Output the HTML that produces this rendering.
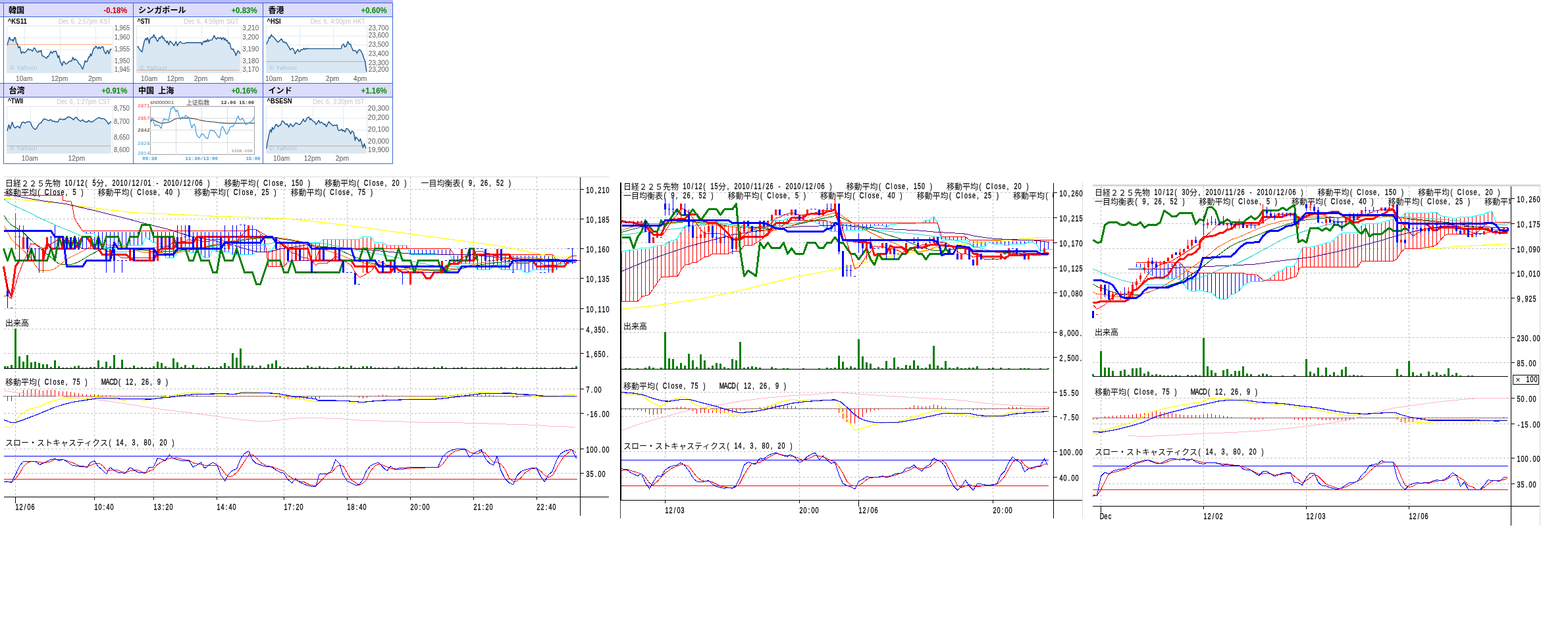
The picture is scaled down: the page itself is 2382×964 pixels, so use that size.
<!DOCTYPE html>
<html><head><meta charset="utf-8"><title>charts</title>
<style>
html,body{margin:0;padding:0;background:#fff;}
body{width:2382px;height:964px;overflow:hidden;font-family:"Liberation Sans",sans-serif;}
svg{display:block;font-family:"Liberation Sans",sans-serif;}
svg{will-change:transform;}
.cj{font-family:"Liberation Sans","Noto Sans CJK JP",sans-serif;}
.cs{font-family:"Liberation Sans","Noto Sans CJK SC",sans-serif;}
</style></head><body>
<svg width="2382" height="964" viewBox="0 0 2382 964" shape-rendering="crispEdges">
<rect x="0" y="0" width="597" height="4" fill="#babafa" />
<rect x="0" y="4" width="597" height="1" fill="#3869d0" />
<rect x="0" y="5" width="596" height="20" fill="#dcdcfc" />
<rect x="0" y="127" width="596" height="20" fill="#dcdcfc" />
<rect x="0" y="25" width="597" height="1" fill="#3869d0" />
<rect x="0" y="126" width="597" height="1" fill="#3869d0" />
<rect x="0" y="147" width="597" height="1" fill="#3869d0" />
<rect x="5" y="248" width="592" height="1" fill="#3869d0" />
<rect x="5" y="4" width="1" height="245" fill="#3869d0" />
<rect x="202" y="4" width="1" height="245" fill="#3869d0" />
<rect x="399" y="4" width="1" height="245" fill="#3869d0" />
<rect x="596" y="4" width="1" height="245" fill="#3869d0" />
<text class="cj" x="13" y="19.8" font-size="12.1" font-weight="bold" fill="#000">韓国</text>
<text x="193.3" y="20.1" font-size="12" fill="#cc0000" text-anchor="end" font-weight="bold" textLength="35.7" lengthAdjust="spacingAndGlyphs" >-0.18%</text>
<text class="cj" x="210" y="19.8" font-size="12.1" font-weight="bold" fill="#000">シンガポール</text>
<text x="390.6" y="20.1" font-size="12" fill="#0a8a0a" text-anchor="end" font-weight="bold" textLength="39.2" lengthAdjust="spacingAndGlyphs" >+0.83%</text>
<text class="cj" x="407.5" y="19.8" font-size="12.1" font-weight="bold" fill="#000">香港</text>
<text x="587.8" y="20.1" font-size="12" fill="#0a8a0a" text-anchor="end" font-weight="bold" textLength="39.3" lengthAdjust="spacingAndGlyphs" >+0.60%</text>
<text class="cj" x="13.5" y="141.8" font-size="12.1" font-weight="bold" fill="#000">台湾</text>
<text x="193.4" y="142.1" font-size="12" fill="#0a8a0a" text-anchor="end" font-weight="bold" textLength="39.1" lengthAdjust="spacingAndGlyphs" >+0.91%</text>
<text class="cj" x="210" y="141.8" font-size="12.1" font-weight="bold" fill="#000">中国</text>
<text class="cj" x="240.2" y="141.8" font-size="12.1" font-weight="bold" fill="#000">上海</text>
<text x="390.6" y="142.1" font-size="12" fill="#0a8a0a" text-anchor="end" font-weight="bold" textLength="39.2" lengthAdjust="spacingAndGlyphs" >+0.16%</text>
<text class="cj" x="407.5" y="141.8" font-size="12.1" font-weight="bold" fill="#000">インド</text>
<text x="587.8" y="142.1" font-size="12" fill="#0a8a0a" text-anchor="end" font-weight="bold" textLength="39.3" lengthAdjust="spacingAndGlyphs" >+1.16%</text>
<text x="11.7" y="35.5" font-size="10.4" fill="#000" font-weight="bold" textLength="29.2" lengthAdjust="spacingAndGlyphs" >^KS11</text>
<text x="88.8" y="35.8" font-size="10.4" fill="#c4c4c4" textLength="79.7" lengthAdjust="spacingAndGlyphs" word-spacing="1">Dec 6, 2:57pm KST</text>
<rect x="10.4" y="39.3" width="161.4" height="71.3" fill="#fff" stroke="#e2e6ea" stroke-width="1"/>
<line x1="37.6" y1="39.3" x2="37.6" y2="112.6" stroke="#e3ebf3" stroke-width="1" />
<line x1="91.4" y1="39.3" x2="91.4" y2="112.6" stroke="#e3ebf3" stroke-width="1" />
<line x1="145.2" y1="39.3" x2="145.2" y2="112.6" stroke="#e3ebf3" stroke-width="1" />
<line x1="10.4" y1="57" x2="173.8" y2="57" stroke="#e3ebf3" stroke-width="1" />
<line x1="10.4" y1="75.2" x2="173.8" y2="75.2" stroke="#e3ebf3" stroke-width="1" />
<line x1="10.4" y1="93.3" x2="173.8" y2="93.3" stroke="#e3ebf3" stroke-width="1" />
<polygon points="11,110.6 11,68.7 14.3,56.4 16.2,60.9 19.4,60.3 19.7,62.9 22.7,56.4 24,59.6 24.6,64.8 26.6,66.8 27.9,72.6 30.1,70.7 32.4,81 34.4,78.4 36.9,80.4 40.2,77.8 42.8,73.9 44.7,75.8 46.7,75.2 49.3,77.8 51.9,72.6 53.8,74.5 55.1,77.8 57.7,79.7 59,77.1 60.9,78.4 62.6,76.5 63.9,84.3 67.4,86.2 70.7,88.8 72,85.6 73.2,86.2 75.8,81 77.4,77.8 79.1,81 81.7,77.8 83,78.4 84.9,77.4 86.2,81 88.2,87.5 89.5,84.3 91.4,93.3 93.3,96.6 94.4,99.8 95.9,94 97.2,93.3 99.8,97.2 101.8,96.6 105.7,92.7 108.9,92.7 110.6,86.9 112.8,91.4 114.1,89.5 117.3,92 119.9,96.6 122.5,99.2 125.5,105 127.7,98.5 129.3,92 130.9,94 132.5,93.3 134.8,86.2 136.1,86.9 137.4,81.7 138.7,84.9 142.4,73.2 143.9,73.2 145.5,70 147.1,72 149.1,73.9 150.4,71 152.3,73.9 154.3,71.3 156.6,71 158.2,77.8 160.8,81.7 162.1,77.8 163.7,76.5 165.3,81.7 167.5,75.2 169.6,74.5 169.6,110.6" fill="#d7e7f2" stroke="none" stroke-width="0" fill-opacity="0.95" shape-rendering="geometricPrecision"/>
<text x="15" y="106" font-size="9.5" fill="#a9c1d5" letter-spacing="0.4">© Yahoo!</text>
<polyline points="11,68.7 14.3,56.4 16.2,60.9 19.4,60.3 19.7,62.9 22.7,56.4 24,59.6 24.6,64.8 26.6,66.8 27.9,72.6 30.1,70.7 32.4,81 34.4,78.4 36.9,80.4 40.2,77.8 42.8,73.9 44.7,75.8 46.7,75.2 49.3,77.8 51.9,72.6 53.8,74.5 55.1,77.8 57.7,79.7 59,77.1 60.9,78.4 62.6,76.5 63.9,84.3 67.4,86.2 70.7,88.8 72,85.6 73.2,86.2 75.8,81 77.4,77.8 79.1,81 81.7,77.8 83,78.4 84.9,77.4 86.2,81 88.2,87.5 89.5,84.3 91.4,93.3 93.3,96.6 94.4,99.8 95.9,94 97.2,93.3 99.8,97.2 101.8,96.6 105.7,92.7 108.9,92.7 110.6,86.9 112.8,91.4 114.1,89.5 117.3,92 119.9,96.6 122.5,99.2 125.5,105 127.7,98.5 129.3,92 130.9,94 132.5,93.3 134.8,86.2 136.1,86.9 137.4,81.7 138.7,84.9 142.4,73.2 143.9,73.2 145.5,70 147.1,72 149.1,73.9 150.4,71 152.3,73.9 154.3,71.3 156.6,71 158.2,77.8 160.8,81.7 162.1,77.8 163.7,76.5 165.3,81.7 167.5,75.2 169.6,74.5" fill="none" stroke="#1b568f" stroke-width="1.4" stroke-linejoin="round" shape-rendering="geometricPrecision"/>
<line x1="11" y1="67.5" x2="170" y2="67.5" stroke="#ff5a00" stroke-width="1" stroke-dasharray="1 1" shape-rendering="crispEdges"/>
<text x="173.7" y="45.7" font-size="10" fill="#585858" textLength="23.6" lengthAdjust="spacingAndGlyphs" >1,965</text>
<text x="173.7" y="60" font-size="10" fill="#585858" textLength="23.6" lengthAdjust="spacingAndGlyphs" >1,960</text>
<text x="173.7" y="78.1" font-size="10" fill="#585858" textLength="23.6" lengthAdjust="spacingAndGlyphs" >1,955</text>
<text x="173.7" y="95.9" font-size="10" fill="#585858" textLength="23.6" lengthAdjust="spacingAndGlyphs" >1,950</text>
<text x="173.7" y="108.6" font-size="10" fill="#585858" textLength="23.6" lengthAdjust="spacingAndGlyphs" >1,945</text>
<text x="36.7" y="122.6" font-size="10" fill="#585858" text-anchor="middle" textLength="25.3" lengthAdjust="spacingAndGlyphs" >10am</text>
<text x="90.5" y="122.6" font-size="10" fill="#585858" text-anchor="middle" textLength="25.7" lengthAdjust="spacingAndGlyphs" >12pm</text>
<text x="144.2" y="122.6" font-size="10" fill="#585858" text-anchor="middle" textLength="20.5" lengthAdjust="spacingAndGlyphs" >2pm</text>
<text x="208.4" y="35.5" font-size="10.4" fill="#000" font-weight="bold" textLength="19.1" lengthAdjust="spacingAndGlyphs" >^STI</text>
<text x="279.3" y="35.8" font-size="10.4" fill="#c4c4c4" textLength="83.4" lengthAdjust="spacingAndGlyphs" word-spacing="1">Dec 6, 4:59pm SGT</text>
<rect x="207.4" y="39.3" width="158.6" height="71.3" fill="#fff" stroke="#e2e6ea" stroke-width="1"/>
<line x1="227.5" y1="39.3" x2="227.5" y2="112.6" stroke="#e3ebf3" stroke-width="1" />
<line x1="267.4" y1="39.3" x2="267.4" y2="112.6" stroke="#e3ebf3" stroke-width="1" />
<line x1="306.6" y1="39.3" x2="306.6" y2="112.6" stroke="#e3ebf3" stroke-width="1" />
<line x1="346.5" y1="39.3" x2="346.5" y2="112.6" stroke="#e3ebf3" stroke-width="1" />
<line x1="207.4" y1="57" x2="367.9" y2="57" stroke="#e3ebf3" stroke-width="1" />
<line x1="207.4" y1="75.2" x2="367.9" y2="75.2" stroke="#e3ebf3" stroke-width="1" />
<line x1="207.4" y1="93.3" x2="367.9" y2="93.3" stroke="#e3ebf3" stroke-width="1" />
<polygon points="208.4,110.6 208.4,71.3 209.7,70.7 211.7,74.5 215.8,79.1 217.5,70.7 219.4,62.2 221.4,58.3 222.7,60.9 224,57 225.3,59.6 226.6,66.1 227.9,59 230.5,56.4 231.8,57 233.7,52.5 235,57 236.3,56.4 237.6,60.3 239.5,62.9 242.1,57 243.4,58.3 244.7,55.7 246.4,54.5 247.3,58.3 248.6,57 249.9,60.9 251.9,62.2 253.2,64.8 254.5,62.2 256.4,68.1 258.3,62.2 260.3,64.2 262.2,66.1 264.4,69.4 267.4,62.9 269.4,69.4 271.3,66.1 273.9,62.9 276.5,65.9 281,65.9 282.3,64.8 305.7,64.8 306.6,68.1 308.3,64.2 310.2,62.2 311.2,64.2 312.8,61.6 314.1,63.5 315.6,59.6 316.7,62.9 318.6,60.9 321.9,60.7 323.8,57.7 325.4,53.8 327.1,57.7 329,59.6 330.9,57 333.5,58.3 335.5,57 336.8,60.3 338.1,57.7 339.4,57 340.7,60.9 342,58.3 343.9,62.2 345.2,60.9 347.1,66.1 348.4,64.8 349.7,67.4 351,73.9 353,75.2 354.3,73.9 355.6,78.4 356.9,79.1 358.4,84.3 361.4,77.1 363.4,79.1 364.9,81.7 364.9,110.6" fill="#d7e7f2" stroke="none" stroke-width="0" fill-opacity="0.95" shape-rendering="geometricPrecision"/>
<text x="212" y="106" font-size="9.5" fill="#a9c1d5" letter-spacing="0.4">© Yahoo!</text>
<polyline points="208.4,71.3 209.7,70.7 211.7,74.5 215.8,79.1 217.5,70.7 219.4,62.2 221.4,58.3 222.7,60.9 224,57 225.3,59.6 226.6,66.1 227.9,59 230.5,56.4 231.8,57 233.7,52.5 235,57 236.3,56.4 237.6,60.3 239.5,62.9 242.1,57 243.4,58.3 244.7,55.7 246.4,54.5 247.3,58.3 248.6,57 249.9,60.9 251.9,62.2 253.2,64.8 254.5,62.2 256.4,68.1 258.3,62.2 260.3,64.2 262.2,66.1 264.4,69.4 267.4,62.9 269.4,69.4 271.3,66.1 273.9,62.9 276.5,65.9 281,65.9 282.3,64.8 305.7,64.8 306.6,68.1 308.3,64.2 310.2,62.2 311.2,64.2 312.8,61.6 314.1,63.5 315.6,59.6 316.7,62.9 318.6,60.9 321.9,60.7 323.8,57.7 325.4,53.8 327.1,57.7 329,59.6 330.9,57 333.5,58.3 335.5,57 336.8,60.3 338.1,57.7 339.4,57 340.7,60.9 342,58.3 343.9,62.2 345.2,60.9 347.1,66.1 348.4,64.8 349.7,67.4 351,73.9 353,75.2 354.3,73.9 355.6,78.4 356.9,79.1 358.4,84.3 361.4,77.1 363.4,79.1 364.9,81.7" fill="none" stroke="#1b568f" stroke-width="1.4" stroke-linejoin="round" shape-rendering="geometricPrecision"/>
<line x1="208" y1="106.5" x2="364" y2="106.5" stroke="#ff5a00" stroke-width="1" stroke-dasharray="1 1" shape-rendering="crispEdges"/>
<text x="368.2" y="45.7" font-size="10" fill="#585858" textLength="25" lengthAdjust="spacingAndGlyphs" >3,210</text>
<text x="368.2" y="60" font-size="10" fill="#585858" textLength="25" lengthAdjust="spacingAndGlyphs" >3,200</text>
<text x="368.2" y="78.1" font-size="10" fill="#585858" textLength="25" lengthAdjust="spacingAndGlyphs" >3,190</text>
<text x="368.2" y="95.9" font-size="10" fill="#585858" textLength="25" lengthAdjust="spacingAndGlyphs" >3,180</text>
<text x="368.2" y="108.6" font-size="10" fill="#585858" textLength="25" lengthAdjust="spacingAndGlyphs" >3,170</text>
<text x="226.6" y="122.6" font-size="10" fill="#585858" text-anchor="middle" textLength="25.3" lengthAdjust="spacingAndGlyphs" >10am</text>
<text x="266.4" y="122.6" font-size="10" fill="#585858" text-anchor="middle" textLength="25.7" lengthAdjust="spacingAndGlyphs" >12pm</text>
<text x="305" y="122.6" font-size="10" fill="#585858" text-anchor="middle" textLength="20.5" lengthAdjust="spacingAndGlyphs" >2pm</text>
<text x="344.9" y="122.6" font-size="10" fill="#585858" text-anchor="middle" textLength="20.5" lengthAdjust="spacingAndGlyphs" >4pm</text>
<text x="405.6" y="35.5" font-size="10.4" fill="#000" font-weight="bold" textLength="21" lengthAdjust="spacingAndGlyphs" >^HSI</text>
<text x="471.7" y="35.8" font-size="10.4" fill="#c4c4c4" textLength="83.2" lengthAdjust="spacingAndGlyphs" word-spacing="1">Dec 6, 4:00pm HKT</text>
<rect x="404.5" y="39.3" width="153" height="71.3" fill="#fff" stroke="#e2e6ea" stroke-width="1"/>
<line x1="455.5" y1="39.3" x2="455.5" y2="112.6" stroke="#e3ebf3" stroke-width="1" />
<line x1="506.4" y1="39.3" x2="506.4" y2="112.6" stroke="#e3ebf3" stroke-width="1" />
<line x1="404.5" y1="54.5" x2="559.5" y2="54.5" stroke="#e3ebf3" stroke-width="1" />
<line x1="404.5" y1="68.3" x2="559.5" y2="68.3" stroke="#e3ebf3" stroke-width="1" />
<line x1="404.5" y1="82.3" x2="559.5" y2="82.3" stroke="#e3ebf3" stroke-width="1" />
<line x1="404.5" y1="96.3" x2="559.5" y2="96.3" stroke="#e3ebf3" stroke-width="1" />
<polygon points="404.9,110.6 404.9,67.4 406.2,63.5 407.5,61.6 408.8,56.4 410.1,57.7 412.3,52.5 413.3,55.1 414.6,55.1 417.9,59 420.5,62.2 422,64.2 425,61.6 427.6,59 430.4,64.2 432.1,63.5 434.1,65.5 435,64.8 437.3,69.4 439.3,72 440.8,75.8 442.5,73.9 444.5,73.2 447,77.1 448.3,81.7 450.3,77.8 452.5,74.8 453.5,77.8 455.5,78.4 457.4,75.2 459.4,75.8 461.3,73.2 462.6,75.2 464.5,73.2 465.8,74.5 467.5,73.2 468.4,73.9 518.3,73.9 519.6,68.7 522.2,66.8 523.5,71.3 526.1,70 528.5,62.9 530.7,67.4 532.4,66.8 533.9,71.3 536.5,77.1 539.1,76.5 541,77.8 542.3,81 544.3,76.5 546.2,75.2 548.2,77.1 550.8,82.3 552.7,88.2 554.6,92.7 555.9,102.4 556.9,108.9 556.9,110.6" fill="#d7e7f2" stroke="none" stroke-width="0" fill-opacity="0.95" shape-rendering="geometricPrecision"/>
<text x="409.1" y="106" font-size="9.5" fill="#a9c1d5" letter-spacing="0.4">© Yahoo!</text>
<polyline points="404.9,67.4 406.2,63.5 407.5,61.6 408.8,56.4 410.1,57.7 412.3,52.5 413.3,55.1 414.6,55.1 417.9,59 420.5,62.2 422,64.2 425,61.6 427.6,59 430.4,64.2 432.1,63.5 434.1,65.5 435,64.8 437.3,69.4 439.3,72 440.8,75.8 442.5,73.9 444.5,73.2 447,77.1 448.3,81.7 450.3,77.8 452.5,74.8 453.5,77.8 455.5,78.4 457.4,75.2 459.4,75.8 461.3,73.2 462.6,75.2 464.5,73.2 465.8,74.5 467.5,73.2 468.4,73.9 518.3,73.9 519.6,68.7 522.2,66.8 523.5,71.3 526.1,70 528.5,62.9 530.7,67.4 532.4,66.8 533.9,71.3 536.5,77.1 539.1,76.5 541,77.8 542.3,81 544.3,76.5 546.2,75.2 548.2,77.1 550.8,82.3 552.7,88.2 554.6,92.7 555.9,102.4 556.9,108.9" fill="none" stroke="#1b568f" stroke-width="1.4" stroke-linejoin="round" shape-rendering="geometricPrecision"/>
<line x1="405" y1="93.5" x2="556" y2="93.5" stroke="#ff5a00" stroke-width="1" stroke-dasharray="1 1" shape-rendering="crispEdges"/>
<text x="559.8" y="45.7" font-size="10" fill="#585858" textLength="30.7" lengthAdjust="spacingAndGlyphs" >23,700</text>
<text x="559.8" y="56.8" font-size="10" fill="#585858" textLength="30.7" lengthAdjust="spacingAndGlyphs" >23,600</text>
<text x="559.8" y="70.8" font-size="10" fill="#585858" textLength="30.7" lengthAdjust="spacingAndGlyphs" >23,500</text>
<text x="559.8" y="84.6" font-size="10" fill="#585858" textLength="30.7" lengthAdjust="spacingAndGlyphs" >23,400</text>
<text x="559.8" y="98.6" font-size="10" fill="#585858" textLength="30.7" lengthAdjust="spacingAndGlyphs" >23,300</text>
<text x="559.8" y="108.6" font-size="10" fill="#585858" textLength="30.7" lengthAdjust="spacingAndGlyphs" >23,200</text>
<text x="415.7" y="122.6" font-size="10" fill="#585858" text-anchor="middle" textLength="25.3" lengthAdjust="spacingAndGlyphs" >10am</text>
<text x="454.6" y="122.6" font-size="10" fill="#585858" text-anchor="middle" textLength="25.7" lengthAdjust="spacingAndGlyphs" >12pm</text>
<text x="505.1" y="122.6" font-size="10" fill="#585858" text-anchor="middle" textLength="20.5" lengthAdjust="spacingAndGlyphs" >2pm</text>
<text x="547.1" y="122.6" font-size="10" fill="#585858" text-anchor="middle" textLength="20.5" lengthAdjust="spacingAndGlyphs" >4pm</text>
<text x="11.7" y="157.4" font-size="10.4" fill="#000" font-weight="bold" textLength="23.6" lengthAdjust="spacingAndGlyphs" >^TWII</text>
<text x="86.6" y="157.7" font-size="10.4" fill="#c4c4c4" textLength="80.9" lengthAdjust="spacingAndGlyphs" word-spacing="1">Dec 6, 1:27pm CST</text>
<rect x="10.4" y="161.6" width="161.4" height="70.8" fill="#fff" stroke="#e2e6ea" stroke-width="1"/>
<line x1="46.4" y1="161.6" x2="46.4" y2="234.3" stroke="#e3ebf3" stroke-width="1" />
<line x1="117.3" y1="161.6" x2="117.3" y2="234.3" stroke="#e3ebf3" stroke-width="1" />
<line x1="10.4" y1="185.3" x2="173.8" y2="185.3" stroke="#e3ebf3" stroke-width="1" />
<line x1="10.4" y1="209.3" x2="173.8" y2="209.3" stroke="#e3ebf3" stroke-width="1" />
<polygon points="11,232.3 11,198.9 13.4,189.2 15.3,195.7 18.5,185.5 20.7,191.8 23.1,194.4 25.9,191.8 27.5,191.8 30.1,194.4 33.4,185.9 35.7,185.3 38.2,186.8 40.2,185.5 44.7,184.4 46.7,186.6 48.6,191.8 50.8,194.4 52.9,196.3 54.5,196 56.4,193.1 59,188.5 60.9,187.2 62.9,186.2 64.8,182.7 66.8,180.5 69.4,181 72.6,182.7 74.5,183.1 77.1,181.4 79.7,184 82.3,184 84.3,185 88.2,185 90.1,181 92.7,180.5 95.3,182 97.2,180.7 99.2,181 101.8,178.2 103.7,177.5 107,178.2 109.6,180.1 111.5,182 114.7,178.2 116.7,178.5 118.6,181.4 121.9,183.7 123.2,184 125.5,181.7 127.7,184 130.3,185.3 132.5,185.3 134.6,182.7 137.2,185 140,185 142.6,183.3 146.5,180.5 150.4,178.4 153.6,180.1 155.6,179.8 158.8,180.7 162.1,184 164.6,188.5 166.6,186.6 168.9,184.4 168.9,232.3" fill="#d7e7f2" stroke="none" stroke-width="0" fill-opacity="0.95" shape-rendering="geometricPrecision"/>
<text x="15" y="227.7" font-size="9.5" fill="#a9c1d5" letter-spacing="0.4">© Yahoo!</text>
<polyline points="11,198.9 13.4,189.2 15.3,195.7 18.5,185.5 20.7,191.8 23.1,194.4 25.9,191.8 27.5,191.8 30.1,194.4 33.4,185.9 35.7,185.3 38.2,186.8 40.2,185.5 44.7,184.4 46.7,186.6 48.6,191.8 50.8,194.4 52.9,196.3 54.5,196 56.4,193.1 59,188.5 60.9,187.2 62.9,186.2 64.8,182.7 66.8,180.5 69.4,181 72.6,182.7 74.5,183.1 77.1,181.4 79.7,184 82.3,184 84.3,185 88.2,185 90.1,181 92.7,180.5 95.3,182 97.2,180.7 99.2,181 101.8,178.2 103.7,177.5 107,178.2 109.6,180.1 111.5,182 114.7,178.2 116.7,178.5 118.6,181.4 121.9,183.7 123.2,184 125.5,181.7 127.7,184 130.3,185.3 132.5,185.3 134.6,182.7 137.2,185 140,185 142.6,183.3 146.5,180.5 150.4,178.4 153.6,180.1 155.6,179.8 158.8,180.7 162.1,184 164.6,188.5 166.6,186.6 168.9,184.4" fill="none" stroke="#1b568f" stroke-width="1.4" stroke-linejoin="round" shape-rendering="geometricPrecision"/>
<line x1="11" y1="221.5" x2="169" y2="221.5" stroke="#ff5a00" stroke-width="1" stroke-dasharray="1 1" shape-rendering="crispEdges"/>
<text x="173.1" y="168.1" font-size="10" fill="#585858" textLength="23.7" lengthAdjust="spacingAndGlyphs" >8,750</text>
<text x="173.1" y="188.2" font-size="10" fill="#585858" textLength="23.7" lengthAdjust="spacingAndGlyphs" >8,700</text>
<text x="173.1" y="211.6" font-size="10" fill="#585858" textLength="23.7" lengthAdjust="spacingAndGlyphs" >8,650</text>
<text x="173.1" y="231" font-size="10" fill="#585858" textLength="23.7" lengthAdjust="spacingAndGlyphs" >8,600</text>
<text x="45.4" y="244.3" font-size="10" fill="#585858" text-anchor="middle" textLength="25.3" lengthAdjust="spacingAndGlyphs" >10am</text>
<text x="116.4" y="244.3" font-size="10" fill="#585858" text-anchor="middle" textLength="25.7" lengthAdjust="spacingAndGlyphs" >12pm</text>
<text x="405.6" y="157.4" font-size="10.4" fill="#000" font-weight="bold" textLength="37.9" lengthAdjust="spacingAndGlyphs" >^BSESN</text>
<text x="475.6" y="157.7" font-size="10.4" fill="#c4c4c4" textLength="78" lengthAdjust="spacingAndGlyphs" word-spacing="1">Dec 6, 3:30pm IST</text>
<rect x="404.5" y="161.6" width="153" height="70.8" fill="#fff" stroke="#e2e6ea" stroke-width="1"/>
<line x1="428.5" y1="161.6" x2="428.5" y2="234.3" stroke="#e3ebf3" stroke-width="1" />
<line x1="475.3" y1="161.6" x2="475.3" y2="234.3" stroke="#e3ebf3" stroke-width="1" />
<line x1="521.6" y1="161.6" x2="521.6" y2="234.3" stroke="#e3ebf3" stroke-width="1" />
<line x1="404.5" y1="179.5" x2="559.5" y2="179.5" stroke="#e3ebf3" stroke-width="1" />
<line x1="404.5" y1="197.2" x2="559.5" y2="197.2" stroke="#e3ebf3" stroke-width="1" />
<line x1="404.5" y1="215.1" x2="559.5" y2="215.1" stroke="#e3ebf3" stroke-width="1" />
<polygon points="404.9,232.3 404.9,225.5 406.2,215.8 408.2,206.7 410.1,198.2 411.4,197 412.3,200.8 413.6,193.1 414.9,196.3 415.9,195.7 417.9,191.1 419.6,188.5 421.1,190.5 422.4,192.4 424.4,190.5 426.3,189.8 428.6,183.6 430.2,184 432.8,187.2 434.7,189.2 436.4,187.9 438.6,193.1 441.2,187.9 443.2,189.8 444.7,192.2 447,189.8 449.6,186.3 452.2,187.9 454.8,189.2 456.8,187.9 459.4,183.3 461,180.7 462.6,184.6 464.2,184 466.5,178.8 467.8,178.4 469.3,177.5 471,182 472.3,180.1 474.3,182.7 476.2,184.6 478.2,184.9 480.1,189.2 482,186.6 484.3,182.7 486.2,187 488.3,185.3 490.5,187.2 492.4,189.2 493.7,188.1 495.7,192.4 497.6,188.5 499.6,184.6 501.5,187 504.1,189.2 506,191.1 508,189.8 509.9,190.5 511.9,189.4 513.2,195.7 514.5,198.2 517.1,197.6 519,196 520.3,198.9 521.6,197.6 524.2,200.2 526.1,195 528.1,195.7 530.7,198.9 532.6,203.2 534.6,198.9 537.1,200.5 538.4,206.7 539.4,213.2 540.6,208 541.9,209 543.6,211.2 545.6,214.7 547.5,210.6 549.5,217.3 551.4,224.2 553.4,218 554.6,222 555.9,225.5 555.9,232.3" fill="#d7e7f2" stroke="none" stroke-width="0" fill-opacity="0.95" shape-rendering="geometricPrecision"/>
<text x="409.1" y="227.7" font-size="9.5" fill="#a9c1d5" letter-spacing="0.4">© Yahoo!</text>
<polyline points="404.9,225.5 406.2,215.8 408.2,206.7 410.1,198.2 411.4,197 412.3,200.8 413.6,193.1 414.9,196.3 415.9,195.7 417.9,191.1 419.6,188.5 421.1,190.5 422.4,192.4 424.4,190.5 426.3,189.8 428.6,183.6 430.2,184 432.8,187.2 434.7,189.2 436.4,187.9 438.6,193.1 441.2,187.9 443.2,189.8 444.7,192.2 447,189.8 449.6,186.3 452.2,187.9 454.8,189.2 456.8,187.9 459.4,183.3 461,180.7 462.6,184.6 464.2,184 466.5,178.8 467.8,178.4 469.3,177.5 471,182 472.3,180.1 474.3,182.7 476.2,184.6 478.2,184.9 480.1,189.2 482,186.6 484.3,182.7 486.2,187 488.3,185.3 490.5,187.2 492.4,189.2 493.7,188.1 495.7,192.4 497.6,188.5 499.6,184.6 501.5,187 504.1,189.2 506,191.1 508,189.8 509.9,190.5 511.9,189.4 513.2,195.7 514.5,198.2 517.1,197.6 519,196 520.3,198.9 521.6,197.6 524.2,200.2 526.1,195 528.1,195.7 530.7,198.9 532.6,203.2 534.6,198.9 537.1,200.5 538.4,206.7 539.4,213.2 540.6,208 541.9,209 543.6,211.2 545.6,214.7 547.5,210.6 549.5,217.3 551.4,224.2 553.4,218 554.6,222 555.9,225.5" fill="none" stroke="#1b568f" stroke-width="1.4" stroke-linejoin="round" shape-rendering="geometricPrecision"/>
<line x1="405" y1="221.5" x2="556" y2="221.5" stroke="#ff5a00" stroke-width="1" stroke-dasharray="1 1" shape-rendering="crispEdges"/>
<text x="558.8" y="168.1" font-size="10" fill="#585858" textLength="32.2" lengthAdjust="spacingAndGlyphs" >20,300</text>
<text x="558.8" y="181.8" font-size="10" fill="#585858" textLength="32.2" lengthAdjust="spacingAndGlyphs" >20,200</text>
<text x="558.8" y="199.9" font-size="10" fill="#585858" textLength="32.2" lengthAdjust="spacingAndGlyphs" >20,100</text>
<text x="558.8" y="217.8" font-size="10" fill="#585858" textLength="32.2" lengthAdjust="spacingAndGlyphs" >20,000</text>
<text x="558.8" y="231" font-size="10" fill="#585858" textLength="32.2" lengthAdjust="spacingAndGlyphs" >19,900</text>
<text x="427.6" y="244.3" font-size="10" fill="#585858" text-anchor="middle" textLength="25.3" lengthAdjust="spacingAndGlyphs" >10am</text>
<text x="474.5" y="244.3" font-size="10" fill="#585858" text-anchor="middle" textLength="25.7" lengthAdjust="spacingAndGlyphs" >12pm</text>
<text x="520" y="244.3" font-size="10" fill="#585858" text-anchor="middle" textLength="20.5" lengthAdjust="spacingAndGlyphs" >2pm</text>
<rect x="228.3" y="161.3" width="158.4" height="73.2" fill="#fff" stroke="#a0a0a0" stroke-width="1.3"/>
<line x1="267.5" y1="161.3" x2="267.5" y2="234.6" stroke="#dcdcdc" stroke-width="1" />
<line x1="306.5" y1="161.3" x2="306.5" y2="234.6" stroke="#dcdcdc" stroke-width="1" />
<line x1="345.5" y1="161.3" x2="345.5" y2="234.6" stroke="#dcdcdc" stroke-width="1" />
<line x1="228.3" y1="179.5" x2="386.7" y2="179.5" stroke="#dcdcdc" stroke-width="1" />
<line x1="228.3" y1="197.5" x2="386.7" y2="197.5" stroke="#dcdcdc" stroke-width="1" />
<line x1="228.3" y1="216.5" x2="386.7" y2="216.5" stroke="#dcdcdc" stroke-width="1" />
<polyline points="228.3,185.3 231.1,182 233.7,182.3 237.6,184.4 241.5,185.9 245.4,187.2 249.9,186.6 254.5,185.9 258.3,185 262.2,182.7 266.1,180.5 270.7,179.5 277.8,179.5 285.6,179.2 290.8,179.7 296.6,180.5 302.4,182 307.6,183.1 312.8,184 318,184.6 324.5,185 330.9,186.2 337.4,186.6 342.6,187.2 349.1,187.2 355.6,187.2 363.4,187.2 371.1,187 378.9,187 384.1,187.2 386.4,186.3" fill="none" stroke="#484848" stroke-width="1.2" stroke-linejoin="round" shape-rendering="geometricPrecision"/>
<polyline points="228.3,185.3 230.5,178.8 232.4,179.5 233.4,185.9 235.3,191.1 236.9,189.2 238.9,190.5 240.8,189.8 245,195 246.7,185.9 249,180.1 251.2,182 253.8,181.4 256.1,183.3 257.7,174.3 259.9,163.9 261.6,164.5 263.5,161.6 265.5,165.8 267.4,169.7 269.4,167.1 271,172.3 272.6,177.5 274.3,181.4 275.8,178.2 277.8,177.5 279.1,180.1 282.1,174.9 284.3,176.9 286.6,178.2 288.2,182 289.7,188.5 291.4,194.4 293.3,189.8 295.3,188.5 296.6,192.4 297.9,201.5 299.2,205.4 301.1,208 303.3,209.3 305,205.4 306.6,203.2 308.9,203.8 310.8,206.7 312.8,209.3 315.6,210.6 317.3,204.1 319,198.9 320.6,197 322.5,198.9 324.5,198.2 326.4,200.2 328.3,202.8 330.9,207.3 333.3,209.3 334.8,202.8 336.1,195 337.7,191.8 339.4,193.7 341.3,198.2 343.3,202.8 344.6,203.4 347.1,200.2 349.1,193.7 351,192.2 353.6,192.2 355.6,189.2 357.5,186.6 359.5,180.7 362.1,175.8 363.6,181.4 365.9,182 368.2,179.5 369.8,181.4 371.4,185.3 373.1,189.2 375,188.5 377.6,186.3 380.9,185.3 383.4,182.7 386.4,177.5" fill="none" stroke="#3c9bdc" stroke-width="1.2" stroke-linejoin="round" shape-rendering="geometricPrecision"/>
<text x="209.1" y="163.3" font-size="7.5" fill="#ff3030" textLength="18.4" lengthAdjust="spacingAndGlyphs" font-family="Liberation Mono, monospace">2871</text>
<text x="209.1" y="182.1" font-size="7.5" fill="#ff3030" textLength="18.4" lengthAdjust="spacingAndGlyphs" font-family="Liberation Mono, monospace">2857</text>
<text x="209.1" y="200.2" font-size="7.5" fill="#222" textLength="18.4" lengthAdjust="spacingAndGlyphs" font-family="Liberation Mono, monospace">2842</text>
<text x="209.1" y="220.3" font-size="7.5" fill="#3c9bdc" textLength="18.4" lengthAdjust="spacingAndGlyphs" font-family="Liberation Mono, monospace">2828</text>
<text x="209.1" y="235.2" font-size="7.5" fill="#3c9bdc" textLength="18.4" lengthAdjust="spacingAndGlyphs" font-family="Liberation Mono, monospace">2814</text>
<text x="228.3" y="158.4" font-size="8" fill="#444" textLength="35.9" lengthAdjust="spacingAndGlyphs" >sh000001</text>
<text class="cs" x="283" y="159.3" font-size="8.8" fill="#444">上证指数</text>
<text x="335.5" y="157.7" font-size="7.5" fill="#333" textLength="50.6" lengthAdjust="spacingAndGlyphs" font-family="Liberation Mono, monospace" font-weight="bold">12-06 15:00</text>
<text x="216.2" y="242.7" font-size="7.5" fill="#3c9bdc" textLength="22.7" lengthAdjust="spacingAndGlyphs" font-family="Liberation Mono, monospace" font-weight="bold">09:30</text>
<text x="281.4" y="242.7" font-size="7.5" fill="#3c9bdc" textLength="49.5" lengthAdjust="spacingAndGlyphs" font-family="Liberation Mono, monospace" font-weight="bold">11:30/13:00</text>
<text x="373.7" y="242.7" font-size="7.5" fill="#3c9bdc" textLength="21.8" lengthAdjust="spacingAndGlyphs" font-family="Liberation Mono, monospace" font-weight="bold">15:00</text>
<text x="351.7" y="231.3" font-size="7.5" fill="#a8a8a8" textLength="31.8" lengthAdjust="spacingAndGlyphs" font-family="Liberation Mono, monospace" font-weight="bold">sina.com</text>
<rect x="6" y="268" width="919" height="1" fill="#d8dce0" />
<line x1="6" y1="287.5" x2="881" y2="287.5" stroke="#c0c0c0" stroke-width="1" stroke-dasharray="3 3" shape-rendering="crispEdges"/>
<line x1="6" y1="332.5" x2="881" y2="332.5" stroke="#c0c0c0" stroke-width="1" stroke-dasharray="3 3" shape-rendering="crispEdges"/>
<line x1="6" y1="377.5" x2="881" y2="377.5" stroke="#c0c0c0" stroke-width="1" stroke-dasharray="3 3" shape-rendering="crispEdges"/>
<line x1="6" y1="422.5" x2="881" y2="422.5" stroke="#c0c0c0" stroke-width="1" stroke-dasharray="3 3" shape-rendering="crispEdges"/>
<line x1="6" y1="468.5" x2="881" y2="468.5" stroke="#c0c0c0" stroke-width="1" stroke-dasharray="3 3" shape-rendering="crispEdges"/>
<line x1="6" y1="499.5" x2="881" y2="499.5" stroke="#c0c0c0" stroke-width="1" stroke-dasharray="3 3" shape-rendering="crispEdges"/>
<line x1="6" y1="536.5" x2="881" y2="536.5" stroke="#c0c0c0" stroke-width="1" stroke-dasharray="3 3" shape-rendering="crispEdges"/>
<line x1="6" y1="590.5" x2="881" y2="590.5" stroke="#c0c0c0" stroke-width="1" stroke-dasharray="3 3" shape-rendering="crispEdges"/>
<line x1="6" y1="627.5" x2="881" y2="627.5" stroke="#c0c0c0" stroke-width="1" stroke-dasharray="3 3" shape-rendering="crispEdges"/>
<line x1="6" y1="681.5" x2="881" y2="681.5" stroke="#c0c0c0" stroke-width="1" stroke-dasharray="3 3" shape-rendering="crispEdges"/>
<line x1="6" y1="718.5" x2="881" y2="718.5" stroke="#c0c0c0" stroke-width="1" stroke-dasharray="3 3" shape-rendering="crispEdges"/>
<line x1="23.5" y1="269" x2="23.5" y2="754" stroke="#c0c0c0" stroke-width="1" stroke-dasharray="3 3" shape-rendering="crispEdges"/>
<line x1="143.5" y1="269" x2="143.5" y2="754" stroke="#c0c0c0" stroke-width="1" stroke-dasharray="3 3" shape-rendering="crispEdges"/>
<line x1="233.5" y1="269" x2="233.5" y2="754" stroke="#c0c0c0" stroke-width="1" stroke-dasharray="3 3" shape-rendering="crispEdges"/>
<line x1="329.5" y1="269" x2="329.5" y2="754" stroke="#c0c0c0" stroke-width="1" stroke-dasharray="3 3" shape-rendering="crispEdges"/>
<line x1="431.5" y1="269" x2="431.5" y2="754" stroke="#c0c0c0" stroke-width="1" stroke-dasharray="3 3" shape-rendering="crispEdges"/>
<line x1="527.5" y1="269" x2="527.5" y2="754" stroke="#c0c0c0" stroke-width="1" stroke-dasharray="3 3" shape-rendering="crispEdges"/>
<line x1="623.5" y1="269" x2="623.5" y2="754" stroke="#c0c0c0" stroke-width="1" stroke-dasharray="3 3" shape-rendering="crispEdges"/>
<line x1="719.5" y1="269" x2="719.5" y2="754" stroke="#c0c0c0" stroke-width="1" stroke-dasharray="3 3" shape-rendering="crispEdges"/>
<line x1="815.5" y1="269" x2="815.5" y2="754" stroke="#c0c0c0" stroke-width="1" stroke-dasharray="3 3" shape-rendering="crispEdges"/>
<rect x="6" y="559" width="871" height="1.3" fill="#000" />
<rect x="6" y="601" width="871" height="1" fill="#808080" />
<rect x="6" y="692" width="871" height="1" fill="#0000ff" />
<rect x="6" y="727" width="871" height="1" fill="#ff0000" />
<rect x="881" y="269" width="1" height="514" fill="#000" />
<rect x="6" y="754" width="919" height="1" fill="#000" />
<rect x="881" y="287" width="6" height="1" fill="#000" />
<rect x="881" y="332" width="6" height="1" fill="#000" />
<rect x="881" y="377" width="6" height="1" fill="#000" />
<rect x="881" y="422" width="6" height="1" fill="#000" />
<rect x="881" y="468" width="6" height="1" fill="#000" />
<rect x="881" y="499" width="6" height="1" fill="#000" />
<rect x="881" y="536" width="6" height="1" fill="#000" />
<rect x="881" y="590" width="6" height="1" fill="#000" />
<rect x="881" y="627" width="6" height="1" fill="#000" />
<rect x="881" y="681" width="6" height="1" fill="#000" />
<rect x="881" y="718" width="6" height="1" fill="#000" />
<rect x="23" y="754" width="1" height="10" fill="#000" />
<rect x="143" y="754" width="1" height="5" fill="#000" />
<rect x="233" y="754" width="1" height="5" fill="#000" />
<rect x="329" y="754" width="1" height="5" fill="#000" />
<rect x="431" y="754" width="1" height="5" fill="#000" />
<rect x="527" y="754" width="1" height="5" fill="#000" />
<rect x="623" y="754" width="1" height="5" fill="#000" />
<rect x="719" y="754" width="1" height="5" fill="#000" />
<rect x="815" y="754" width="1" height="5" fill="#000" />
<text transform="scale(0.75,1)" x="1190.7 1198.7 1206.7 1214.7 1222.7 1230.7" y="293" font-size="12" fill="#000" stroke="#000" stroke-width=".35" text-anchor="middle">10,210</text>
<text transform="scale(0.75,1)" x="1190.7 1198.7 1206.7 1214.7 1222.7 1230.7" y="338" font-size="12" fill="#000" stroke="#000" stroke-width=".35" text-anchor="middle">10,185</text>
<text transform="scale(0.75,1)" x="1190.7 1198.7 1206.7 1214.7 1222.7 1230.7" y="383" font-size="12" fill="#000" stroke="#000" stroke-width=".35" text-anchor="middle">10,160</text>
<text transform="scale(0.75,1)" x="1190.7 1198.7 1206.7 1214.7 1222.7 1230.7" y="428" font-size="12" fill="#000" stroke="#000" stroke-width=".35" text-anchor="middle">10,135</text>
<text transform="scale(0.75,1)" x="1190.7 1198.7 1206.7 1214.7 1222.7 1230.7" y="474" font-size="12" fill="#000" stroke="#000" stroke-width=".35" text-anchor="middle">10,110</text>
<text transform="scale(0.75,1)" x="1190.7 1198.7 1206.7 1214.7 1222.7 1230.7" y="505" font-size="12" fill="#000" stroke="#000" stroke-width=".35" text-anchor="middle">4,350.</text>
<text transform="scale(0.75,1)" x="1190.7 1198.7 1206.7 1214.7 1222.7 1230.7" y="542" font-size="12" fill="#000" stroke="#000" stroke-width=".35" text-anchor="middle">1,650.</text>
<text transform="scale(0.75,1)" x="1190.7 1198.7 1206.7 1214.7" y="596" font-size="12" fill="#000" stroke="#000" stroke-width=".35" text-anchor="middle">7.00</text>
<text transform="scale(0.75,1)" x="1190.7 1198.7 1206.7 1214.7 1222.7 1230.7" y="633" font-size="12" fill="#000" stroke="#000" stroke-width=".35" text-anchor="middle">-16.00</text>
<text transform="scale(0.75,1)" x="1190.7 1198.7 1206.7 1214.7 1222.7 1230.7" y="687" font-size="12" fill="#000" stroke="#000" stroke-width=".35" text-anchor="middle">100.00</text>
<text transform="scale(0.75,1)" x="1190.7 1198.7 1206.7 1214.7 1222.7" y="724" font-size="12" fill="#000" stroke="#000" stroke-width=".35" text-anchor="middle">35.00</text>
<text transform="scale(0.75,1)" x="34.7 42.7 50.7 58.7 66.7" y="774" font-size="12" fill="#000" stroke="#000" stroke-width=".35" text-anchor="middle">12/06</text>
<text transform="scale(0.75,1)" x="194.7 202.7 210.7 218.7 226.7" y="774" font-size="12" fill="#000" stroke="#000" stroke-width=".35" text-anchor="middle">10:40</text>
<text transform="scale(0.75,1)" x="314.7 322.7 330.7 338.7 346.7" y="774" font-size="12" fill="#000" stroke="#000" stroke-width=".35" text-anchor="middle">13:20</text>
<text transform="scale(0.75,1)" x="442.7 450.7 458.7 466.7 474.7" y="774" font-size="12" fill="#000" stroke="#000" stroke-width=".35" text-anchor="middle">14:40</text>
<text transform="scale(0.75,1)" x="578.7 586.7 594.7 602.7 610.7" y="774" font-size="12" fill="#000" stroke="#000" stroke-width=".35" text-anchor="middle">17:20</text>
<text transform="scale(0.75,1)" x="706.7 714.7 722.7 730.7 738.7" y="774" font-size="12" fill="#000" stroke="#000" stroke-width=".35" text-anchor="middle">18:40</text>
<text transform="scale(0.75,1)" x="834.7 842.7 850.7 858.7 866.7" y="774" font-size="12" fill="#000" stroke="#000" stroke-width=".35" text-anchor="middle">20:00</text>
<text transform="scale(0.75,1)" x="962.7 970.7 978.7 986.7 994.7" y="774" font-size="12" fill="#000" stroke="#000" stroke-width=".35" text-anchor="middle">21:20</text>
<text transform="scale(0.75,1)" x="1090.7 1098.7 1106.7 1114.7 1122.7" y="774" font-size="12" fill="#000" stroke="#000" stroke-width=".35" text-anchor="middle">22:40</text>
<clipPath id="cl6"><rect x="6" y="267" width="875" height="514"/></clipPath><g clip-path="url(#cl6)">
<text class="cj" x="8 20 32 44 56 68 80" y="282.7" font-size="12" fill="#000">日経２２５先物</text>
<text transform="scale(0.75,1)" x="134.7 142.7 150.7 158.7 166.7 174.7 190.7" y="282" font-size="12" fill="#000" stroke="#000" stroke-width=".35" text-anchor="middle">10/12(5</text>
<text class="cj" x="146" y="282.7" font-size="12" fill="#000">分</text>
<text transform="scale(0.75,1)" x="214.7 230.7 238.7 246.7 254.7 262.7 270.7 278.7 286.7 294.7 302.7 318.7 334.7 342.7 350.7 358.7 366.7 374.7 382.7 390.7 398.7 406.7 422.7" y="282" font-size="12" fill="#000" stroke="#000" stroke-width=".35" text-anchor="middle">,2010/12/01-2010/12/06)</text>
<text class="cj" x="340.5 352.5 364.5 376.5" y="282.7" font-size="12" fill="#000">移動平均</text>
<text transform="scale(0.75,1)" x="522 538 546 554 562 570 578 594 602 610 626" y="282" font-size="12" fill="#000" stroke="#000" stroke-width=".35" text-anchor="middle">(Close,150)</text>
<text class="cj" x="493 505 517 529" y="282.7" font-size="12" fill="#000">移動平均</text>
<text transform="scale(0.75,1)" x="725.3 741.3 749.3 757.3 765.3 773.3 781.3 797.3 805.3 821.3" y="282" font-size="12" fill="#000" stroke="#000" stroke-width=".35" text-anchor="middle">(Close,20)</text>
<text class="cj" x="639.5 651.5 663.5 675.5 687.5" y="282.7" font-size="12" fill="#000">一目均衡表</text>
<text transform="scale(0.75,1)" x="936.7 952.7 960.7 976.7 984.7 992.7 1008.7 1016.7 1032.7" y="282" font-size="12" fill="#000" stroke="#000" stroke-width=".35" text-anchor="middle">(9,26,52)</text>
<text class="cj" x="8 20 32 44" y="296.7" font-size="12" fill="#000">移動平均</text>
<text transform="scale(0.75,1)" x="78.7 94.7 102.7 110.7 118.7 126.7 134.7 150.7 166.7" y="296" font-size="12" fill="#000" stroke="#000" stroke-width=".35" text-anchor="middle">(Close,5)</text>
<text class="cj" x="148.5 160.5 172.5 184.5" y="296.7" font-size="12" fill="#000">移動平均</text>
<text transform="scale(0.75,1)" x="266 282 290 298 306 314 322 338 346 362" y="296" font-size="12" fill="#000" stroke="#000" stroke-width=".35" text-anchor="middle">(Close,40)</text>
<text class="cj" x="295 307 319 331" y="296.7" font-size="12" fill="#000">移動平均</text>
<text transform="scale(0.75,1)" x="461.3 477.3 485.3 493.3 501.3 509.3 517.3 533.3 541.3 557.3" y="296" font-size="12" fill="#000" stroke="#000" stroke-width=".35" text-anchor="middle">(Close,25)</text>
<text class="cj" x="441.5 453.5 465.5 477.5" y="296.7" font-size="12" fill="#000">移動平均</text>
<text transform="scale(0.75,1)" x="656.7 672.7 680.7 688.7 696.7 704.7 712.7 728.7 736.7 752.7" y="296" font-size="12" fill="#000" stroke="#000" stroke-width=".35" text-anchor="middle">(Close,75)</text>
<text class="cj" x="8 20 32" y="494.7" font-size="12" fill="#000">出来高</text>
<text class="cj" x="8 20 32 44" y="585.2" font-size="12" fill="#000">移動平均</text>
<text transform="scale(0.75,1)" x="78.7 94.7 102.7 110.7 118.7 126.7 134.7 150.7 158.7 174.7" y="584.5" font-size="12" fill="#000" stroke="#000" stroke-width=".35" text-anchor="middle">(Close,75)</text>
<text transform="scale(0.75,1)" x="210 218 226 234 242 258 266 274 290 298 306 322 338" y="584.5" font-size="12" fill="#000" stroke="#000" stroke-width=".35" text-anchor="middle">MACD(12,26,9)</text>
<text class="cj" x="8 20 32 44 56 68 80 92 104 116 128 140 152" y="676.7" font-size="12" fill="#000">スロー・ストキャスティクス</text>
<text transform="scale(0.75,1)" x="222.7 238.7 246.7 254.7 270.7 278.7 294.7 302.7 310.7 326.7 334.7 350.7" y="676" font-size="12" fill="#000" stroke="#000" stroke-width=".35" text-anchor="middle">(14,3,80,20)</text>
</g>
<rect x="131" y="351.5" width="1" height="3.1" fill="#0000ff" />
<rect x="137" y="351.5" width="1" height="3.1" fill="#0000ff" />
<rect x="143" y="351.5" width="1" height="3.1" fill="#0000ff" />
<rect x="149" y="351.5" width="1" height="25.5" fill="#0000ff" />
<rect x="155" y="351.5" width="1" height="25.5" fill="#0000ff" />
<rect x="161" y="351.5" width="1" height="25.5" fill="#0000ff" />
<rect x="167" y="351.5" width="1" height="25.5" fill="#0000ff" />
<rect x="173" y="351.5" width="1" height="25.5" fill="#0000ff" />
<rect x="179" y="351.5" width="1" height="21" fill="#0000ff" />
<rect x="185" y="351.5" width="1" height="21" fill="#0000ff" />
<rect x="191" y="351.5" width="1" height="21" fill="#0000ff" />
<rect x="197" y="351.5" width="1" height="21" fill="#0000ff" />
<rect x="203" y="351.5" width="1" height="21" fill="#0000ff" />
<rect x="209" y="351.5" width="1" height="21" fill="#0000ff" />
<rect x="215" y="351.5" width="1" height="21" fill="#0000ff" />
<rect x="221" y="351.5" width="1" height="8.7" fill="#0000ff" />
<rect x="227" y="351.5" width="1" height="13" fill="#0000ff" />
<rect x="233" y="351.5" width="1" height="17.2" fill="#0000ff" />
<rect x="239" y="351.5" width="1" height="17.5" fill="#0000ff" />
<rect x="245" y="351.5" width="1" height="17.9" fill="#0000ff" />
<rect x="251" y="351.5" width="1" height="40.1" fill="#0000ff" />
<rect x="257" y="351.5" width="1" height="40.1" fill="#0000ff" />
<rect x="263" y="351.5" width="1" height="40.1" fill="#0000ff" />
<rect x="269" y="351.5" width="1" height="32.1" fill="#0000ff" />
<rect x="275" y="351.5" width="1" height="29.3" fill="#0000ff" />
<rect x="281" y="351.5" width="1" height="26.5" fill="#0000ff" />
<rect x="287" y="351.5" width="1" height="31.5" fill="#0000ff" />
<rect x="293" y="351.5" width="1" height="31.8" fill="#0000ff" />
<rect x="299" y="351.5" width="1" height="32.1" fill="#0000ff" />
<rect x="305" y="351.5" width="1" height="35.5" fill="#0000ff" />
<rect x="311" y="351.5" width="1" height="40.1" fill="#0000ff" />
<rect x="317" y="351.5" width="1" height="40.1" fill="#0000ff" />
<rect x="323" y="351.5" width="1" height="26.5" fill="#0000ff" />
<rect x="329" y="351.5" width="1" height="31" fill="#0000ff" />
<rect x="335" y="351.5" width="1" height="31" fill="#0000ff" />
<rect x="341" y="351.5" width="1" height="31" fill="#0000ff" />
<rect x="347" y="351.5" width="1" height="31" fill="#0000ff" />
<rect x="353" y="351.5" width="1" height="35" fill="#0000ff" />
<rect x="359" y="351.5" width="1" height="35" fill="#0000ff" />
<rect x="365" y="351.5" width="1" height="35" fill="#0000ff" />
<rect x="371" y="351.5" width="1" height="35" fill="#0000ff" />
<rect x="377" y="349.3" width="1" height="37.2" fill="#0000ff" />
<rect x="383" y="349.3" width="1" height="37.2" fill="#0000ff" />
<rect x="389" y="349.3" width="1" height="32.7" fill="#0000ff" />
<rect x="395" y="355.6" width="1" height="26.4" fill="#0000ff" />
<rect x="401" y="362" width="1" height="20" fill="#0000ff" />
<rect x="407" y="383" width="1" height="21.5" fill="#ff0000" />
<rect x="413" y="380" width="1" height="24.5" fill="#ff0000" />
<rect x="419" y="370.4" width="1" height="34.1" fill="#ff0000" />
<rect x="425" y="370.4" width="1" height="34.1" fill="#ff0000" />
<rect x="431" y="370.4" width="1" height="34.1" fill="#ff0000" />
<rect x="437" y="370.4" width="1" height="27" fill="#ff0000" />
<rect x="443" y="370.4" width="1" height="25.1" fill="#ff0000" />
<rect x="449" y="370.4" width="1" height="25.1" fill="#ff0000" />
<rect x="455" y="369.2" width="1" height="26.3" fill="#ff0000" />
<rect x="461" y="369.2" width="1" height="26.3" fill="#ff0000" />
<rect x="467" y="369.2" width="1" height="26.3" fill="#ff0000" />
<rect x="473" y="369.2" width="1" height="26.3" fill="#ff0000" />
<rect x="479" y="369.2" width="1" height="26.3" fill="#ff0000" />
<rect x="485" y="369.2" width="1" height="8.3" fill="#ff0000" />
<rect x="491" y="364" width="1" height="13.5" fill="#ff0000" />
<rect x="497" y="364" width="1" height="13.5" fill="#ff0000" />
<rect x="503" y="364" width="1" height="13.5" fill="#ff0000" />
<rect x="509" y="364" width="1" height="13.5" fill="#ff0000" />
<rect x="515" y="364" width="1" height="13.5" fill="#ff0000" />
<rect x="521" y="364" width="1" height="13.5" fill="#ff0000" />
<rect x="527" y="364" width="1" height="13.5" fill="#ff0000" />
<rect x="533" y="364" width="1" height="13.5" fill="#ff0000" />
<rect x="539" y="364" width="1" height="13.5" fill="#ff0000" />
<rect x="545" y="364" width="1" height="13.5" fill="#ff0000" />
<rect x="551" y="360.5" width="1" height="17" fill="#ff0000" />
<rect x="557" y="360.5" width="1" height="17" fill="#ff0000" />
<rect x="563" y="360.5" width="1" height="17" fill="#ff0000" />
<rect x="569" y="369.5" width="1" height="8" fill="#ff0000" />
<rect x="575" y="369.5" width="1" height="8" fill="#ff0000" />
<rect x="581" y="369.5" width="1" height="8" fill="#ff0000" />
<rect x="587" y="373.2" width="1" height="4.3" fill="#ff0000" />
<rect x="593" y="373.2" width="1" height="4.3" fill="#ff0000" />
<rect x="599" y="373.2" width="1" height="4.3" fill="#ff0000" />
<rect x="605" y="373.2" width="1" height="4.3" fill="#ff0000" />
<rect x="611" y="373.2" width="1" height="4.3" fill="#ff0000" />
<rect x="617" y="373.2" width="1" height="4.3" fill="#ff0000" />
<rect x="623" y="378.5" width="1" height="8" fill="#0000ff" />
<rect x="629" y="378.5" width="1" height="8" fill="#0000ff" />
<rect x="635" y="378.5" width="1" height="8" fill="#0000ff" />
<rect x="641" y="378.5" width="1" height="8" fill="#0000ff" />
<rect x="647" y="378.5" width="1" height="8" fill="#0000ff" />
<rect x="653" y="378.5" width="1" height="8" fill="#0000ff" />
<rect x="659" y="378.5" width="1" height="8" fill="#0000ff" />
<rect x="665" y="378.5" width="1" height="8" fill="#0000ff" />
<rect x="671" y="378.5" width="1" height="8" fill="#0000ff" />
<rect x="677" y="378.5" width="1" height="8" fill="#0000ff" />
<rect x="683" y="378.5" width="1" height="8" fill="#0000ff" />
<rect x="689" y="387.5" width="1" height="12.1" fill="#0000ff" />
<rect x="695" y="387.5" width="1" height="13.3" fill="#0000ff" />
<rect x="701" y="387.5" width="1" height="13.3" fill="#0000ff" />
<rect x="707" y="387.5" width="1" height="13.3" fill="#0000ff" />
<rect x="713" y="387.5" width="1" height="13.3" fill="#0000ff" />
<rect x="719" y="387.5" width="1" height="13.3" fill="#0000ff" />
<rect x="725" y="387.5" width="1" height="22" fill="#0000ff" />
<rect x="731" y="387.5" width="1" height="22" fill="#0000ff" />
<rect x="737" y="387.5" width="1" height="22" fill="#0000ff" />
<rect x="743" y="387.5" width="1" height="22" fill="#0000ff" />
<rect x="749" y="387.5" width="1" height="17" fill="#0000ff" />
<rect x="755" y="387.5" width="1" height="17" fill="#0000ff" />
<rect x="761" y="387.5" width="1" height="22" fill="#0000ff" />
<rect x="767" y="387.5" width="1" height="22" fill="#0000ff" />
<rect x="773" y="387.5" width="1" height="22" fill="#0000ff" />
<rect x="779" y="387.5" width="1" height="22" fill="#0000ff" />
<rect x="785" y="387.5" width="1" height="22" fill="#0000ff" />
<rect x="791" y="387.5" width="1" height="22" fill="#0000ff" />
<rect x="797" y="387.5" width="1" height="26" fill="#0000ff" />
<rect x="803" y="387.5" width="1" height="26" fill="#0000ff" />
<rect x="809" y="387.5" width="1" height="22" fill="#0000ff" />
<rect x="815" y="387.5" width="1" height="22" fill="#0000ff" />
<rect x="821" y="387.5" width="1" height="22" fill="#0000ff" />
<rect x="827" y="387.5" width="1" height="22" fill="#0000ff" />
<rect x="833" y="387.5" width="1" height="22" fill="#0000ff" />
<rect x="839" y="387.5" width="1" height="22" fill="#0000ff" />
<rect x="845" y="396.5" width="1" height="13" fill="#0000ff" />
<rect x="851" y="396.5" width="1" height="4.3" fill="#0000ff" />
<rect x="857" y="396.5" width="1" height="4.3" fill="#0000ff" />
<rect x="863" y="396.5" width="1" height="4.3" fill="#0000ff" />
<polyline points="125.5,350.5 131.5,354.6 143.5,354.6 149.5,377 173.5,377 179.5,372.5 215.5,372.5 221.5,360.2 227.5,364.5 233.5,368.7 245.5,369.4 248,375.6 251.5,391.6 263.5,391.6 269.5,383.6 281.5,378 287.5,383 299.5,383.6 305.5,387 311.5,391.6 317.5,391.6 323.5,378 329.5,382.5 347.5,382.5 353.5,386.5 383.5,386.5 389.5,382 407.5,382 413.5,379 419.5,369.4 449.5,369.4 455.5,368.2 479.5,368.2 485.5,368.2 491.5,363 545.5,363 551.5,359.5 563.5,359.5 569.5,368.5 581.5,368.5 587.5,372.2 617.5,372.2 623.5,386.5 683.5,386.5 689.5,399.6 695.5,400.8 719.5,400.8 725.5,409.5 743.5,409.5 749.5,404.5 755.5,404.5 761.5,409.5 791.5,409.5 797.5,413.5 803.5,413.5 809.5,409.5 845.5,409.5 851.5,400.8 863.5,400.8 869.5,395.5 881,395.5" fill="none" stroke="#00ffff" stroke-width="1" shape-rendering="crispEdges"/>
<polyline points="6,296.3 95,296.3 95.3,304.8 107.8,305.4 109.8,312.8 113,330 114.5,334.5 125.5,350.5 371.5,350.5 377.5,348.3 389.5,348.3 401.5,361 404,376 407.5,404.5 431.5,404.5 437.5,397.4 443.5,395.5 479.5,395.5 485.5,377.5 683.5,377.5 689.5,386.5 839.5,386.5 845.5,395.5 881,395.5" fill="none" stroke="#ff0000" stroke-width="1" shape-rendering="crispEdges"/>
<polyline points="6.3,301.4 24,302.6 64,306 99.3,309.4 114,312.3 143.8,315.7 171,319 194,322 216.8,323.7 240,324.2 319.6,328 431.4,331.9 460,334.2 528.5,342.2 619.8,354.7 688.3,363.9 756.7,373 791,379.8 825.2,386.7 848,390.6 861.7,390.1 874.3,388.5" fill="none" stroke="#ffff00" stroke-width="1.2" />
<polyline points="6.3,292.3 22.8,297.4 64,304.8 99.3,309.4 114,312.8 143.8,319.7 171,326.5 194,332.2 216.8,338.5 240,344.3 260.5,349.4 288,358.5 320,364.2 354,372.2 377,379 389.5,382 411,382 425,378 457,373.4 468,371 480,375 503,375.6 525.6,376.8 560,379.6 582.7,381.4 605.5,383.6 628.4,385.7 662.6,386 685.4,386.5 720,387 734,388.8 768.5,391.6 802.7,393.9 837,395.6 874.6,398.5" fill="none" stroke="#4b0082" stroke-width="1" />
<polyline points="6.3,302 14.8,308.8 22.8,312.8 34.2,318 45.6,323.1 57.1,329.4 68.5,334.5 79.9,339.6 91.3,344.8 102.7,349.3 114.1,353.9 121,357.3 131.2,361.3 143.8,364.2 151.8,369.9 162.1,376.7 171.2,381.3 182.6,383 199.7,381.3 216.8,377.9 240,375 257.1,374.5 285.6,375.6 314.2,375.1 342.7,372.8 397.5,372.2 418,368.2 448.8,369.4 480,369.9 493.7,369.9 519.9,375.6 548.5,381.4 582.7,387.1 605.5,391.6 628.4,397.3 651.2,401.9 674,404.8 696.8,404.2 720,403.3 745.6,403 791.3,398.5 825.5,397.3 871.2,396.8" fill="none" stroke="#30d0d0" stroke-width="1" />
<polyline points="6.3,327 11.4,335.6 17.1,341.4 22.8,344.8 34.2,351.6 45.6,363 57,373.3 68.5,383.6 80,392.7 86.7,398.5 91.3,401.4 107.3,402 119.8,397.4 137,387 151.8,379 170,375 200,378 240,382.5 274,380.2 308.5,375.6 342.7,370 365.5,365.4 382.7,362.5 400,361.4 422.6,362 445.4,365.4 468,368.8 480,373.4 502.8,375.6 520,381.4 537,389.3 560,398.5 582.7,403 605.5,405.3 628.4,407.6 651,410 674,411 697,408.7 722.8,403 745.6,399.6 768.5,397.3 802.7,393.9 825.5,393.3 848.4,393.9 874.6,395.6" fill="none" stroke="#006400" stroke-width="1" />
<polyline points="6.3,343 11.4,351.6 17.1,363 22.8,368.7 34.2,379 41.7,385.9 47.9,392.7 53.6,403 59.5,410 73,411 82.2,408.8 91.3,402 100.4,394 114,387 125.5,381.3 137,374.5 143.8,370.5 159.8,371.6 188.3,374.5 205.4,380.2 216.8,383 240,383.6 263,384.8 297,378 331,370 354,365.4 377,362 400,360.2 417,360.2 434,362.5 457,366.5 480,373.4 497,380.2 514,386 537,395 560,400.8 582.7,403 605.5,405.3 628.4,410 651,410 674,408.7 697,406.5 722.8,400.8 757,394 780,391.6 814,391.6 837,395 860,395.6 874.6,395" fill="none" stroke="#ff6600" stroke-width="1" />
<polyline points="5.5,404.5 11.5,438.7 17.5,449.5 23.5,404.5 29.5,395.5 35.5,395.5 41.5,395.5 47.5,395.5 53.5,395.5 59.5,395.5 65.5,395.5 71.5,368.5 77.5,377.5 83.5,377.5 89.5,377.5 95.5,377.5 101.5,377.5 107.5,377.5 113.5,377.5 119.5,368.5 125.5,359.5 131.5,359.5 137.5,368.5 143.5,377.5 149.5,377.5 155.5,386.5 161.5,386.5 167.5,386.5 173.5,386.5 179.5,386.5 185.5,386.5 191.5,386.5 197.5,391.9 203.5,395.5 209.5,395.5 215.5,395.5 221.5,395.5 227.5,395.5 233.5,395.5 239.5,381.1 245.5,377.5 251.5,377.5 257.5,377.5 263.5,377.5 269.5,368.5 275.5,368.5 281.5,368.5 287.5,368.5 293.5,368.5 299.5,359.5 305.5,359.5 311.5,359.5 317.5,359.5 323.5,359.5 329.5,359.5 335.5,359.5 341.5,359.5 347.5,359.5 353.5,359.5 359.5,359.5 365.5,359.5 371.5,359.5 377.5,359.5 383.5,359.5 389.5,359.5 395.5,359.5 401.5,359.5 407.5,359.5 413.5,359.5 419.5,368.5 425.5,368.5 431.5,373.9 437.5,377.5 443.5,377.5 449.5,377.5 455.5,377.5 461.5,377.5 467.5,377.5 473.5,395.5 479.5,395.5 485.5,395.5 491.5,395.5 497.5,395.5 503.5,395.5 509.5,395.5 515.5,395.5 521.5,395.5 527.5,395.5 533.5,395.5 539.5,404.5 545.5,404.5 551.5,404.5 557.5,404.5 563.5,404.5 569.5,404.5 575.5,413.5 581.5,413.5 587.5,413.5 593.5,413.5 599.5,404.5 605.5,409.9 611.5,413.5 617.5,413.5 623.5,413.5 629.5,413.5 635.5,413.5 641.5,413.5 647.5,422.5 653.5,422.5 659.5,413.5 665.5,413.5 671.5,413.5 677.5,404.5 683.5,400.9 689.5,400.9 695.5,400.9 701.5,395.5 707.5,395.5 713.5,395.5 719.5,395.5 725.5,386.5 731.5,386.5 737.5,386.5 743.5,386.5 749.5,386.5 755.5,386.5 761.5,386.5 767.5,386.5 773.5,386.5 779.5,395.5 785.5,395.5 791.5,395.5 797.5,395.5 803.5,395.5 809.5,395.5 815.5,404.5 821.5,404.5 827.5,404.5 833.5,404.5 839.5,404.5 845.5,404.5 851.5,404.5 857.5,404.5 863.5,395.5 869.5,395.5 875.5,395.5" fill="none" stroke="#ff0000" stroke-width="3" stroke-linejoin="round" stroke-linecap="butt"/>
<polyline points="5.5,377.5 11.5,395.5 17.5,377.5 23.5,395.5 29.5,395.5 35.5,395.5 41.5,395.5 47.5,377.5 53.5,395.5 59.5,395.5 65.5,395.5 71.5,395.5 77.5,377.5 83.5,395.5 89.5,359.5 95.5,377.5 101.5,359.5 107.5,377.5 113.5,359.5 119.5,377.5 125.5,359.5 131.5,359.5 137.5,359.5 143.5,377.5 149.5,359.5 155.5,377.5 161.5,359.5 167.5,359.5 173.5,359.5 179.5,359.5 185.5,377.5 191.5,377.5 197.5,359.5 203.5,359.5 209.5,359.5 215.5,341.5 221.5,341.5 227.5,341.5 233.5,359.5 239.5,359.5 245.5,359.5 251.5,359.5 257.5,359.5 263.5,359.5 269.5,377.5 275.5,377.5 281.5,377.5 287.5,395.5 293.5,395.5 299.5,377.5 305.5,395.5 311.5,395.5 317.5,395.5 323.5,413.5 329.5,413.5 335.5,377.5 341.5,395.5 347.5,395.5 353.5,395.5 359.5,377.5 365.5,395.5 371.5,413.5 377.5,413.5 383.5,413.5 389.5,431.5 395.5,431.5 401.5,413.5 407.5,395.5 413.5,395.5 419.5,395.5 425.5,395.5 431.5,413.5 437.5,413.5 443.5,395.5 449.5,413.5 455.5,413.5 461.5,413.5 467.5,413.5 473.5,413.5 479.5,413.5 485.5,413.5 491.5,413.5 497.5,413.5 503.5,413.5 509.5,413.5 515.5,413.5 521.5,395.5 527.5,395.5 533.5,395.5 539.5,395.5 545.5,395.5 551.5,377.5 557.5,377.5 563.5,395.5 569.5,377.5 575.5,377.5 581.5,377.5 587.5,395.5 593.5,395.5 599.5,395.5 605.5,377.5 611.5,395.5 617.5,395.5 623.5,395.5 629.5,413.5 635.5,395.5 641.5,395.5 647.5,395.5 653.5,395.5 659.5,395.5 665.5,395.5 671.5,413.5 677.5,413.5 683.5,395.5 689.5,395.5 695.5,395.5 701.5,395.5 707.5,395.5 713.5,377.5 719.5,377.5 725.5,395.5" fill="none" stroke="#008000" stroke-width="3" stroke-linejoin="round" stroke-linecap="butt"/>
<polyline points="6.3,449.3 11.4,448.7 17.1,453.3 22.8,435 28.5,415.6 34.2,400.8 39.9,389.4 43.4,379.1 46.8,370 53.5,370.4 59.5,374 65.5,377.6 71.5,374 77.5,370.4 83.5,366.8 89.5,363.2 95.5,359.6 101.5,363.2 107.5,366.8 113.5,370.3 119.5,373.9 125.5,377.6 131.5,377.6 137.5,377.6 143.5,377.6 149.5,377.6 155.5,377.5 161.5,381.1 167.5,381.1 173.5,384.7 179.5,388.3 185.5,391.9 191.5,391.9 197.5,391.9 203.5,391.9 209.5,391.9 215.5,391.9 221.5,391.9 227.5,391.9 233.5,391.9 239.5,384.7 245.5,381.1 251.5,373.9 257.5,373.9 263.5,366.7 269.5,370.3 275.5,366.7 281.5,366.7 287.5,363.1 293.5,366.7 299.5,363.1 305.5,366.7 311.5,366.7 317.5,366.7 323.5,363.1 329.5,363.1 335.5,363.1 341.5,366.7 347.5,366.7 353.5,366.7 359.5,366.7 365.5,359.5 371.5,352.3 377.5,348.7 383.5,348.7 389.5,348.7 395.5,352.3 401.5,355.9 407.5,359.5 413.5,359.5 419.5,363.1 425.5,366.7 431.5,370.3 437.5,377.5 443.5,384.7 449.5,384.7 455.5,388.3 461.5,391.9 467.5,391.9 473.5,395.5 479.5,402.7 485.5,399.1 491.5,399.1 497.5,399.1 503.5,395.5 509.5,388.3 515.5,391.9 521.5,395.5 527.5,399.1 533.5,402.7 539.5,413.5 545.5,420.7 551.5,418.9 557.5,415.3 563.5,411.7 569.5,404.5 575.5,397.3 581.5,399.1 587.5,402.7 593.5,402.7 599.5,406.3 605.5,409.9 611.5,409.9 617.5,409.9 623.5,413.5 629.5,413.5 635.5,413.5 641.5,413.5 647.5,413.5 653.5,413.5 659.5,413.5 665.5,413.5 671.5,409.9 677.5,406.3 683.5,402.7 689.5,399.1 695.5,395.5 701.5,391.9 707.5,388.3 713.5,388.3 719.5,384.7 725.5,381.1 731.5,381.1 737.5,384.7 743.5,384.7 749.5,388.3 755.5,388.3 761.5,391.9 767.5,391.9 773.5,391.9 779.5,395.5 785.5,399.1 791.5,399.1 797.5,399.1 803.5,399.1 809.5,395.5 815.5,395.5 821.5,399.1 827.5,402.7 833.5,402.7 839.5,402.7 845.5,402.7 851.5,399.1 857.5,395.5 863.5,391.9 869.5,388.3 875.5,388.3" fill="none" stroke="#ff0000" stroke-width="1" />
<rect x="11" y="431.5" width="1" height="36.5" fill="#0000ff" />
<rect x="10" y="440.5" width="3" height="9.5" fill="#0000ff" />
<rect x="16" y="467" width="3" height="1" fill="#0000ff" />
<rect x="23" y="323.5" width="1" height="54.5" fill="#ff0000" />
<rect x="22" y="358.8" width="3" height="1" fill="#ff0000" />
<rect x="29" y="341.5" width="1" height="54.5" fill="#0000ff" />
<rect x="28" y="359.2" width="3" height="1" fill="#0000ff" />
<rect x="35" y="341.5" width="1" height="36.5" fill="#ff0000" />
<rect x="34" y="359.5" width="3" height="18.5" fill="#ff0000" />
<rect x="41" y="359.5" width="1" height="36.5" fill="#0000ff" />
<rect x="40" y="359.5" width="3" height="18.5" fill="#0000ff" />
<rect x="47" y="377.5" width="1" height="18.5" fill="#0000ff" />
<rect x="46" y="377.2" width="3" height="1" fill="#0000ff" />
<rect x="53" y="377.5" width="1" height="18.5" fill="#0000ff" />
<rect x="52" y="377.2" width="3" height="1" fill="#0000ff" />
<rect x="59" y="377.5" width="1" height="36.5" fill="#0000ff" />
<rect x="58" y="377.2" width="3" height="1" fill="#0000ff" />
<rect x="65" y="377.5" width="1" height="36.5" fill="#ff0000" />
<rect x="64" y="377.5" width="3" height="18.5" fill="#ff0000" />
<rect x="71" y="359.5" width="1" height="18.5" fill="#ff0000" />
<rect x="70" y="359.5" width="3" height="18.5" fill="#ff0000" />
<rect x="77" y="359.5" width="1" height="18.5" fill="#0000ff" />
<rect x="76" y="359.2" width="3" height="1" fill="#0000ff" />
<rect x="83" y="341.5" width="1" height="36.5" fill="#0000ff" />
<rect x="82" y="359.2" width="3" height="1" fill="#0000ff" />
<rect x="89" y="359.5" width="1" height="18.5" fill="#0000ff" />
<rect x="88" y="359.2" width="3" height="1" fill="#0000ff" />
<rect x="95" y="359.5" width="1" height="18.5" fill="#ff0000" />
<rect x="94" y="359.5" width="3" height="18.5" fill="#ff0000" />
<rect x="101" y="359.5" width="1" height="18.5" fill="#0000ff" />
<rect x="100" y="359.5" width="3" height="18.5" fill="#0000ff" />
<rect x="107" y="359.5" width="1" height="18.5" fill="#0000ff" />
<rect x="106" y="359.5" width="3" height="18.5" fill="#0000ff" />
<rect x="113" y="359.5" width="1" height="18.5" fill="#0000ff" />
<rect x="112" y="359.5" width="3" height="18.5" fill="#0000ff" />
<rect x="119" y="359.5" width="1" height="18.5" fill="#0000ff" />
<rect x="118" y="377.2" width="3" height="1" fill="#0000ff" />
<rect x="125" y="359.5" width="1" height="18.5" fill="#0000ff" />
<rect x="124" y="377.2" width="3" height="1" fill="#0000ff" />
<rect x="131" y="359.5" width="1" height="18.5" fill="#0000ff" />
<rect x="130" y="377.2" width="3" height="1" fill="#0000ff" />
<rect x="137" y="359.5" width="1" height="18.5" fill="#ff0000" />
<rect x="136" y="376.8" width="3" height="1" fill="#ff0000" />
<rect x="143" y="359.5" width="1" height="18.5" fill="#0000ff" />
<rect x="142" y="377.2" width="3" height="1" fill="#0000ff" />
<rect x="149" y="359.5" width="1" height="18.5" fill="#0000ff" />
<rect x="148" y="359.5" width="3" height="18.5" fill="#0000ff" />
<rect x="154" y="377" width="3" height="1" fill="#0000ff" />
<rect x="161" y="377.5" width="1" height="36.5" fill="#0000ff" />
<rect x="160" y="377.5" width="3" height="18.5" fill="#0000ff" />
<rect x="167" y="377.5" width="1" height="18.5" fill="#ff0000" />
<rect x="166" y="377.5" width="3" height="18.5" fill="#ff0000" />
<rect x="173" y="377.5" width="1" height="36.5" fill="#0000ff" />
<rect x="172" y="377.5" width="3" height="18.5" fill="#0000ff" />
<rect x="178" y="395" width="3" height="1" fill="#0000ff" />
<rect x="185" y="395.5" width="1" height="18.5" fill="#0000ff" />
<rect x="184" y="395" width="3" height="1" fill="#0000ff" />
<rect x="190" y="395" width="3" height="1" fill="#0000ff" />
<rect x="197" y="377.5" width="1" height="18.5" fill="#ff0000" />
<rect x="196" y="377.5" width="3" height="18.5" fill="#ff0000" />
<rect x="203" y="377.5" width="1" height="18.5" fill="#0000ff" />
<rect x="202" y="377.5" width="3" height="18.5" fill="#0000ff" />
<rect x="208" y="395" width="3" height="1" fill="#0000ff" />
<rect x="214" y="395" width="3" height="1" fill="#0000ff" />
<rect x="220" y="395" width="3" height="1" fill="#0000ff" />
<rect x="227" y="377.5" width="1" height="18.5" fill="#ff0000" />
<rect x="226" y="377.5" width="3" height="18.5" fill="#ff0000" />
<rect x="233" y="377.5" width="1" height="18.5" fill="#0000ff" />
<rect x="232" y="377.5" width="3" height="18.5" fill="#0000ff" />
<rect x="239" y="359.5" width="1" height="36.5" fill="#ff0000" />
<rect x="238" y="359.5" width="3" height="36.5" fill="#ff0000" />
<rect x="245" y="359.5" width="1" height="18.5" fill="#0000ff" />
<rect x="244" y="359.5" width="3" height="18.5" fill="#0000ff" />
<rect x="251" y="359.5" width="1" height="18.5" fill="#ff0000" />
<rect x="250" y="359.5" width="3" height="18.5" fill="#ff0000" />
<rect x="257" y="359.5" width="1" height="18.5" fill="#0000ff" />
<rect x="256" y="359.5" width="3" height="18.5" fill="#0000ff" />
<rect x="263" y="359.5" width="1" height="18.5" fill="#ff0000" />
<rect x="262" y="359.5" width="3" height="18.5" fill="#ff0000" />
<rect x="269" y="341.5" width="1" height="36.5" fill="#0000ff" />
<rect x="268" y="359.5" width="3" height="18.5" fill="#0000ff" />
<rect x="275" y="341.5" width="1" height="36.5" fill="#ff0000" />
<rect x="274" y="359.5" width="3" height="18.5" fill="#ff0000" />
<rect x="281" y="341.5" width="1" height="18.5" fill="#0000ff" />
<rect x="280" y="359" width="3" height="1" fill="#0000ff" />
<rect x="287" y="341.5" width="1" height="18.5" fill="#0000ff" />
<rect x="286" y="341.5" width="3" height="18.5" fill="#0000ff" />
<rect x="293" y="359.5" width="1" height="18.5" fill="#0000ff" />
<rect x="292" y="359.5" width="3" height="18.5" fill="#0000ff" />
<rect x="299" y="359.5" width="1" height="18.5" fill="#ff0000" />
<rect x="298" y="359.5" width="3" height="18.5" fill="#ff0000" />
<rect x="305" y="359.5" width="1" height="18.5" fill="#0000ff" />
<rect x="304" y="359.5" width="3" height="18.5" fill="#0000ff" />
<rect x="311" y="359.5" width="1" height="18.5" fill="#ff0000" />
<rect x="310" y="359.5" width="3" height="18.5" fill="#ff0000" />
<rect x="316" y="359" width="3" height="1" fill="#0000ff" />
<rect x="322" y="359" width="3" height="1" fill="#0000ff" />
<rect x="328" y="359" width="3" height="1" fill="#0000ff" />
<rect x="335" y="359.5" width="1" height="18.5" fill="#0000ff" />
<rect x="334" y="359.5" width="3" height="18.5" fill="#0000ff" />
<rect x="341" y="341.5" width="1" height="36.5" fill="#0000ff" />
<rect x="340" y="377" width="3" height="1" fill="#0000ff" />
<rect x="347" y="359.5" width="1" height="18.5" fill="#ff0000" />
<rect x="346" y="359.5" width="3" height="18.5" fill="#ff0000" />
<rect x="353" y="341.5" width="1" height="18.5" fill="#0000ff" />
<rect x="352" y="359" width="3" height="1" fill="#0000ff" />
<rect x="359" y="341.5" width="1" height="18.5" fill="#0000ff" />
<rect x="358" y="359" width="3" height="1" fill="#0000ff" />
<rect x="364" y="341" width="3" height="1" fill="#0000ff" />
<rect x="371" y="341.5" width="1" height="18.5" fill="#0000ff" />
<rect x="370" y="341" width="3" height="1" fill="#0000ff" />
<rect x="377" y="341.5" width="1" height="18.5" fill="#ff0000" />
<rect x="376" y="341.5" width="3" height="18.5" fill="#ff0000" />
<rect x="383" y="341.5" width="1" height="18.5" fill="#0000ff" />
<rect x="382" y="359" width="3" height="1" fill="#0000ff" />
<rect x="388" y="359" width="3" height="1" fill="#0000ff" />
<rect x="394" y="359" width="3" height="1" fill="#0000ff" />
<rect x="400" y="359" width="3" height="1" fill="#0000ff" />
<rect x="406" y="359" width="3" height="1" fill="#0000ff" />
<rect x="412" y="359" width="3" height="1" fill="#0000ff" />
<rect x="419" y="359.5" width="1" height="18.5" fill="#0000ff" />
<rect x="418" y="359.5" width="3" height="18.5" fill="#0000ff" />
<rect x="424" y="377" width="3" height="1" fill="#0000ff" />
<rect x="430" y="377" width="3" height="1" fill="#0000ff" />
<rect x="437" y="377.5" width="1" height="18.5" fill="#0000ff" />
<rect x="436" y="377.5" width="3" height="18.5" fill="#0000ff" />
<rect x="442" y="395" width="3" height="1" fill="#0000ff" />
<rect x="449" y="377.5" width="1" height="18.5" fill="#ff0000" />
<rect x="448" y="377.5" width="3" height="18.5" fill="#ff0000" />
<rect x="455" y="377.5" width="1" height="18.5" fill="#0000ff" />
<rect x="454" y="377.5" width="3" height="18.5" fill="#0000ff" />
<rect x="460" y="395" width="3" height="1" fill="#0000ff" />
<rect x="466" y="395" width="3" height="1" fill="#0000ff" />
<rect x="473" y="395.5" width="1" height="18.5" fill="#0000ff" />
<rect x="472" y="395.5" width="3" height="18.5" fill="#0000ff" />
<rect x="478" y="413" width="3" height="1" fill="#0000ff" />
<rect x="485" y="377.5" width="1" height="18.5" fill="#ff0000" />
<rect x="484" y="377.5" width="3" height="18.5" fill="#ff0000" />
<rect x="491" y="377.5" width="1" height="18.5" fill="#0000ff" />
<rect x="490" y="377.5" width="3" height="18.5" fill="#0000ff" />
<rect x="496" y="395" width="3" height="1" fill="#0000ff" />
<rect x="502" y="395" width="3" height="1" fill="#0000ff" />
<rect x="509" y="377.5" width="1" height="18.5" fill="#ff0000" />
<rect x="508" y="377.5" width="3" height="18.5" fill="#ff0000" />
<rect x="515" y="377.5" width="1" height="18.5" fill="#0000ff" />
<rect x="514" y="377.5" width="3" height="18.5" fill="#0000ff" />
<rect x="521" y="395.5" width="1" height="18.5" fill="#0000ff" />
<rect x="520" y="395.5" width="3" height="18.5" fill="#0000ff" />
<rect x="526" y="413" width="3" height="1" fill="#0000ff" />
<rect x="532" y="413" width="3" height="1" fill="#0000ff" />
<rect x="539" y="413.5" width="1" height="18.5" fill="#0000ff" />
<rect x="538" y="413.5" width="3" height="18.5" fill="#0000ff" />
<rect x="544" y="431" width="3" height="1" fill="#0000ff" />
<rect x="551" y="395.5" width="1" height="18.5" fill="#ff0000" />
<rect x="550" y="404" width="3" height="1" fill="#ff0000" />
<rect x="557" y="395.5" width="1" height="18.5" fill="#ff0000" />
<rect x="556" y="395.5" width="3" height="18.5" fill="#ff0000" />
<rect x="562" y="395" width="3" height="1" fill="#0000ff" />
<rect x="568" y="395" width="3" height="1" fill="#0000ff" />
<rect x="574" y="395" width="3" height="1" fill="#0000ff" />
<rect x="581" y="395.5" width="1" height="18.5" fill="#0000ff" />
<rect x="580" y="395.5" width="3" height="18.5" fill="#0000ff" />
<rect x="586" y="413" width="3" height="1" fill="#0000ff" />
<rect x="593" y="395.5" width="1" height="18.5" fill="#ff0000" />
<rect x="592" y="395.5" width="3" height="18.5" fill="#ff0000" />
<rect x="599" y="395.5" width="1" height="18.5" fill="#0000ff" />
<rect x="598" y="395.5" width="3" height="18.5" fill="#0000ff" />
<rect x="604" y="413" width="3" height="1" fill="#0000ff" />
<rect x="611" y="413.5" width="1" height="18.5" fill="#0000ff" />
<rect x="610" y="413" width="3" height="1" fill="#0000ff" />
<rect x="616" y="413" width="3" height="1" fill="#0000ff" />
<rect x="623" y="413.5" width="1" height="18.5" fill="#ff0000" />
<rect x="622" y="413.5" width="3" height="18.5" fill="#ff0000" />
<rect x="628" y="413" width="3" height="1" fill="#0000ff" />
<rect x="634" y="413" width="3" height="1" fill="#0000ff" />
<rect x="640" y="413" width="3" height="1" fill="#0000ff" />
<rect x="646" y="413" width="3" height="1" fill="#0000ff" />
<rect x="652" y="413" width="3" height="1" fill="#0000ff" />
<rect x="658" y="413" width="3" height="1" fill="#0000ff" />
<rect x="664" y="413" width="3" height="1" fill="#0000ff" />
<rect x="671" y="395.5" width="1" height="18.5" fill="#ff0000" />
<rect x="670" y="395.5" width="3" height="18.5" fill="#ff0000" />
<rect x="676" y="395" width="3" height="1" fill="#0000ff" />
<rect x="682" y="395" width="3" height="1" fill="#0000ff" />
<rect x="688" y="395" width="3" height="1" fill="#0000ff" />
<rect x="694" y="395" width="3" height="1" fill="#0000ff" />
<rect x="701" y="377.5" width="1" height="18.5" fill="#ff0000" />
<rect x="700" y="377.5" width="3" height="18.5" fill="#ff0000" />
<rect x="706" y="377" width="3" height="1" fill="#0000ff" />
<rect x="713" y="377.5" width="1" height="18.5" fill="#0000ff" />
<rect x="712" y="377.5" width="3" height="18.5" fill="#0000ff" />
<rect x="719" y="377.5" width="1" height="18.5" fill="#ff0000" />
<rect x="718" y="377.5" width="3" height="18.5" fill="#ff0000" />
<rect x="724" y="377" width="3" height="1" fill="#0000ff" />
<rect x="730" y="377" width="3" height="1" fill="#0000ff" />
<rect x="737" y="377.5" width="1" height="18.5" fill="#0000ff" />
<rect x="736" y="377.5" width="3" height="18.5" fill="#0000ff" />
<rect x="742" y="395" width="3" height="1" fill="#0000ff" />
<rect x="748" y="395" width="3" height="1" fill="#0000ff" />
<rect x="755" y="377.5" width="1" height="18.5" fill="#ff0000" />
<rect x="754" y="377.5" width="3" height="18.5" fill="#ff0000" />
<rect x="761" y="377.5" width="1" height="18.5" fill="#0000ff" />
<rect x="760" y="377.5" width="3" height="18.5" fill="#0000ff" />
<rect x="766" y="395" width="3" height="1" fill="#0000ff" />
<rect x="772" y="395" width="3" height="1" fill="#0000ff" />
<rect x="779" y="395.5" width="1" height="18.5" fill="#0000ff" />
<rect x="778" y="413" width="3" height="1" fill="#0000ff" />
<rect x="784" y="395" width="3" height="1" fill="#0000ff" />
<rect x="790" y="395" width="3" height="1" fill="#0000ff" />
<rect x="796" y="395" width="3" height="1" fill="#0000ff" />
<rect x="802" y="395" width="3" height="1" fill="#0000ff" />
<rect x="808" y="395" width="3" height="1" fill="#0000ff" />
<rect x="814" y="395" width="3" height="1" fill="#0000ff" />
<rect x="820" y="413" width="3" height="1" fill="#0000ff" />
<rect x="826" y="413" width="3" height="1" fill="#0000ff" />
<rect x="833" y="395.5" width="1" height="18.5" fill="#0000ff" />
<rect x="832" y="395" width="3" height="1" fill="#0000ff" />
<rect x="839" y="395.5" width="1" height="18.5" fill="#ff0000" />
<rect x="838" y="395.5" width="3" height="18.5" fill="#ff0000" />
<rect x="844" y="395" width="3" height="1" fill="#0000ff" />
<rect x="850" y="395" width="3" height="1" fill="#0000ff" />
<rect x="856" y="395" width="3" height="1" fill="#0000ff" />
<rect x="862" y="377" width="3" height="1" fill="#0000ff" />
<rect x="869" y="377.5" width="1" height="23.9" fill="#0000ff" />
<rect x="868" y="377" width="3" height="1" fill="#0000ff" />
<rect x="874" y="395" width="3" height="1" fill="#0000ff" />
<polyline points="5.5,350.5 11.5,350.5 17.5,350.5 23.5,350.5 29.5,350.5 35.5,350.5 41.5,350.5 47.5,350.5 53.5,350.5 59.5,350.5 65.5,350.5 71.5,350.5 77.5,350.5 83.5,359.5 89.5,359.5 95.5,359.5 101.5,404.5 107.5,404.5 113.5,404.5 119.5,404.5 125.5,404.5 131.5,395.5 137.5,395.5 143.5,395.5 149.5,395.5 155.5,395.5 161.5,395.5 167.5,395.5 173.5,368.5 179.5,377.5 185.5,377.5 191.5,377.5 197.5,377.5 203.5,377.5 209.5,377.5 215.5,377.5 221.5,377.5 227.5,377.5 233.5,377.5 239.5,386.5 245.5,386.5 251.5,386.5 257.5,386.5 263.5,386.5 269.5,377.5 275.5,377.5 281.5,377.5 287.5,377.5 293.5,377.5 299.5,377.5 305.5,377.5 311.5,377.5 317.5,377.5 323.5,377.5 329.5,377.5 335.5,377.5 341.5,368.5 347.5,368.5 353.5,368.5 359.5,368.5 365.5,368.5 371.5,368.5 377.5,368.5 383.5,368.5 389.5,368.5 395.5,368.5 401.5,359.5 407.5,359.5 413.5,359.5 419.5,368.5 425.5,368.5 431.5,368.5 437.5,368.5 443.5,368.5 449.5,368.5 455.5,368.5 461.5,368.5 467.5,368.5 473.5,377.5 479.5,377.5 485.5,377.5 491.5,377.5 497.5,377.5 503.5,377.5 509.5,377.5 515.5,377.5 521.5,377.5 527.5,377.5 533.5,377.5 539.5,395.5 545.5,395.5 551.5,395.5 557.5,395.5 563.5,395.5 569.5,395.5 575.5,404.5 581.5,404.5 587.5,404.5 593.5,404.5 599.5,404.5 605.5,404.5 611.5,404.5 617.5,404.5 623.5,404.5 629.5,404.5 635.5,404.5 641.5,404.5 647.5,404.5 653.5,404.5 659.5,404.5 665.5,404.5 671.5,404.5 677.5,413.5 683.5,413.5 689.5,413.5 695.5,413.5 701.5,404.5 707.5,404.5 713.5,404.5 719.5,404.5 725.5,404.5 731.5,404.5 737.5,404.5 743.5,404.5 749.5,404.5 755.5,404.5 761.5,404.5 767.5,404.5 773.5,404.5 779.5,395.5 785.5,395.5 791.5,395.5 797.5,395.5 803.5,395.5 809.5,395.5 815.5,395.5 821.5,395.5 827.5,395.5 833.5,395.5 839.5,395.5 845.5,395.5 851.5,395.5 857.5,395.5 863.5,395.5 869.5,395.5 875.5,395.5" fill="none" stroke="#0000ff" stroke-width="3" stroke-linejoin="round" stroke-linecap="butt"/>
<rect x="6" y="556" width="3" height="3" fill="#008000" />
<rect x="10" y="556" width="3" height="3" fill="#008000" />
<rect x="16" y="554" width="3" height="5" fill="#008000" />
<rect x="22" y="499" width="3" height="60" fill="#008000" />
<rect x="28" y="541" width="3" height="18" fill="#008000" />
<rect x="34" y="549" width="3" height="10" fill="#008000" />
<rect x="40" y="539" width="3" height="20" fill="#008000" />
<rect x="46" y="550" width="3" height="9" fill="#008000" />
<rect x="52" y="549" width="3" height="10" fill="#008000" />
<rect x="58" y="551" width="3" height="8" fill="#008000" />
<rect x="64" y="553" width="3" height="6" fill="#008000" />
<rect x="70" y="553" width="3" height="6" fill="#008000" />
<rect x="76" y="557" width="3" height="2" fill="#008000" />
<rect x="82" y="547" width="3" height="12" fill="#008000" />
<rect x="88" y="556" width="3" height="3" fill="#008000" />
<rect x="94" y="558" width="3" height="1" fill="#008000" />
<rect x="100" y="558" width="3" height="1" fill="#008000" />
<rect x="106" y="558" width="3" height="1" fill="#008000" />
<rect x="112" y="556" width="3" height="3" fill="#008000" />
<rect x="118" y="555" width="3" height="4" fill="#008000" />
<rect x="124" y="558" width="3" height="1" fill="#008000" />
<rect x="130" y="558" width="3" height="1" fill="#008000" />
<rect x="136" y="557" width="3" height="2" fill="#008000" />
<rect x="142" y="557" width="3" height="2" fill="#008000" />
<rect x="148" y="547" width="3" height="12" fill="#008000" />
<rect x="154" y="557" width="3" height="2" fill="#008000" />
<rect x="160" y="549" width="3" height="10" fill="#008000" />
<rect x="166" y="556" width="3" height="3" fill="#008000" />
<rect x="172" y="539" width="3" height="20" fill="#008000" />
<rect x="178" y="558" width="3" height="1" fill="#008000" />
<rect x="184" y="546" width="3" height="13" fill="#008000" />
<rect x="190" y="558" width="3" height="1" fill="#008000" />
<rect x="196" y="558" width="3" height="1" fill="#008000" />
<rect x="202" y="555" width="3" height="4" fill="#008000" />
<rect x="208" y="558" width="3" height="1" fill="#008000" />
<rect x="214" y="557" width="3" height="2" fill="#008000" />
<rect x="220" y="558" width="3" height="1" fill="#008000" />
<rect x="226" y="558" width="3" height="1" fill="#008000" />
<rect x="232" y="556" width="3" height="3" fill="#008000" />
<rect x="238" y="549" width="3" height="10" fill="#008000" />
<rect x="244" y="551" width="3" height="8" fill="#008000" />
<rect x="250" y="556" width="3" height="3" fill="#008000" />
<rect x="256" y="558" width="3" height="1" fill="#008000" />
<rect x="262" y="544" width="3" height="15" fill="#008000" />
<rect x="268" y="550" width="3" height="9" fill="#008000" />
<rect x="274" y="557" width="3" height="2" fill="#008000" />
<rect x="280" y="554" width="3" height="5" fill="#008000" />
<rect x="286" y="558" width="3" height="1" fill="#008000" />
<rect x="292" y="554" width="3" height="5" fill="#008000" />
<rect x="298" y="558" width="3" height="1" fill="#008000" />
<rect x="304" y="558" width="3" height="1" fill="#008000" />
<rect x="310" y="558" width="3" height="1" fill="#008000" />
<rect x="316" y="556" width="3" height="3" fill="#008000" />
<rect x="322" y="558" width="3" height="1" fill="#008000" />
<rect x="328" y="558" width="3" height="1" fill="#008000" />
<rect x="334" y="556" width="3" height="3" fill="#008000" />
<rect x="340" y="551" width="3" height="8" fill="#008000" />
<rect x="346" y="556" width="3" height="3" fill="#008000" />
<rect x="352" y="536" width="3" height="23" fill="#008000" />
<rect x="358" y="543" width="3" height="16" fill="#008000" />
<rect x="364" y="529" width="3" height="30" fill="#008000" />
<rect x="370" y="555" width="3" height="4" fill="#008000" />
<rect x="376" y="555" width="3" height="4" fill="#008000" />
<rect x="382" y="555" width="3" height="4" fill="#008000" />
<rect x="388" y="558" width="3" height="1" fill="#008000" />
<rect x="394" y="555" width="3" height="4" fill="#008000" />
<rect x="400" y="558" width="3" height="1" fill="#008000" />
<rect x="406" y="553" width="3" height="6" fill="#008000" />
<rect x="412" y="552" width="3" height="7" fill="#008000" />
<rect x="418" y="547" width="3" height="12" fill="#008000" />
<rect x="424" y="556" width="3" height="3" fill="#008000" />
<rect x="430" y="558" width="3" height="1" fill="#008000" />
<rect x="436" y="557" width="3" height="2" fill="#008000" />
<rect x="442" y="558" width="3" height="1" fill="#008000" />
<rect x="448" y="558" width="3" height="1" fill="#008000" />
<rect x="454" y="558" width="3" height="1" fill="#008000" />
<rect x="460" y="558" width="3" height="1" fill="#008000" />
<rect x="466" y="555" width="3" height="4" fill="#008000" />
<rect x="472" y="557" width="3" height="2" fill="#008000" />
<rect x="478" y="558" width="3" height="1" fill="#008000" />
<rect x="484" y="556" width="3" height="3" fill="#008000" />
<rect x="490" y="558" width="3" height="1" fill="#008000" />
<rect x="496" y="558" width="3" height="1" fill="#008000" />
<rect x="508" y="558" width="3" height="1" fill="#008000" />
<rect x="514" y="556" width="3" height="3" fill="#008000" />
<rect x="520" y="557" width="3" height="2" fill="#008000" />
<rect x="526" y="558" width="3" height="1" fill="#008000" />
<rect x="532" y="555" width="3" height="4" fill="#008000" />
<rect x="538" y="558" width="3" height="1" fill="#008000" />
<rect x="544" y="558" width="3" height="1" fill="#008000" />
<rect x="550" y="556" width="3" height="3" fill="#008000" />
<rect x="556" y="556" width="3" height="3" fill="#008000" />
<rect x="562" y="556" width="3" height="3" fill="#008000" />
<rect x="568" y="558" width="3" height="1" fill="#008000" />
<rect x="574" y="558" width="3" height="1" fill="#008000" />
<rect x="580" y="558" width="3" height="1" fill="#008000" />
<rect x="586" y="558" width="3" height="1" fill="#008000" />
<rect x="598" y="558" width="3" height="1" fill="#008000" />
<rect x="604" y="556" width="3" height="3" fill="#008000" />
<rect x="610" y="558" width="3" height="1" fill="#008000" />
<rect x="616" y="558" width="3" height="1" fill="#008000" />
<rect x="628" y="558" width="3" height="1" fill="#008000" />
<rect x="634" y="557" width="3" height="2" fill="#008000" />
<rect x="640" y="558" width="3" height="1" fill="#008000" />
<rect x="646" y="558" width="3" height="1" fill="#008000" />
<rect x="658" y="557" width="3" height="2" fill="#008000" />
<rect x="664" y="558" width="3" height="1" fill="#008000" />
<rect x="670" y="556" width="3" height="3" fill="#008000" />
<rect x="676" y="558" width="3" height="1" fill="#008000" />
<rect x="688" y="558" width="3" height="1" fill="#008000" />
<rect x="694" y="558" width="3" height="1" fill="#008000" />
<rect x="700" y="557" width="3" height="2" fill="#008000" />
<rect x="706" y="558" width="3" height="1" fill="#008000" />
<rect x="718" y="558" width="3" height="1" fill="#008000" />
<rect x="724" y="558" width="3" height="1" fill="#008000" />
<rect x="730" y="558" width="3" height="1" fill="#008000" />
<rect x="736" y="558" width="3" height="1" fill="#008000" />
<rect x="748" y="558" width="3" height="1" fill="#008000" />
<rect x="754" y="558" width="3" height="1" fill="#008000" />
<rect x="760" y="557" width="3" height="2" fill="#008000" />
<rect x="766" y="558" width="3" height="1" fill="#008000" />
<rect x="778" y="558" width="3" height="1" fill="#008000" />
<rect x="784" y="557" width="3" height="2" fill="#008000" />
<rect x="790" y="558" width="3" height="1" fill="#008000" />
<rect x="796" y="558" width="3" height="1" fill="#008000" />
<rect x="808" y="558" width="3" height="1" fill="#008000" />
<rect x="814" y="558" width="3" height="1" fill="#008000" />
<rect x="820" y="558" width="3" height="1" fill="#008000" />
<rect x="826" y="558" width="3" height="1" fill="#008000" />
<rect x="838" y="558" width="3" height="1" fill="#008000" />
<rect x="844" y="558" width="3" height="1" fill="#008000" />
<rect x="850" y="557" width="3" height="2" fill="#008000" />
<rect x="856" y="558" width="3" height="1" fill="#008000" />
<rect x="868" y="558" width="3" height="1" fill="#008000" />
<rect x="874" y="556" width="3" height="3" fill="#008000" />
<rect x="5" y="601" width="1" height="1" fill="#ff0000" />
<rect x="11" y="601" width="1" height="8" fill="#ff0000" />
<rect x="17" y="601" width="1" height="8" fill="#ff0000" />
<rect x="23" y="601" width="1" height="1" fill="#ff0000" />
<rect x="29" y="596" width="1" height="6" fill="#ff0000" />
<rect x="35" y="592" width="1" height="10" fill="#ff0000" />
<rect x="41" y="592" width="1" height="10" fill="#ff0000" />
<rect x="47" y="591" width="1" height="11" fill="#ff0000" />
<rect x="53" y="591" width="1" height="11" fill="#ff0000" />
<rect x="59" y="592" width="1" height="10" fill="#ff0000" />
<rect x="65" y="593" width="1" height="9" fill="#ff0000" />
<rect x="71" y="592" width="1" height="10" fill="#ff0000" />
<rect x="77" y="592" width="1" height="10" fill="#ff0000" />
<rect x="83" y="592" width="1" height="10" fill="#ff0000" />
<rect x="89" y="594" width="1" height="8" fill="#ff0000" />
<rect x="95" y="594" width="1" height="8" fill="#ff0000" />
<rect x="101" y="594" width="1" height="8" fill="#ff0000" />
<rect x="107" y="595" width="1" height="7" fill="#ff0000" />
<rect x="113" y="596" width="1" height="6" fill="#ff0000" />
<rect x="119" y="597" width="1" height="5" fill="#ff0000" />
<rect x="125" y="598" width="1" height="4" fill="#ff0000" />
<rect x="131" y="599" width="1" height="3" fill="#ff0000" />
<rect x="137" y="599" width="1" height="3" fill="#ff0000" />
<rect x="143" y="598" width="1" height="4" fill="#ff0000" />
<rect x="149" y="599" width="1" height="3" fill="#ff0000" />
<rect x="155" y="600" width="1" height="2" fill="#ff0000" />
<rect x="161" y="600" width="1" height="2" fill="#ff0000" />
<rect x="167" y="600" width="1" height="2" fill="#ff0000" />
<rect x="173" y="601" width="1" height="1" fill="#ff0000" />
<rect x="179" y="601" width="1" height="1" fill="#ff0000" />
<rect x="185" y="601" width="1" height="1" fill="#ff0000" />
<rect x="191" y="601" width="1" height="1" fill="#ff0000" />
<rect x="197" y="601" width="1" height="1" fill="#ff0000" />
<rect x="203" y="601" width="1" height="1" fill="#ff0000" />
<rect x="209" y="601" width="1" height="1" fill="#ff0000" />
<rect x="215" y="601" width="1" height="1" fill="#ff0000" />
<rect x="221" y="601" width="1" height="1" fill="#ff0000" />
<rect x="227" y="601" width="1" height="1" fill="#ff0000" />
<rect x="233" y="601" width="1" height="1" fill="#ff0000" />
<rect x="239" y="601" width="1" height="1" fill="#ff0000" />
<rect x="245" y="601" width="1" height="1" fill="#ff0000" />
<rect x="251" y="600" width="1" height="2" fill="#ff0000" />
<rect x="257" y="600" width="1" height="2" fill="#ff0000" />
<rect x="263" y="599" width="1" height="3" fill="#ff0000" />
<rect x="269" y="599" width="1" height="3" fill="#ff0000" />
<rect x="275" y="600" width="1" height="2" fill="#ff0000" />
<rect x="281" y="600" width="1" height="2" fill="#ff0000" />
<rect x="287" y="600" width="1" height="2" fill="#ff0000" />
<rect x="293" y="600" width="1" height="2" fill="#ff0000" />
<rect x="299" y="600" width="1" height="2" fill="#ff0000" />
<rect x="305" y="601" width="1" height="1" fill="#ff0000" />
<rect x="311" y="601" width="1" height="1" fill="#ff0000" />
<rect x="317" y="601" width="1" height="1" fill="#ff0000" />
<rect x="323" y="601" width="1" height="1" fill="#ff0000" />
<rect x="329" y="601" width="1" height="1" fill="#ff0000" />
<rect x="335" y="601" width="1" height="1" fill="#ff0000" />
<rect x="341" y="601" width="1" height="1" fill="#ff0000" />
<rect x="347" y="601" width="1" height="1" fill="#ff0000" />
<rect x="353" y="601" width="1" height="1" fill="#ff0000" />
<rect x="359" y="601" width="1" height="1" fill="#ff0000" />
<rect x="365" y="601" width="1" height="1" fill="#ff0000" />
<rect x="371" y="601" width="1" height="1" fill="#ff0000" />
<rect x="377" y="601" width="1" height="1" fill="#ff0000" />
<rect x="383" y="601" width="1" height="1" fill="#ff0000" />
<rect x="389" y="601" width="1" height="1" fill="#ff0000" />
<rect x="395" y="601" width="1" height="1" fill="#ff0000" />
<rect x="401" y="601" width="1" height="1" fill="#ff0000" />
<rect x="407" y="601" width="1" height="1" fill="#ff0000" />
<rect x="413" y="601" width="1" height="1" fill="#ff0000" />
<rect x="419" y="601" width="1" height="3" fill="#ff0000" />
<rect x="425" y="601" width="1" height="3" fill="#ff0000" />
<rect x="431" y="601" width="1" height="4" fill="#ff0000" />
<rect x="437" y="601" width="1" height="5" fill="#ff0000" />
<rect x="443" y="601" width="1" height="4" fill="#ff0000" />
<rect x="449" y="601" width="1" height="4" fill="#ff0000" />
<rect x="455" y="601" width="1" height="4" fill="#ff0000" />
<rect x="461" y="601" width="1" height="4" fill="#ff0000" />
<rect x="467" y="601" width="1" height="3" fill="#ff0000" />
<rect x="473" y="601" width="1" height="4" fill="#ff0000" />
<rect x="479" y="601" width="1" height="4" fill="#ff0000" />
<rect x="485" y="601" width="1" height="4" fill="#ff0000" />
<rect x="491" y="601" width="1" height="1" fill="#ff0000" />
<rect x="497" y="601" width="1" height="1" fill="#ff0000" />
<rect x="503" y="601" width="1" height="1" fill="#ff0000" />
<rect x="509" y="601" width="1" height="1" fill="#ff0000" />
<rect x="515" y="601" width="1" height="1" fill="#ff0000" />
<rect x="521" y="601" width="1" height="1" fill="#ff0000" />
<rect x="527" y="601" width="1" height="1" fill="#ff0000" />
<rect x="533" y="601" width="1" height="1" fill="#ff0000" />
<rect x="539" y="601" width="1" height="1" fill="#ff0000" />
<rect x="545" y="601" width="1" height="3" fill="#ff0000" />
<rect x="551" y="601" width="1" height="4" fill="#ff0000" />
<rect x="557" y="601" width="1" height="3" fill="#ff0000" />
<rect x="563" y="601" width="1" height="1" fill="#ff0000" />
<rect x="569" y="601" width="1" height="1" fill="#ff0000" />
<rect x="575" y="600" width="1" height="2" fill="#ff0000" />
<rect x="581" y="599" width="1" height="3" fill="#ff0000" />
<rect x="587" y="600" width="1" height="2" fill="#ff0000" />
<rect x="593" y="601" width="1" height="1" fill="#ff0000" />
<rect x="599" y="601" width="1" height="1" fill="#ff0000" />
<rect x="605" y="601" width="1" height="1" fill="#ff0000" />
<rect x="611" y="601" width="1" height="1" fill="#ff0000" />
<rect x="617" y="601" width="1" height="1" fill="#ff0000" />
<rect x="623" y="601" width="1" height="1" fill="#ff0000" />
<rect x="629" y="601" width="1" height="1" fill="#ff0000" />
<rect x="635" y="601" width="1" height="1" fill="#ff0000" />
<rect x="641" y="601" width="1" height="1" fill="#ff0000" />
<rect x="647" y="601" width="1" height="1" fill="#ff0000" />
<rect x="653" y="601" width="1" height="1" fill="#ff0000" />
<rect x="659" y="601" width="1" height="1" fill="#ff0000" />
<rect x="665" y="601" width="1" height="1" fill="#ff0000" />
<rect x="671" y="601" width="1" height="1" fill="#ff0000" />
<rect x="677" y="601" width="1" height="1" fill="#ff0000" />
<rect x="683" y="600" width="1" height="2" fill="#ff0000" />
<rect x="689" y="600" width="1" height="2" fill="#ff0000" />
<rect x="695" y="599" width="1" height="3" fill="#ff0000" />
<rect x="701" y="600" width="1" height="2" fill="#ff0000" />
<rect x="707" y="599" width="1" height="3" fill="#ff0000" />
<rect x="713" y="598" width="1" height="4" fill="#ff0000" />
<rect x="719" y="598" width="1" height="4" fill="#ff0000" />
<rect x="725" y="599" width="1" height="3" fill="#ff0000" />
<rect x="731" y="600" width="1" height="2" fill="#ff0000" />
<rect x="737" y="598" width="1" height="4" fill="#ff0000" />
<rect x="743" y="599" width="1" height="3" fill="#ff0000" />
<rect x="749" y="600" width="1" height="2" fill="#ff0000" />
<rect x="755" y="601" width="1" height="1" fill="#ff0000" />
<rect x="761" y="601" width="1" height="1" fill="#ff0000" />
<rect x="767" y="601" width="1" height="1" fill="#ff0000" />
<rect x="773" y="601" width="1" height="1" fill="#ff0000" />
<rect x="779" y="601" width="1" height="3" fill="#ff0000" />
<rect x="785" y="601" width="1" height="3" fill="#ff0000" />
<rect x="791" y="601" width="1" height="1" fill="#ff0000" />
<rect x="797" y="601" width="1" height="1" fill="#ff0000" />
<rect x="803" y="601" width="1" height="1" fill="#ff0000" />
<rect x="809" y="601" width="1" height="1" fill="#ff0000" />
<rect x="815" y="601" width="1" height="1" fill="#ff0000" />
<rect x="821" y="601" width="1" height="1" fill="#ff0000" />
<rect x="827" y="601" width="1" height="1" fill="#ff0000" />
<rect x="833" y="601" width="1" height="1" fill="#ff0000" />
<rect x="839" y="601" width="1" height="1" fill="#ff0000" />
<rect x="845" y="601" width="1" height="1" fill="#ff0000" />
<rect x="851" y="601" width="1" height="1" fill="#ff0000" />
<rect x="857" y="601" width="1" height="1" fill="#ff0000" />
<rect x="863" y="601" width="1" height="1" fill="#ff0000" />
<rect x="869" y="601" width="1" height="1" fill="#ff0000" />
<rect x="875" y="601" width="1" height="1" fill="#ff0000" />
<polyline points="6.2,593.1 22.8,595.8 45.6,598.1 68.5,599.7 91.3,601.5 114.1,603.8 136.9,605.4 159.8,608.4 182.6,611.8 205.4,615.2 228.2,619.1 251.1,622.1 273.9,624.8 296.7,627.8 319.5,630.7 342.4,633.9 365.2,636.9 388,639.2 406.3,639.6 422.3,638 433.7,636.4 456.5,634.6 480,634.6 517.1,635.7 551.3,638.5 585.5,639.2 619.8,640.3 642.6,641.5 699.7,641.9 745.3,643.1 779.5,644.4 813.8,645.3 836.6,647.2 859.4,647.8 874.3,648.5" fill="none" stroke="#ffb6c1" stroke-width="1" />
<polyline points="6.2,648.3 17.1,648.3 22.8,640.3 29.7,631.2 36.5,625.5 45.6,620.9 59.3,617.5 68.5,612.9 77.6,609.5 91.3,606.1 100.4,604.3 118.7,603.8 127.8,604.9 136.9,603.3 146.1,602 159.8,603.8 173.5,606.1 187.2,607.2 205.4,606.1 219.1,607.2 232.8,606.1 241.9,603.8 255.6,601.5 269.3,598.8 283,596.5 296.7,596.9 319.5,597.4 337.8,598.8 356.1,598.1 365.2,595.8 376.6,594.7 388,595.8 410.8,596.9 422.3,599.2 433.7,602.7 445.1,604.9 456.5,606.1 467.9,607.9 480,610 487.4,608.8 501.1,608.4 523.9,608.8 544.5,612.5 551.3,612.5 560.4,609.5 587.8,606.5 619.8,606.1 660.9,604.9 679.1,602 699.7,598.1 722.5,596.3 733.9,595.8 756.7,596.5 779.5,598.5 802.4,600.4 825.2,602.7 848,602 866.3,598.8 874.3,599.7" fill="none" stroke="#ffff00" stroke-width="1.2" />
<polyline points="6.2,637.6 17.1,641.5 22.8,641.5 36.5,636.9 54.8,630 68.5,624.3 82.2,618.6 95.9,614.1 109.6,610.6 123.3,608.4 136.9,606.5 148.4,604.3 173.5,604.3 187.2,605.6 205.4,605.6 228.2,606.1 241.9,604.3 255.6,603.3 269.3,601.5 283,599.7 296.7,598.5 319.5,598.1 337.8,597.6 356.1,598.5 365.2,596.9 376.6,596.3 399.4,596.3 422.3,597.6 433.7,599.7 445.1,602 456.5,602.7 467.9,604.3 480,605.6 482.8,607.9 505.6,607.9 528.5,608.8 551.3,610.6 560.4,609.5 574.1,608.4 619.8,606.5 660.9,606.1 688.2,603.3 711.1,600.4 722.5,598.5 733.9,597.6 775,596.9 791,598.8 806.9,599.2 825.2,601.1 859.4,601.5 874.3,601.1" fill="none" stroke="#0000ff" stroke-width="1.2" />
<polyline points="6.2,731.3 17.1,732 22.8,727.9 29.7,718.7 35.4,708.5 41.1,702.8 47.9,700.5 54.8,700.5 66.2,702.8 75.3,701.2 83.3,697.5 95.9,697.5 102.7,699.8 109.6,702.1 121,707.3 132.4,708.5 146.1,703.2 150.6,703.2 156.3,707.3 162.1,714.2 178,713.7 189.4,717.6 198.6,714.6 208.8,713.5 220.3,718.3 232.8,712.6 239.7,704.6 251.1,698.2 257.9,695.5 269.3,694.8 276.2,697.1 287.6,698.9 293.3,702.8 305.8,705 312.7,706.6 328.7,706.2 334.4,708.5 342.4,719.9 348.1,724 353.8,722.2 360.6,716.5 369.8,702.8 377.7,690.7 383.5,690.2 390.3,695.9 396,702.1 404,706.9 413.1,708.5 422.3,711.9 431.4,715.3 438.2,722.2 445.1,726.7 454.2,730.8 461.1,731.3 470.2,735.9 480,737.7 489.7,727.9 497.7,718.7 503.4,717.6 511.4,708.5 515.9,706.2 521.6,707.8 533,727.9 544.9,735.9 550.2,734.7 555.9,729 562.7,715.3 569.6,707.3 575.3,704.6 582.1,706.2 593.5,711.4 599.7,711.9 610.6,712.4 631.2,710.3 665.4,709.6 671.1,706.2 682.5,691.4 690.5,685.2 699.7,682.7 707.6,682.2 715.6,687.5 724.8,689.1 731.2,685.6 737.3,687.9 743,694.8 749.9,702.1 755.6,701.6 761.3,705 767,711.9 773.8,726.3 780.7,731.3 785.2,730.8 791,725.6 797.8,717.6 806.9,711.9 814.9,710.8 821.8,715.3 827.5,721.7 833.2,725.1 840,721 848,706.2 857.1,692.5 868.6,682.7 874.3,686.8" fill="none" stroke="#ff0000" stroke-width="1" />
<polyline points="6.2,731.3 10.3,730.8 17.1,732.4 22.8,722.2 29.7,707.3 35.4,700.5 53.6,700.5 60.5,705.5 68.5,701.6 75.3,698.2 83.3,696.4 90.2,699.3 95.9,697.5 102.7,701.6 109.6,706.2 123.3,708.5 132.4,709.2 136.9,702.8 143.1,699.3 149.5,708.5 155.2,713 161.6,719.4 167.3,709.2 173.5,714.2 180.3,717.6 190.6,718.3 197.4,709.6 203.1,713 208.8,716.9 220.3,718.3 227.1,709.2 232.8,709.2 239.7,695.2 251.1,699.3 257.5,690.2 262.5,695.5 275,699.3 287.6,699.8 293.3,709.2 305.4,702.1 311.1,711.2 317.3,706.2 323,702.1 329.8,705.5 335.5,721 341.7,730.2 346.9,719.9 353.3,714.2 359.5,711.9 365.2,697.1 370.9,689.1 377.7,684.5 383.5,698.2 389.2,703.5 401.7,707.8 413.1,709.2 420,714.2 425.7,716.9 431.4,718.3 437.1,727.9 443.5,733.1 449.2,726.3 455.3,732 465.6,736.5 472.5,738.1 480,738.1 485.1,719.4 497.7,719.4 503.4,714.9 509.8,697.7 515.9,703.9 520.5,718.7 527.3,730.2 538.7,735.9 544.9,737 551.3,727.9 557,714.2 562.7,707.3 569.6,703.5 575.3,702.3 582.1,709.6 587.8,714.9 593.5,707.8 599.7,713 608.4,710.3 631.2,709.6 665.4,709.2 672.3,693.6 679.1,686.8 688.2,682.7 695.1,681.5 706.5,681.5 713.4,694.8 720.2,687.9 731.2,682.7 737.3,695.9 743,702.8 749.4,706.2 755.1,693 760.8,714.2 767,726.3 773.8,733.1 779.5,735.9 785.2,722.2 792.1,715.3 802.4,711.9 809.2,710.3 814.9,710.3 821.8,724 827.5,731.3 833.2,720.6 838.9,716 845.7,698.2 851.4,689.1 858.3,684.5 868.6,682.2 874.3,693.6 875.9,695.5" fill="none" stroke="#0000ff" stroke-width="1" />
<rect x="942" y="277" width="2" height="483" fill="#000" />
<rect x="942" y="760" width="1" height="27" fill="#404040" />
<rect x="1644" y="277" width="1" height="510" fill="#d8dce0" />
<line x1="944" y1="292.5" x2="1600" y2="292.5" stroke="#c0c0c0" stroke-width="1" stroke-dasharray="3 3" shape-rendering="crispEdges"/>
<line x1="944" y1="330.5" x2="1600" y2="330.5" stroke="#c0c0c0" stroke-width="1" stroke-dasharray="3 3" shape-rendering="crispEdges"/>
<line x1="944" y1="368.5" x2="1600" y2="368.5" stroke="#c0c0c0" stroke-width="1" stroke-dasharray="3 3" shape-rendering="crispEdges"/>
<line x1="944" y1="406.5" x2="1600" y2="406.5" stroke="#c0c0c0" stroke-width="1" stroke-dasharray="3 3" shape-rendering="crispEdges"/>
<line x1="944" y1="444.5" x2="1600" y2="444.5" stroke="#c0c0c0" stroke-width="1" stroke-dasharray="3 3" shape-rendering="crispEdges"/>
<line x1="944" y1="504.5" x2="1600" y2="504.5" stroke="#c0c0c0" stroke-width="1" stroke-dasharray="3 3" shape-rendering="crispEdges"/>
<line x1="944" y1="542.5" x2="1600" y2="542.5" stroke="#c0c0c0" stroke-width="1" stroke-dasharray="3 3" shape-rendering="crispEdges"/>
<line x1="944" y1="595.5" x2="1600" y2="595.5" stroke="#c0c0c0" stroke-width="1" stroke-dasharray="3 3" shape-rendering="crispEdges"/>
<line x1="944" y1="632.5" x2="1600" y2="632.5" stroke="#c0c0c0" stroke-width="1" stroke-dasharray="3 3" shape-rendering="crispEdges"/>
<line x1="944" y1="685.5" x2="1600" y2="685.5" stroke="#c0c0c0" stroke-width="1" stroke-dasharray="3 3" shape-rendering="crispEdges"/>
<line x1="944" y1="724.5" x2="1600" y2="724.5" stroke="#c0c0c0" stroke-width="1" stroke-dasharray="3 3" shape-rendering="crispEdges"/>
<line x1="1010.5" y1="278" x2="1010.5" y2="759" stroke="#c0c0c0" stroke-width="1" stroke-dasharray="3 3" shape-rendering="crispEdges"/>
<line x1="1214.5" y1="278" x2="1214.5" y2="759" stroke="#c0c0c0" stroke-width="1" stroke-dasharray="3 3" shape-rendering="crispEdges"/>
<line x1="1304.5" y1="278" x2="1304.5" y2="759" stroke="#c0c0c0" stroke-width="1" stroke-dasharray="3 3" shape-rendering="crispEdges"/>
<line x1="1508.5" y1="278" x2="1508.5" y2="759" stroke="#c0c0c0" stroke-width="1" stroke-dasharray="3 3" shape-rendering="crispEdges"/>
<rect x="944" y="560" width="649" height="1.3" fill="#000" />
<rect x="944" y="620" width="649" height="1" fill="#808080" />
<rect x="944" y="698" width="649" height="1" fill="#0000ff" />
<rect x="944" y="737" width="649" height="1" fill="#ff0000" />
<rect x="1600" y="278" width="1" height="509" fill="#000" />
<rect x="944" y="759" width="700" height="1" fill="#000" />
<rect x="1600" y="292" width="6" height="1" fill="#000" />
<rect x="1600" y="330" width="6" height="1" fill="#000" />
<rect x="1600" y="368" width="6" height="1" fill="#000" />
<rect x="1600" y="406" width="6" height="1" fill="#000" />
<rect x="1600" y="444" width="6" height="1" fill="#000" />
<rect x="1600" y="504" width="6" height="1" fill="#000" />
<rect x="1600" y="542" width="6" height="1" fill="#000" />
<rect x="1600" y="595" width="6" height="1" fill="#000" />
<rect x="1600" y="632" width="6" height="1" fill="#000" />
<rect x="1600" y="685" width="6" height="1" fill="#000" />
<rect x="1600" y="724" width="6" height="1" fill="#000" />
<rect x="1010" y="759" width="1" height="5" fill="#000" />
<rect x="1214" y="759" width="1" height="5" fill="#000" />
<rect x="1304" y="759" width="1" height="10" fill="#000" />
<rect x="1508" y="759" width="1" height="5" fill="#000" />
<text transform="scale(0.75,1)" x="2149.3 2157.3 2165.3 2173.3 2181.3 2189.3" y="298" font-size="12" fill="#000" stroke="#000" stroke-width=".35" text-anchor="middle">10,260</text>
<text transform="scale(0.75,1)" x="2149.3 2157.3 2165.3 2173.3 2181.3 2189.3" y="336" font-size="12" fill="#000" stroke="#000" stroke-width=".35" text-anchor="middle">10,215</text>
<text transform="scale(0.75,1)" x="2149.3 2157.3 2165.3 2173.3 2181.3 2189.3" y="374" font-size="12" fill="#000" stroke="#000" stroke-width=".35" text-anchor="middle">10,170</text>
<text transform="scale(0.75,1)" x="2149.3 2157.3 2165.3 2173.3 2181.3 2189.3" y="412" font-size="12" fill="#000" stroke="#000" stroke-width=".35" text-anchor="middle">10,125</text>
<text transform="scale(0.75,1)" x="2149.3 2157.3 2165.3 2173.3 2181.3 2189.3" y="450" font-size="12" fill="#000" stroke="#000" stroke-width=".35" text-anchor="middle">10,080</text>
<text transform="scale(0.75,1)" x="2149.3 2157.3 2165.3 2173.3 2181.3 2189.3" y="510" font-size="12" fill="#000" stroke="#000" stroke-width=".35" text-anchor="middle">8,000.</text>
<text transform="scale(0.75,1)" x="2149.3 2157.3 2165.3 2173.3 2181.3 2189.3" y="548" font-size="12" fill="#000" stroke="#000" stroke-width=".35" text-anchor="middle">2,500.</text>
<text transform="scale(0.75,1)" x="2149.3 2157.3 2165.3 2173.3 2181.3" y="601" font-size="12" fill="#000" stroke="#000" stroke-width=".35" text-anchor="middle">15.50</text>
<text transform="scale(0.75,1)" x="2149.3 2157.3 2165.3 2173.3 2181.3" y="638" font-size="12" fill="#000" stroke="#000" stroke-width=".35" text-anchor="middle">-7.50</text>
<text transform="scale(0.75,1)" x="2149.3 2157.3 2165.3 2173.3 2181.3 2189.3" y="691" font-size="12" fill="#000" stroke="#000" stroke-width=".35" text-anchor="middle">100.00</text>
<text transform="scale(0.75,1)" x="2149.3 2157.3 2165.3 2173.3 2181.3" y="730" font-size="12" fill="#000" stroke="#000" stroke-width=".35" text-anchor="middle">40.00</text>
<text transform="scale(0.75,1)" x="1350.7 1358.7 1366.7 1374.7 1382.7" y="779" font-size="12" fill="#000" stroke="#000" stroke-width=".35" text-anchor="middle">12/03</text>
<text transform="scale(0.75,1)" x="1622.7 1630.7 1638.7 1646.7 1654.7" y="779" font-size="12" fill="#000" stroke="#000" stroke-width=".35" text-anchor="middle">20:00</text>
<text transform="scale(0.75,1)" x="1742.7 1750.7 1758.7 1766.7 1774.7" y="779" font-size="12" fill="#000" stroke="#000" stroke-width=".35" text-anchor="middle">12/06</text>
<text transform="scale(0.75,1)" x="2014.7 2022.7 2030.7 2038.7 2046.7" y="779" font-size="12" fill="#000" stroke="#000" stroke-width=".35" text-anchor="middle">20:00</text>
<clipPath id="cl944"><rect x="944" y="276" width="656" height="509"/></clipPath><g clip-path="url(#cl944)">
<text class="cj" x="947 959 971 983 995 1007 1019" y="287.7" font-size="12" fill="#000">日経２２５先物</text>
<text transform="scale(0.75,1)" x="1386.7 1394.7 1402.7 1410.7 1418.7 1426.7 1442.7 1450.7" y="287" font-size="12" fill="#000" stroke="#000" stroke-width=".35" text-anchor="middle">10/12(15</text>
<text class="cj" x="1091" y="287.7" font-size="12" fill="#000">分</text>
<text transform="scale(0.75,1)" x="1474.7 1490.7 1498.7 1506.7 1514.7 1522.7 1530.7 1538.7 1546.7 1554.7 1562.7 1578.7 1594.7 1602.7 1610.7 1618.7 1626.7 1634.7 1642.7 1650.7 1658.7 1666.7 1682.7" y="287" font-size="12" fill="#000" stroke="#000" stroke-width=".35" text-anchor="middle">,2010/11/26-2010/12/06)</text>
<text class="cj" x="1285.5 1297.5 1309.5 1321.5" y="287.7" font-size="12" fill="#000">移動平均</text>
<text transform="scale(0.75,1)" x="1782 1798 1806 1814 1822 1830 1838 1854 1862 1870 1886" y="287" font-size="12" fill="#000" stroke="#000" stroke-width=".35" text-anchor="middle">(Close,150)</text>
<text class="cj" x="1438 1450 1462 1474" y="287.7" font-size="12" fill="#000">移動平均</text>
<text transform="scale(0.75,1)" x="1985.3 2001.3 2009.3 2017.3 2025.3 2033.3 2041.3 2057.3 2065.3 2081.3" y="287" font-size="12" fill="#000" stroke="#000" stroke-width=".35" text-anchor="middle">(Close,20)</text>
<text class="cj" x="947 959 971 983 995" y="301.7" font-size="12" fill="#000">一目均衡表</text>
<text transform="scale(0.75,1)" x="1346.7 1362.7 1370.7 1386.7 1394.7 1402.7 1418.7 1426.7 1442.7" y="301" font-size="12" fill="#000" stroke="#000" stroke-width=".35" text-anchor="middle">(9,26,52)</text>
<text class="cj" x="1105.5 1117.5 1129.5 1141.5" y="301.7" font-size="12" fill="#000">移動平均</text>
<text transform="scale(0.75,1)" x="1542 1558 1566 1574 1582 1590 1598 1614 1630" y="301" font-size="12" fill="#000" stroke="#000" stroke-width=".35" text-anchor="middle">(Close,5)</text>
<text class="cj" x="1246 1258 1270 1282" y="301.7" font-size="12" fill="#000">移動平均</text>
<text transform="scale(0.75,1)" x="1729.3 1745.3 1753.3 1761.3 1769.3 1777.3 1785.3 1801.3 1809.3 1825.3" y="301" font-size="12" fill="#000" stroke="#000" stroke-width=".35" text-anchor="middle">(Close,40)</text>
<text class="cj" x="1392.5 1404.5 1416.5 1428.5" y="301.7" font-size="12" fill="#000">移動平均</text>
<text transform="scale(0.75,1)" x="1924.7 1940.7 1948.7 1956.7 1964.7 1972.7 1980.7 1996.7 2004.7 2020.7" y="301" font-size="12" fill="#000" stroke="#000" stroke-width=".35" text-anchor="middle">(Close,25)</text>
<text class="cj" x="1539 1551 1563 1575" y="301.7" font-size="12" fill="#000">移動平均</text>
<text transform="scale(0.75,1)" x="2120 2136" y="301" font-size="12" fill="#000" stroke="#000" stroke-width=".35" text-anchor="middle">(C</text>
<text class="cj" x="947 959 971" y="499.7" font-size="12" fill="#000">出来高</text>
<text class="cj" x="947 959 971 983" y="590.7" font-size="12" fill="#000">移動平均</text>
<text transform="scale(0.75,1)" x="1330.7 1346.7 1354.7 1362.7 1370.7 1378.7 1386.7 1402.7 1410.7 1426.7" y="590" font-size="12" fill="#000" stroke="#000" stroke-width=".35" text-anchor="middle">(Close,75)</text>
<text transform="scale(0.75,1)" x="1462 1470 1478 1486 1494 1510 1518 1526 1542 1550 1558 1574 1590" y="590" font-size="12" fill="#000" stroke="#000" stroke-width=".35" text-anchor="middle">MACD(12,26,9)</text>
<text class="cj" x="947 959 971 983 995 1007 1019 1031 1043 1055 1067 1079 1091" y="681.7" font-size="12" fill="#000">スロー・ストキャスティクス</text>
<text transform="scale(0.75,1)" x="1474.7 1490.7 1498.7 1506.7 1522.7 1530.7 1546.7 1554.7 1562.7 1578.7 1586.7 1602.7" y="681" font-size="12" fill="#000" stroke="#000" stroke-width=".35" text-anchor="middle">(14,3,80,20)</text>
</g>
<rect x="944" y="382.6" width="1" height="75.3" fill="#ff0000" />
<rect x="950" y="381.5" width="1" height="76.4" fill="#ff0000" />
<rect x="956" y="380.3" width="1" height="77.6" fill="#ff0000" />
<rect x="962" y="380" width="1" height="77.9" fill="#ff0000" />
<rect x="968" y="379.7" width="1" height="78.2" fill="#ff0000" />
<rect x="974" y="377.5" width="1" height="73.7" fill="#ff0000" />
<rect x="980" y="377.5" width="1" height="71.3" fill="#ff0000" />
<rect x="986" y="377.5" width="1" height="69.2" fill="#ff0000" />
<rect x="992" y="375.2" width="1" height="62.8" fill="#ff0000" />
<rect x="998" y="373.5" width="1" height="55.8" fill="#ff0000" />
<rect x="1004" y="373.2" width="1" height="48.1" fill="#ff0000" />
<rect x="1010" y="372.9" width="1" height="47.2" fill="#ff0000" />
<rect x="1016" y="367.2" width="1" height="52.8" fill="#ff0000" />
<rect x="1022" y="366.6" width="1" height="53.3" fill="#ff0000" />
<rect x="1028" y="363.2" width="1" height="56.6" fill="#ff0000" />
<rect x="1034" y="352.9" width="1" height="57.1" fill="#ff0000" />
<rect x="1040" y="343.8" width="1" height="58.3" fill="#ff0000" />
<rect x="1046" y="343.8" width="1" height="57.8" fill="#ff0000" />
<rect x="1052" y="343.8" width="1" height="54.3" fill="#ff0000" />
<rect x="1058" y="343.8" width="1" height="54.3" fill="#ff0000" />
<rect x="1064" y="343.8" width="1" height="50.3" fill="#ff0000" />
<rect x="1070" y="343.8" width="1" height="46.4" fill="#ff0000" />
<rect x="1076" y="339.8" width="1" height="49.2" fill="#ff0000" />
<rect x="1082" y="338.6" width="1" height="46.4" fill="#ff0000" />
<rect x="1088" y="337.5" width="1" height="47.5" fill="#ff0000" />
<rect x="1094" y="340.4" width="1" height="44.6" fill="#ff0000" />
<rect x="1100" y="340.9" width="1" height="44.1" fill="#ff0000" />
<rect x="1106" y="341.5" width="1" height="43.5" fill="#ff0000" />
<rect x="1112" y="343.2" width="1" height="38.4" fill="#ff0000" />
<rect x="1118" y="343.5" width="1" height="37.8" fill="#ff0000" />
<rect x="1124" y="343.9" width="1" height="37.1" fill="#ff0000" />
<rect x="1130" y="344.2" width="1" height="28.3" fill="#ff0000" />
<rect x="1136" y="347.8" width="1" height="24.7" fill="#ff0000" />
<rect x="1142" y="350.6" width="1" height="21.9" fill="#ff0000" />
<rect x="1148" y="350.3" width="1" height="18.4" fill="#ff0000" />
<rect x="1154" y="350" width="1" height="15" fill="#ff0000" />
<rect x="1160" y="338.7" width="1" height="21.8" fill="#ff0000" />
<rect x="1166" y="336.9" width="1" height="20.1" fill="#ff0000" />
<rect x="1172" y="335.2" width="1" height="15" fill="#ff0000" />
<rect x="1178" y="335.2" width="1" height="14" fill="#ff0000" />
<rect x="1184" y="335.2" width="1" height="10.8" fill="#ff0000" />
<rect x="1190" y="335.2" width="1" height="6.1" fill="#ff0000" />
<rect x="1196" y="331.8" width="1" height="2.4" fill="#ff0000" />
<rect x="1202" y="331.8" width="1" height="2.4" fill="#ff0000" />
<rect x="1208" y="331.8" width="1" height="2.4" fill="#ff0000" />
<rect x="1238" y="335.2" width="1" height="2.1" fill="#0000ff" />
<rect x="1244" y="335.2" width="1" height="5.1" fill="#0000ff" />
<rect x="1250" y="335.2" width="1" height="8.2" fill="#0000ff" />
<rect x="1256" y="336.7" width="1" height="10.7" fill="#0000ff" />
<rect x="1262" y="339.2" width="1" height="12.2" fill="#0000ff" />
<rect x="1268" y="339.5" width="1" height="11.9" fill="#0000ff" />
<rect x="1274" y="339.8" width="1" height="11.6" fill="#0000ff" />
<rect x="1280" y="339.8" width="1" height="9.8" fill="#0000ff" />
<rect x="1286" y="339.8" width="1" height="9.8" fill="#0000ff" />
<rect x="1292" y="339.8" width="1" height="9.8" fill="#0000ff" />
<rect x="1298" y="339.8" width="1" height="9.8" fill="#0000ff" />
<rect x="1304" y="339.8" width="1" height="9.8" fill="#0000ff" />
<rect x="1310" y="339.8" width="1" height="9.8" fill="#0000ff" />
<rect x="1316" y="339.8" width="1" height="9.8" fill="#0000ff" />
<rect x="1322" y="339.8" width="1" height="5.8" fill="#0000ff" />
<rect x="1328" y="339.8" width="1" height="2.4" fill="#0000ff" />
<rect x="1334" y="339.8" width="1" height="2.4" fill="#0000ff" />
<rect x="1340" y="339.8" width="1" height="2.4" fill="#0000ff" />
<rect x="1346" y="339.8" width="1" height="5.8" fill="#0000ff" />
<rect x="1406" y="335.2" width="1" height="3.6" fill="#ff0000" />
<rect x="1412" y="335.2" width="1" height="3.6" fill="#ff0000" />
<rect x="1418" y="329.5" width="1" height="9.3" fill="#ff0000" />
<rect x="1430" y="360.3" width="1" height="4.2" fill="#0000ff" />
<rect x="1436" y="360.3" width="1" height="4.2" fill="#0000ff" />
<rect x="1442" y="360.3" width="1" height="4.2" fill="#0000ff" />
<rect x="1448" y="360.3" width="1" height="4.2" fill="#0000ff" />
<rect x="1454" y="360.3" width="1" height="4.2" fill="#0000ff" />
<rect x="1460" y="360.3" width="1" height="4.2" fill="#0000ff" />
<rect x="1466" y="360.3" width="1" height="4.2" fill="#0000ff" />
<rect x="1472" y="365.5" width="1" height="1.8" fill="#0000ff" />
<rect x="1478" y="365.5" width="1" height="10.4" fill="#0000ff" />
<rect x="1484" y="365.5" width="1" height="9.8" fill="#0000ff" />
<rect x="1490" y="365.5" width="1" height="9.3" fill="#0000ff" />
<rect x="1496" y="365.5" width="1" height="8.7" fill="#0000ff" />
<rect x="1502" y="365.5" width="1" height="1.8" fill="#0000ff" />
<rect x="1508" y="365.5" width="1" height="4.7" fill="#0000ff" />
<rect x="1514" y="365.5" width="1" height="4.7" fill="#0000ff" />
<rect x="1520" y="365.5" width="1" height="4.7" fill="#0000ff" />
<rect x="1526" y="365.5" width="1" height="7" fill="#0000ff" />
<rect x="1532" y="365.5" width="1" height="7" fill="#0000ff" />
<rect x="1538" y="365.5" width="1" height="4.7" fill="#0000ff" />
<rect x="1544" y="365.5" width="1" height="4.7" fill="#0000ff" />
<rect x="1550" y="365.5" width="1" height="4.7" fill="#0000ff" />
<rect x="1556" y="365.5" width="1" height="4.7" fill="#0000ff" />
<rect x="1562" y="365.5" width="1" height="2.4" fill="#0000ff" />
<rect x="1568" y="365.5" width="1" height="2.4" fill="#0000ff" />
<rect x="1574" y="365.5" width="1" height="5.3" fill="#0000ff" />
<rect x="1580" y="365.5" width="1" height="16.1" fill="#0000ff" />
<rect x="1586" y="365.5" width="1" height="13.2" fill="#0000ff" />
<rect x="1592" y="365.5" width="1" height="13.2" fill="#0000ff" />
<polyline points="944.5,381.6 950.5,380.5 956.5,379.3 968.5,378.7 974.5,376.5 986.5,376.5 992.5,374.2 998.5,372.5 1010.5,371.9 1016.5,366.2 1022.5,365.6 1028.5,362.2 1034.5,351.9 1040.5,342.8 1070.5,342.8 1076.5,338.8 1088.5,336.5 1094.5,339.4 1106.5,340.5 1112.5,342.2 1134,343.4 1136.5,346.8 1142.5,349.6 1154.5,349 1160.5,337.7 1172.5,334.2 1190.5,334.2 1196.5,330.8 1208.5,330.8 1214.5,334.2 1237,336.5 1250.5,343.4 1256.5,347.4 1262.5,351.4 1274.5,351.4 1280.5,349.6 1316.5,349.6 1322.5,345.6 1328.5,342.2 1340.5,342.2 1346.5,345.6 1352.5,340.5 1374,339.4 1400,338.8 1406.5,334.2 1412.5,334.2 1418.5,328.5 1424.5,338.8 1427.4,354.8 1430.5,364.5 1466.5,364.5 1472.5,367.3 1478.5,375.9 1496.5,374.2 1502.5,367.3 1508.5,370.2 1520.5,370.2 1526.5,372.5 1532.5,372.5 1538.5,370.2 1556.5,370.2 1562.5,367.9 1568.5,367.9 1574.5,370.8 1580.5,381.6 1586.5,378.7 1600,378.7" fill="none" stroke="#00ffff" stroke-width="1" shape-rendering="crispEdges"/>
<polyline points="943.7,457.9 968.8,457.9 975.6,449.9 985.9,447.6 998.5,429.3 1005.3,420.2 1029.3,419.8 1034.5,410 1040.5,402.1 1046.5,401.6 1052.5,398.1 1058.5,398.1 1070.5,390.2 1076.5,389 1082.5,385 1106.5,385 1112.5,381.6 1124.5,381 1130.5,372.5 1142.5,372.5 1154.5,365 1160.5,360.5 1166.5,357 1172.5,350.2 1180,349 1186,345 1192,340 1196.5,334.2 1253,334.2 1262.5,338.2 1274.5,338.8 1424.5,338.8 1430.5,359.3 1466.5,359.3 1472.5,364.5 1600,364.5" fill="none" stroke="#ff0000" stroke-width="1" shape-rendering="crispEdges"/>
<polyline points="943.7,469.3 998.5,463.6 1067,453.3 1135.4,438.5 1203.9,421.4 1264.5,410 1305.5,400.4 1339.8,392.4 1374,384.5 1400,381 1422.8,376.5 1445.6,373 1468.5,370.8 1491.3,367.3 1514,365.6 1537,363.9 1559.8,362.2 1582.6,360.5 1592.5,360.1" fill="none" stroke="#ffff00" stroke-width="1.2" />
<polyline points="943.7,412.2 984.8,395.1 1044,374.6 1112.6,356.3 1158.3,349.5 1215.3,343.7 1261,342.6 1277,341.5 1340.9,347.2 1400,350.2 1422.8,352.5 1445.6,353.6 1468.5,355.3 1480,358.2 1502.7,361.6 1525.5,363.3 1548.4,364.1 1571.2,365 1592.9,367.3" fill="none" stroke="#4b0082" stroke-width="1" />
<polyline points="944.5,357 985.6,351.4 1031.3,346.8 1054,342.2 1088.4,337.7 1122.6,342.2 1156.8,345.6 1180,343.4 1214.2,337.7 1248.5,335.4 1271.3,337.7 1294,344.5 1328.4,349 1362.6,352.5 1396.8,356 1422.8,359.3 1445.6,363.9 1468.5,368.5 1480,374.2 1502.7,379.9 1525.5,383.9 1559.8,385 1592.5,385.6" fill="none" stroke="#30d0d0" stroke-width="1" />
<polyline points="944.5,352.5 974.2,344.5 1008.5,340 1042.7,336.5 1077,337.7 1111.2,344.5 1145.4,345.6 1180,348 1214.2,340 1248.5,332 1270,327.4 1277,330.2 1305.5,343.4 1339.8,353.6 1368.3,362.8 1396.8,374.2 1420,381 1434.2,379.9 1457,377.6 1480,378.7 1502.7,381 1525.5,383.3 1559.8,385.6 1592.5,386.7" fill="none" stroke="#006400" stroke-width="1" />
<polyline points="944.5,349.6 974.2,339.9 1008.5,338.8 1042.7,335.4 1065.5,339.4 1099.8,343.4 1134,345.6 1156.8,350.2 1180,349 1202.8,342.2 1225.6,335.4 1248.5,328.5 1268.4,322.8 1274.5,324.5 1294,337.7 1317,350.2 1339.8,361.6 1362.6,370.8 1379.7,378.8 1396.8,382.7 1410,380 1422.8,374.2 1445.6,373 1468.5,377.6 1491.3,379.9 1514,383.3 1537,385 1559.8,387.9 1592.5,387.3" fill="none" stroke="#ff6600" stroke-width="1" />
<polyline points="944.5,335.4 950.5,337.1 956.5,337.1 980.5,342.2 986.5,350.2 992.5,356 1004.5,356 1010.5,342.2 1016.5,334.2 1040.5,332 1046.5,325.1 1058.5,325.1 1064.5,334.2 1070.5,335.4 1076.5,338.8 1088.5,338.8 1094.5,343.4 1100.5,349 1106.5,354.8 1112.5,363.9 1124.5,363.9 1130.5,359.3 1160.5,359.3 1166.5,354.8 1172.5,345.6 1178.5,338.8 1196.5,338.8 1202.5,330.8 1220.5,330.2 1226.5,325.1 1250.5,324.5 1256.5,321.1 1262.5,320.5 1268.5,317.7 1271.3,328.5 1274.5,338.8 1280.5,364.5 1316.5,368 1322.5,368.5 1328.5,387.9 1334.5,385 1346.5,385 1352.5,373 1358.5,375.9 1370.5,375.9 1376.5,381 1382.5,378.7 1388.5,375.9 1400.5,375.9 1406.5,374.2 1412.5,371.9 1418.5,371.3 1436.5,373 1448.5,374.2 1454.5,375.3 1472.5,376.5 1478.5,385 1484.5,385.6 1490.5,389 1520.5,389 1526.5,392.4 1532.5,387.9 1556.5,387.9 1562.5,385 1592.5,385" fill="none" stroke="#ff0000" stroke-width="3" stroke-linejoin="round"/>
<polyline points="944.5,360.1 950.5,360.1 956.5,360.1 962.5,376.9 968.5,360.1 974.5,351.6 980.5,334.7 986.5,343.2 992.5,351.6 998.5,351.6 1004.5,334.7 1010.5,343.2 1016.5,334.7 1022.5,326.3 1028.5,317.8 1034.5,326.3 1040.5,326.3 1046.5,326.3 1052.5,317.8 1058.5,326.3 1064.5,334.7 1070.5,326.3 1076.5,317.8 1082.5,317.8 1088.5,317.8 1094.5,326.3 1100.5,317.8 1106.5,317.8 1112.5,317.8 1118.5,309.4 1124.5,381.2 1130.5,419.2 1136.5,410.7 1142.5,414.9 1148.5,419.2 1154.5,368.5 1160.5,376.9 1166.5,368.5 1172.5,376.9 1178.5,376.9 1184.5,376.9 1190.5,368.5 1196.5,385.4 1202.5,376.9 1208.5,385.4 1214.5,385.4 1220.5,385.4 1226.5,368.5 1232.5,368.5 1238.5,368.5 1244.5,376.9 1250.5,376.9 1256.5,368.5 1262.5,368.5 1268.5,360.1 1274.5,368.5 1280.5,368.5 1286.5,376.9 1292.5,385.4 1298.5,385.4 1304.5,393.8 1310.5,385.4 1316.5,376.9 1322.5,393.8 1328.5,402.3 1334.5,385.4 1340.5,393.8 1346.5,393.8 1352.5,393.8 1358.5,393.8 1364.5,393.8 1370.5,385.4 1376.5,385.4 1382.5,376.9 1388.5,376.9 1394.5,385.4 1400.5,385.4 1406.5,393.8 1412.5,385.4 1418.5,385.4 1424.5,385.4 1430.5,385.4 1436.5,376.9 1442.5,385.4" fill="none" stroke="#008000" stroke-width="3" stroke-linejoin="round"/>
<polyline points="968.5,336.9 974.5,337.3 980.5,340.1 986.5,346.5 992.5,350.8 998.5,353.6 1004.5,358.4 1010.5,351.6 1016.5,341.5 1022.5,333.1 1028.5,326.3 1034.5,316.2 1040.5,317.9 1046.5,322.9 1052.5,331.4 1058.5,339.8 1064.5,349.1 1070.5,354.2 1076.5,354.2 1082.5,354.2 1088.5,354.2 1094.5,355 1100.5,356.7 1106.5,360.1 1112.5,363.5 1118.5,363.5 1124.5,361.8 1130.5,356.7 1136.5,353.3 1142.5,348.2 1148.5,346.6 1154.5,343.2 1160.5,344.9 1166.5,343.2 1172.5,338.1 1178.5,331.3 1184.5,329.7 1190.5,326.3 1196.5,324.6 1202.5,322.9 1208.5,324.6 1214.5,326.3 1220.5,326.3 1226.5,324.6 1232.5,324.6 1238.5,322.9 1244.5,321.2 1250.5,319.6 1256.5,319.6 1262.5,319.6 1268.5,317.9 1274.5,328.8 1280.5,349.1 1286.5,367.7 1292.5,386.3 1298.5,408.2 1304.5,405.7 1310.5,397.3 1316.5,388.8 1322.5,382 1328.5,373.6 1334.5,375.3 1340.5,373.6 1346.5,377 1352.5,377 1358.5,378.6 1364.5,380.3 1370.5,383.7 1376.5,380.4 1382.5,378.7 1388.5,375.3 1394.5,373.6 1400.5,371.9 1406.5,371.9 1412.5,371.9 1418.5,370.2 1424.5,368.5 1430.5,366.8 1436.5,368.5 1442.5,371.9 1448.5,377 1454.5,382 1460.5,385.4 1466.5,385.4 1472.5,387.1 1478.5,390.5 1484.5,388.8 1490.5,390.5 1496.5,393.8 1502.5,393.9 1508.5,392.2 1514.5,393.9 1520.5,392.2 1526.5,390.5 1532.5,387.1 1538.5,383.7 1544.5,382 1550.5,382.1 1556.5,383.7 1562.5,385.4 1568.5,387.1 1574.5,387.1 1580.5,387.1 1586.5,383.7 1592.5,383.7" fill="none" stroke="#ff0000" stroke-width="1" />
<rect x="944" y="334.7" width="1" height="4.7" fill="#ff0000" />
<rect x="943" y="334.2" width="3" height="1" fill="#ff0000" />
<rect x="950" y="334.7" width="1" height="4.7" fill="#0000ff" />
<rect x="949" y="336.8" width="3" height="1" fill="#0000ff" />
<rect x="956" y="334.7" width="1" height="4.7" fill="#ff0000" />
<rect x="955" y="335.9" width="3" height="1" fill="#ff0000" />
<rect x="962" y="334.7" width="1" height="6.4" fill="#0000ff" />
<rect x="961" y="338.4" width="3" height="1" fill="#0000ff" />
<rect x="968" y="334.7" width="1" height="6.4" fill="#ff0000" />
<rect x="967" y="336.8" width="3" height="1" fill="#ff0000" />
<rect x="974" y="334.7" width="1" height="6.4" fill="#ff0000" />
<rect x="973" y="335.9" width="3" height="1" fill="#ff0000" />
<rect x="980" y="334.7" width="1" height="17.4" fill="#0000ff" />
<rect x="979" y="334.7" width="3" height="17.4" fill="#0000ff" />
<rect x="986" y="351.6" width="1" height="17.4" fill="#0000ff" />
<rect x="985" y="351.6" width="3" height="17.4" fill="#0000ff" />
<rect x="992" y="360.1" width="1" height="8.9" fill="#ff0000" />
<rect x="991" y="360.1" width="3" height="8.9" fill="#ff0000" />
<rect x="998" y="351.6" width="1" height="8.9" fill="#ff0000" />
<rect x="997" y="351.6" width="3" height="8.9" fill="#ff0000" />
<rect x="1003" y="359.6" width="3" height="1" fill="#0000ff" />
<rect x="1010" y="300.9" width="1" height="25.8" fill="#0000ff" />
<rect x="1009" y="309.4" width="3" height="8.9" fill="#0000ff" />
<rect x="1016" y="309.4" width="1" height="17.4" fill="#0000ff" />
<rect x="1015" y="317.4" width="3" height="1" fill="#0000ff" />
<rect x="1022" y="300.9" width="1" height="25.8" fill="#0000ff" />
<rect x="1021" y="317.4" width="3" height="1" fill="#0000ff" />
<rect x="1028" y="317.8" width="1" height="8.9" fill="#0000ff" />
<rect x="1027" y="317.4" width="3" height="1" fill="#0000ff" />
<rect x="1034" y="309.4" width="1" height="25.8" fill="#ff0000" />
<rect x="1033" y="309.4" width="3" height="8.9" fill="#ff0000" />
<rect x="1040" y="309.4" width="1" height="17.4" fill="#0000ff" />
<rect x="1039" y="317.8" width="3" height="8.9" fill="#0000ff" />
<rect x="1046" y="317.8" width="1" height="34.3" fill="#0000ff" />
<rect x="1045" y="326.3" width="3" height="17.4" fill="#0000ff" />
<rect x="1052" y="337.3" width="1" height="23.3" fill="#0000ff" />
<rect x="1051" y="343.2" width="3" height="17.4" fill="#0000ff" />
<rect x="1057" y="359.6" width="3" height="1" fill="#0000ff" />
<rect x="1064" y="354.1" width="1" height="6.4" fill="#ff0000" />
<rect x="1063" y="355.8" width="3" height="4.7" fill="#ff0000" />
<rect x="1070" y="351.6" width="1" height="8.9" fill="#ff0000" />
<rect x="1069" y="351.6" width="3" height="8.9" fill="#ff0000" />
<rect x="1076" y="343.2" width="1" height="8.9" fill="#ff0000" />
<rect x="1075" y="343.2" width="3" height="8.9" fill="#ff0000" />
<rect x="1082" y="343.2" width="1" height="17.4" fill="#0000ff" />
<rect x="1081" y="343.2" width="3" height="17.4" fill="#0000ff" />
<rect x="1088" y="351.6" width="1" height="17.4" fill="#0000ff" />
<rect x="1087" y="359.6" width="3" height="1" fill="#0000ff" />
<rect x="1094" y="360.1" width="1" height="8.9" fill="#ff0000" />
<rect x="1093" y="360.1" width="3" height="8.9" fill="#ff0000" />
<rect x="1100" y="351.6" width="1" height="17.4" fill="#0000ff" />
<rect x="1099" y="359.6" width="3" height="1" fill="#0000ff" />
<rect x="1105" y="359.6" width="3" height="1" fill="#0000ff" />
<rect x="1112" y="360.1" width="1" height="25.8" fill="#0000ff" />
<rect x="1111" y="360.1" width="3" height="17.4" fill="#0000ff" />
<rect x="1118" y="360.1" width="1" height="17.4" fill="#ff0000" />
<rect x="1117" y="360.1" width="3" height="17.4" fill="#ff0000" />
<rect x="1124" y="351.6" width="1" height="8.9" fill="#ff0000" />
<rect x="1123" y="351.6" width="3" height="8.9" fill="#ff0000" />
<rect x="1130" y="334.7" width="1" height="17.4" fill="#ff0000" />
<rect x="1129" y="334.7" width="3" height="17.4" fill="#ff0000" />
<rect x="1136" y="334.7" width="1" height="8.9" fill="#0000ff" />
<rect x="1135" y="334.7" width="3" height="8.9" fill="#0000ff" />
<rect x="1142" y="343.2" width="1" height="8.9" fill="#0000ff" />
<rect x="1141" y="343.2" width="3" height="8.9" fill="#0000ff" />
<rect x="1148" y="351.6" width="1" height="8.9" fill="#0000ff" />
<rect x="1147" y="351.2" width="3" height="1" fill="#0000ff" />
<rect x="1154" y="334.7" width="1" height="17.4" fill="#ff0000" />
<rect x="1153" y="334.7" width="3" height="17.4" fill="#ff0000" />
<rect x="1160" y="334.7" width="1" height="8.9" fill="#0000ff" />
<rect x="1159" y="334.7" width="3" height="8.9" fill="#0000ff" />
<rect x="1166" y="334.7" width="1" height="8.9" fill="#ff0000" />
<rect x="1165" y="334.7" width="3" height="8.9" fill="#ff0000" />
<rect x="1172" y="326.3" width="1" height="8.9" fill="#ff0000" />
<rect x="1171" y="326.3" width="3" height="8.9" fill="#ff0000" />
<rect x="1178" y="317.8" width="1" height="8.9" fill="#ff0000" />
<rect x="1177" y="317.8" width="3" height="8.9" fill="#ff0000" />
<rect x="1184" y="317.8" width="1" height="8.9" fill="#0000ff" />
<rect x="1183" y="317.8" width="3" height="8.9" fill="#0000ff" />
<rect x="1189" y="325.9" width="3" height="1" fill="#0000ff" />
<rect x="1195" y="325.9" width="3" height="1" fill="#0000ff" />
<rect x="1202" y="317.8" width="1" height="8.9" fill="#ff0000" />
<rect x="1201" y="317.8" width="3" height="8.9" fill="#ff0000" />
<rect x="1208" y="317.8" width="1" height="8.9" fill="#0000ff" />
<rect x="1207" y="317.8" width="3" height="8.9" fill="#0000ff" />
<rect x="1214" y="326.3" width="1" height="8.9" fill="#0000ff" />
<rect x="1213" y="326.3" width="3" height="8.9" fill="#0000ff" />
<rect x="1220" y="326.3" width="1" height="8.9" fill="#ff0000" />
<rect x="1219" y="326.3" width="3" height="8.9" fill="#ff0000" />
<rect x="1226" y="317.8" width="1" height="8.9" fill="#ff0000" />
<rect x="1225" y="317.8" width="3" height="8.9" fill="#ff0000" />
<rect x="1231" y="317.4" width="3" height="1" fill="#0000ff" />
<rect x="1237" y="317.4" width="3" height="1" fill="#0000ff" />
<rect x="1244" y="317.8" width="1" height="8.9" fill="#0000ff" />
<rect x="1243" y="317.8" width="3" height="8.9" fill="#0000ff" />
<rect x="1250" y="317.8" width="1" height="8.9" fill="#ff0000" />
<rect x="1249" y="317.8" width="3" height="8.9" fill="#ff0000" />
<rect x="1256" y="309.4" width="1" height="9" fill="#0000ff" />
<rect x="1255" y="317.4" width="3" height="1" fill="#0000ff" />
<rect x="1262" y="309.4" width="1" height="9" fill="#0000ff" />
<rect x="1261" y="317.4" width="3" height="1" fill="#0000ff" />
<rect x="1268" y="300.9" width="1" height="17.4" fill="#ff0000" />
<rect x="1267" y="309.4" width="3" height="8.9" fill="#ff0000" />
<rect x="1274" y="308.5" width="1" height="77.3" fill="#0000ff" />
<rect x="1273" y="308.5" width="3" height="73.1" fill="#0000ff" />
<rect x="1280" y="381.2" width="1" height="38.5" fill="#0000ff" />
<rect x="1279" y="381.2" width="3" height="38.5" fill="#0000ff" />
<rect x="1286" y="402.3" width="1" height="17.4" fill="#0000ff" />
<rect x="1285" y="410.3" width="3" height="1" fill="#0000ff" />
<rect x="1292" y="402.3" width="1" height="17.4" fill="#0000ff" />
<rect x="1291" y="410.3" width="3" height="1" fill="#0000ff" />
<rect x="1297" y="418.7" width="3" height="1" fill="#0000ff" />
<rect x="1304" y="354.1" width="1" height="30.1" fill="#0000ff" />
<rect x="1303" y="368.1" width="3" height="1" fill="#0000ff" />
<rect x="1310" y="368.5" width="1" height="17.4" fill="#0000ff" />
<rect x="1309" y="368.5" width="3" height="8.9" fill="#0000ff" />
<rect x="1316" y="368.5" width="1" height="25.8" fill="#ff0000" />
<rect x="1315" y="368.5" width="3" height="8.9" fill="#ff0000" />
<rect x="1322" y="360.1" width="1" height="17.4" fill="#0000ff" />
<rect x="1321" y="368.5" width="3" height="8.9" fill="#0000ff" />
<rect x="1327" y="376.5" width="3" height="1" fill="#0000ff" />
<rect x="1333" y="376.5" width="3" height="1" fill="#0000ff" />
<rect x="1340" y="368.5" width="1" height="8.9" fill="#ff0000" />
<rect x="1339" y="368.5" width="3" height="8.9" fill="#ff0000" />
<rect x="1346" y="368.5" width="1" height="25.8" fill="#0000ff" />
<rect x="1345" y="368.5" width="3" height="17.4" fill="#0000ff" />
<rect x="1352" y="376.9" width="1" height="8.9" fill="#ff0000" />
<rect x="1351" y="376.9" width="3" height="8.9" fill="#ff0000" />
<rect x="1358" y="376.9" width="1" height="17.4" fill="#0000ff" />
<rect x="1357" y="376.9" width="3" height="8.9" fill="#0000ff" />
<rect x="1363" y="385" width="3" height="1" fill="#0000ff" />
<rect x="1369" y="385" width="3" height="1" fill="#0000ff" />
<rect x="1376" y="368.5" width="1" height="17.4" fill="#ff0000" />
<rect x="1375" y="368.5" width="3" height="17.4" fill="#ff0000" />
<rect x="1381" y="368.1" width="3" height="1" fill="#0000ff" />
<rect x="1388" y="360.1" width="1" height="9" fill="#0000ff" />
<rect x="1387" y="368.1" width="3" height="1" fill="#0000ff" />
<rect x="1394" y="360.1" width="1" height="17.4" fill="#0000ff" />
<rect x="1393" y="368.5" width="3" height="8.9" fill="#0000ff" />
<rect x="1399" y="376.5" width="3" height="1" fill="#0000ff" />
<rect x="1406" y="368.5" width="1" height="8.9" fill="#ff0000" />
<rect x="1405" y="368.5" width="3" height="8.9" fill="#ff0000" />
<rect x="1412" y="360.1" width="1" height="9" fill="#0000ff" />
<rect x="1411" y="368.1" width="3" height="1" fill="#0000ff" />
<rect x="1418" y="360.1" width="1" height="8.9" fill="#ff0000" />
<rect x="1417" y="360.1" width="3" height="8.9" fill="#ff0000" />
<rect x="1424" y="360.1" width="1" height="8.9" fill="#0000ff" />
<rect x="1423" y="360.1" width="3" height="8.9" fill="#0000ff" />
<rect x="1429" y="368.1" width="3" height="1" fill="#0000ff" />
<rect x="1436" y="368.5" width="1" height="8.9" fill="#0000ff" />
<rect x="1435" y="368.5" width="3" height="8.9" fill="#0000ff" />
<rect x="1442" y="376.9" width="1" height="8.9" fill="#0000ff" />
<rect x="1441" y="376.9" width="3" height="8.9" fill="#0000ff" />
<rect x="1447" y="385" width="3" height="1" fill="#0000ff" />
<rect x="1454" y="376.9" width="1" height="17.4" fill="#0000ff" />
<rect x="1453" y="385.4" width="3" height="8.9" fill="#0000ff" />
<rect x="1460" y="385.4" width="1" height="8.9" fill="#ff0000" />
<rect x="1459" y="385.4" width="3" height="8.9" fill="#ff0000" />
<rect x="1466" y="376.9" width="1" height="8.9" fill="#ff0000" />
<rect x="1465" y="376.9" width="3" height="8.9" fill="#ff0000" />
<rect x="1472" y="376.9" width="1" height="17.4" fill="#0000ff" />
<rect x="1471" y="376.9" width="3" height="17.4" fill="#0000ff" />
<rect x="1478" y="393.8" width="1" height="8.9" fill="#0000ff" />
<rect x="1477" y="393.8" width="3" height="8.9" fill="#0000ff" />
<rect x="1484" y="385.4" width="1" height="17.4" fill="#ff0000" />
<rect x="1483" y="385.4" width="3" height="17.4" fill="#ff0000" />
<rect x="1490" y="385.4" width="1" height="8.9" fill="#0000ff" />
<rect x="1489" y="385.4" width="3" height="8.9" fill="#0000ff" />
<rect x="1495" y="393.4" width="3" height="1" fill="#0000ff" />
<rect x="1501" y="393.4" width="3" height="1" fill="#0000ff" />
<rect x="1507" y="393.4" width="3" height="1" fill="#0000ff" />
<rect x="1513" y="393.4" width="3" height="1" fill="#0000ff" />
<rect x="1520" y="385.4" width="1" height="8.9" fill="#ff0000" />
<rect x="1519" y="385.4" width="3" height="8.9" fill="#ff0000" />
<rect x="1525" y="385" width="3" height="1" fill="#0000ff" />
<rect x="1532" y="376.9" width="1" height="8.9" fill="#ff0000" />
<rect x="1531" y="376.9" width="3" height="8.9" fill="#ff0000" />
<rect x="1537" y="376.5" width="3" height="1" fill="#0000ff" />
<rect x="1544" y="376.9" width="1" height="8.9" fill="#0000ff" />
<rect x="1543" y="376.9" width="3" height="8.9" fill="#0000ff" />
<rect x="1549" y="385" width="3" height="1" fill="#0000ff" />
<rect x="1556" y="385.4" width="1" height="8.9" fill="#0000ff" />
<rect x="1555" y="385.4" width="3" height="8.9" fill="#0000ff" />
<rect x="1562" y="385.4" width="1" height="8.9" fill="#ff0000" />
<rect x="1561" y="385.4" width="3" height="8.9" fill="#ff0000" />
<rect x="1567" y="385" width="3" height="1" fill="#0000ff" />
<rect x="1573" y="385" width="3" height="1" fill="#0000ff" />
<rect x="1579" y="385" width="3" height="1" fill="#0000ff" />
<rect x="1586" y="376.9" width="1" height="8.9" fill="#ff0000" />
<rect x="1585" y="376.9" width="3" height="8.9" fill="#ff0000" />
<rect x="1592" y="383.7" width="1" height="2.2" fill="#0000ff" />
<rect x="1591" y="384.9" width="3" height="1" fill="#0000ff" />
<polyline points="944.5,342.4 1004.5,342.4 1010.5,334.4 1106.5,334.4 1112.5,338.4 1160.5,338.4 1172.5,343.4 1178.5,346.8 1190.5,347.4 1196.5,351.4 1250.5,351.4 1256.5,347.4 1262.5,346.8 1268.5,338.8 1274.5,339.4 1277.6,356 1280.5,364.5 1418.5,364.5 1424.5,368.5 1427.5,374 1430.5,387.9 1436.5,385 1448.5,385 1454.5,373 1472.5,375.9 1478.5,381.6 1574.5,381.6 1580.5,385 1592.5,385.6" fill="none" stroke="#0000ff" stroke-width="3" stroke-linejoin="round"/>
<rect x="949" y="559" width="3" height="1" fill="#008000" />
<rect x="955" y="559" width="3" height="1" fill="#008000" />
<rect x="967" y="559" width="3" height="1" fill="#008000" />
<rect x="979" y="558" width="3" height="2" fill="#008000" />
<rect x="985" y="556" width="3" height="4" fill="#008000" />
<rect x="991" y="558" width="3" height="2" fill="#008000" />
<rect x="1003" y="558" width="3" height="2" fill="#008000" />
<rect x="1009" y="504" width="3" height="56" fill="#008000" />
<rect x="1015" y="544" width="3" height="16" fill="#008000" />
<rect x="1021" y="545" width="3" height="15" fill="#008000" />
<rect x="1027" y="556" width="3" height="4" fill="#008000" />
<rect x="1033" y="551" width="3" height="9" fill="#008000" />
<rect x="1039" y="555" width="3" height="5" fill="#008000" />
<rect x="1045" y="537" width="3" height="23" fill="#008000" />
<rect x="1051" y="547" width="3" height="13" fill="#008000" />
<rect x="1057" y="557" width="3" height="3" fill="#008000" />
<rect x="1063" y="538" width="3" height="22" fill="#008000" />
<rect x="1069" y="547" width="3" height="13" fill="#008000" />
<rect x="1075" y="558" width="3" height="2" fill="#008000" />
<rect x="1081" y="555" width="3" height="5" fill="#008000" />
<rect x="1087" y="551" width="3" height="9" fill="#008000" />
<rect x="1093" y="552" width="3" height="8" fill="#008000" />
<rect x="1099" y="557" width="3" height="3" fill="#008000" />
<rect x="1105" y="559" width="3" height="1" fill="#008000" />
<rect x="1111" y="545" width="3" height="15" fill="#008000" />
<rect x="1117" y="547" width="3" height="13" fill="#008000" />
<rect x="1123" y="519" width="3" height="41" fill="#008000" />
<rect x="1129" y="558" width="3" height="2" fill="#008000" />
<rect x="1135" y="557" width="3" height="3" fill="#008000" />
<rect x="1141" y="556" width="3" height="4" fill="#008000" />
<rect x="1147" y="557" width="3" height="3" fill="#008000" />
<rect x="1153" y="558" width="3" height="2" fill="#008000" />
<rect x="1171" y="557" width="3" height="3" fill="#008000" />
<rect x="1177" y="559" width="3" height="1" fill="#008000" />
<rect x="1189" y="559" width="3" height="1" fill="#008000" />
<rect x="1195" y="559" width="3" height="1" fill="#008000" />
<rect x="1219" y="559" width="3" height="1" fill="#008000" />
<rect x="1243" y="559" width="3" height="1" fill="#008000" />
<rect x="1255" y="558" width="3" height="2" fill="#008000" />
<rect x="1261" y="559" width="3" height="1" fill="#008000" />
<rect x="1267" y="558" width="3" height="2" fill="#008000" />
<rect x="1273" y="540" width="3" height="20" fill="#008000" />
<rect x="1279" y="549" width="3" height="11" fill="#008000" />
<rect x="1285" y="558" width="3" height="2" fill="#008000" />
<rect x="1291" y="556" width="3" height="4" fill="#008000" />
<rect x="1297" y="558" width="3" height="2" fill="#008000" />
<rect x="1303" y="515" width="3" height="45" fill="#008000" />
<rect x="1309" y="541" width="3" height="19" fill="#008000" />
<rect x="1315" y="550" width="3" height="10" fill="#008000" />
<rect x="1321" y="552" width="3" height="8" fill="#008000" />
<rect x="1327" y="559" width="3" height="1" fill="#008000" />
<rect x="1333" y="557" width="3" height="3" fill="#008000" />
<rect x="1339" y="559" width="3" height="1" fill="#008000" />
<rect x="1345" y="548" width="3" height="12" fill="#008000" />
<rect x="1351" y="559" width="3" height="1" fill="#008000" />
<rect x="1357" y="543" width="3" height="17" fill="#008000" />
<rect x="1363" y="557" width="3" height="3" fill="#008000" />
<rect x="1369" y="559" width="3" height="1" fill="#008000" />
<rect x="1375" y="554" width="3" height="6" fill="#008000" />
<rect x="1381" y="555" width="3" height="5" fill="#008000" />
<rect x="1387" y="547" width="3" height="13" fill="#008000" />
<rect x="1393" y="555" width="3" height="5" fill="#008000" />
<rect x="1399" y="559" width="3" height="1" fill="#008000" />
<rect x="1405" y="558" width="3" height="2" fill="#008000" />
<rect x="1411" y="553" width="3" height="7" fill="#008000" />
<rect x="1417" y="525" width="3" height="35" fill="#008000" />
<rect x="1423" y="555" width="3" height="5" fill="#008000" />
<rect x="1429" y="558" width="3" height="2" fill="#008000" />
<rect x="1435" y="548" width="3" height="12" fill="#008000" />
<rect x="1441" y="558" width="3" height="2" fill="#008000" />
<rect x="1447" y="559" width="3" height="1" fill="#008000" />
<rect x="1453" y="557" width="3" height="3" fill="#008000" />
<rect x="1459" y="559" width="3" height="1" fill="#008000" />
<rect x="1465" y="559" width="3" height="1" fill="#008000" />
<rect x="1471" y="558" width="3" height="2" fill="#008000" />
<rect x="1477" y="558" width="3" height="2" fill="#008000" />
<rect x="1483" y="556" width="3" height="4" fill="#008000" />
<rect x="1501" y="559" width="3" height="1" fill="#008000" />
<rect x="1507" y="558" width="3" height="2" fill="#008000" />
<rect x="1519" y="558" width="3" height="2" fill="#008000" />
<rect x="1531" y="559" width="3" height="1" fill="#008000" />
<rect x="1549" y="559" width="3" height="1" fill="#008000" />
<rect x="1555" y="559" width="3" height="1" fill="#008000" />
<rect x="1561" y="559" width="3" height="1" fill="#008000" />
<rect x="1579" y="559" width="3" height="1" fill="#008000" />
<rect x="1591" y="559" width="3" height="1" fill="#008000" />
<rect x="944" y="620" width="1" height="2" fill="#ff0000" />
<rect x="950" y="620" width="1" height="2" fill="#ff0000" />
<rect x="956" y="620" width="1" height="2" fill="#ff0000" />
<rect x="962" y="620" width="1" height="3" fill="#ff0000" />
<rect x="968" y="620" width="1" height="3" fill="#ff0000" />
<rect x="974" y="620" width="1" height="4" fill="#ff0000" />
<rect x="980" y="620" width="1" height="6" fill="#ff0000" />
<rect x="986" y="620" width="1" height="9" fill="#ff0000" />
<rect x="992" y="620" width="1" height="10" fill="#ff0000" />
<rect x="998" y="620" width="1" height="9" fill="#ff0000" />
<rect x="1004" y="620" width="1" height="8" fill="#ff0000" />
<rect x="1010" y="620" width="1" height="3" fill="#ff0000" />
<rect x="1016" y="620" width="1" height="2" fill="#ff0000" />
<rect x="1022" y="619" width="1" height="2" fill="#ff0000" />
<rect x="1028" y="618" width="1" height="3" fill="#ff0000" />
<rect x="1034" y="617" width="1" height="4" fill="#ff0000" />
<rect x="1040" y="618" width="1" height="3" fill="#ff0000" />
<rect x="1046" y="620" width="1" height="2" fill="#ff0000" />
<rect x="1052" y="620" width="1" height="4" fill="#ff0000" />
<rect x="1058" y="620" width="1" height="8" fill="#ff0000" />
<rect x="1064" y="620" width="1" height="7" fill="#ff0000" />
<rect x="1070" y="620" width="1" height="7" fill="#ff0000" />
<rect x="1076" y="620" width="1" height="7" fill="#ff0000" />
<rect x="1082" y="620" width="1" height="7" fill="#ff0000" />
<rect x="1088" y="620" width="1" height="7" fill="#ff0000" />
<rect x="1094" y="620" width="1" height="8" fill="#ff0000" />
<rect x="1100" y="620" width="1" height="7" fill="#ff0000" />
<rect x="1106" y="620" width="1" height="6" fill="#ff0000" />
<rect x="1112" y="620" width="1" height="7" fill="#ff0000" />
<rect x="1118" y="620" width="1" height="6" fill="#ff0000" />
<rect x="1124" y="620" width="1" height="3" fill="#ff0000" />
<rect x="1130" y="620" width="1" height="2" fill="#ff0000" />
<rect x="1136" y="620" width="1" height="1" fill="#ff0000" />
<rect x="1142" y="620" width="1" height="1" fill="#ff0000" />
<rect x="1148" y="620" width="1" height="1" fill="#ff0000" />
<rect x="1154" y="618" width="1" height="3" fill="#ff0000" />
<rect x="1160" y="618" width="1" height="3" fill="#ff0000" />
<rect x="1166" y="616" width="1" height="5" fill="#ff0000" />
<rect x="1172" y="615" width="1" height="6" fill="#ff0000" />
<rect x="1178" y="614" width="1" height="7" fill="#ff0000" />
<rect x="1184" y="615" width="1" height="6" fill="#ff0000" />
<rect x="1190" y="615" width="1" height="6" fill="#ff0000" />
<rect x="1196" y="616" width="1" height="5" fill="#ff0000" />
<rect x="1202" y="616" width="1" height="5" fill="#ff0000" />
<rect x="1208" y="617" width="1" height="4" fill="#ff0000" />
<rect x="1214" y="620" width="1" height="1" fill="#ff0000" />
<rect x="1220" y="620" width="1" height="1" fill="#ff0000" />
<rect x="1226" y="619" width="1" height="2" fill="#ff0000" />
<rect x="1232" y="619" width="1" height="2" fill="#ff0000" />
<rect x="1238" y="620" width="1" height="1" fill="#ff0000" />
<rect x="1244" y="620" width="1" height="1" fill="#ff0000" />
<rect x="1250" y="620" width="1" height="1" fill="#ff0000" />
<rect x="1256" y="620" width="1" height="1" fill="#ff0000" />
<rect x="1262" y="620" width="1" height="1" fill="#ff0000" />
<rect x="1268" y="620" width="1" height="1" fill="#ff0000" />
<rect x="1274" y="620" width="1" height="7" fill="#ff0000" />
<rect x="1280" y="620" width="1" height="16" fill="#ff0000" />
<rect x="1286" y="620" width="1" height="21" fill="#ff0000" />
<rect x="1292" y="620" width="1" height="23" fill="#ff0000" />
<rect x="1298" y="620" width="1" height="23" fill="#ff0000" />
<rect x="1304" y="620" width="1" height="16" fill="#ff0000" />
<rect x="1310" y="620" width="1" height="13" fill="#ff0000" />
<rect x="1316" y="620" width="1" height="7" fill="#ff0000" />
<rect x="1322" y="620" width="1" height="5" fill="#ff0000" />
<rect x="1328" y="620" width="1" height="3" fill="#ff0000" />
<rect x="1334" y="620" width="1" height="2" fill="#ff0000" />
<rect x="1340" y="620" width="1" height="1" fill="#ff0000" />
<rect x="1346" y="620" width="1" height="1" fill="#ff0000" />
<rect x="1352" y="620" width="1" height="1" fill="#ff0000" />
<rect x="1358" y="620" width="1" height="1" fill="#ff0000" />
<rect x="1364" y="620" width="1" height="1" fill="#ff0000" />
<rect x="1370" y="620" width="1" height="1" fill="#ff0000" />
<rect x="1376" y="619" width="1" height="2" fill="#ff0000" />
<rect x="1382" y="618" width="1" height="3" fill="#ff0000" />
<rect x="1388" y="615" width="1" height="6" fill="#ff0000" />
<rect x="1394" y="616" width="1" height="5" fill="#ff0000" />
<rect x="1400" y="617" width="1" height="4" fill="#ff0000" />
<rect x="1406" y="617" width="1" height="4" fill="#ff0000" />
<rect x="1412" y="616" width="1" height="5" fill="#ff0000" />
<rect x="1418" y="614" width="1" height="7" fill="#ff0000" />
<rect x="1424" y="615" width="1" height="6" fill="#ff0000" />
<rect x="1430" y="617" width="1" height="4" fill="#ff0000" />
<rect x="1436" y="618" width="1" height="3" fill="#ff0000" />
<rect x="1442" y="620" width="1" height="1" fill="#ff0000" />
<rect x="1448" y="620" width="1" height="1" fill="#ff0000" />
<rect x="1454" y="620" width="1" height="2" fill="#ff0000" />
<rect x="1460" y="620" width="1" height="2" fill="#ff0000" />
<rect x="1466" y="620" width="1" height="1" fill="#ff0000" />
<rect x="1472" y="620" width="1" height="1" fill="#ff0000" />
<rect x="1478" y="620" width="1" height="3" fill="#ff0000" />
<rect x="1484" y="620" width="1" height="2" fill="#ff0000" />
<rect x="1490" y="620" width="1" height="2" fill="#ff0000" />
<rect x="1496" y="620" width="1" height="2" fill="#ff0000" />
<rect x="1502" y="620" width="1" height="1" fill="#ff0000" />
<rect x="1508" y="620" width="1" height="1" fill="#ff0000" />
<rect x="1514" y="620" width="1" height="1" fill="#ff0000" />
<rect x="1520" y="620" width="1" height="1" fill="#ff0000" />
<rect x="1526" y="620" width="1" height="1" fill="#ff0000" />
<rect x="1532" y="618" width="1" height="3" fill="#ff0000" />
<rect x="1538" y="617" width="1" height="4" fill="#ff0000" />
<rect x="1544" y="618" width="1" height="3" fill="#ff0000" />
<rect x="1550" y="618" width="1" height="3" fill="#ff0000" />
<rect x="1556" y="620" width="1" height="1" fill="#ff0000" />
<rect x="1562" y="620" width="1" height="1" fill="#ff0000" />
<rect x="1568" y="620" width="1" height="1" fill="#ff0000" />
<rect x="1574" y="620" width="1" height="1" fill="#ff0000" />
<rect x="1580" y="620" width="1" height="1" fill="#ff0000" />
<rect x="1586" y="619" width="1" height="2" fill="#ff0000" />
<rect x="1592" y="618" width="1" height="3" fill="#ff0000" />
<polyline points="943.7,653.7 975.6,642.3 1007.6,633.2 1044.1,623.4 1085.2,616.1 1124,609.2 1158.2,604.7 1203.9,600.6 1234.2,599 1270.8,595.5 1305,598.3 1359.8,601.9 1405.4,604.7 1451.1,606.9 1496.7,612 1531,614.9 1565.2,616.5 1592.6,617.9" fill="none" stroke="#ffb6c1" stroke-width="1" />
<polyline points="943.7,596.7 959.7,599.6 975.6,600.1 987.1,609.2 1003,617.2 1009.9,612.7 1021.3,606.5 1037.3,602.4 1044.1,604.7 1053.3,612.7 1066.9,618.4 1085.2,622.5 1103.5,626.3 1112.6,631.6 1124,629.8 1135.4,625.2 1153.7,622.9 1169.7,616.1 1181.1,611.5 1192.5,608.8 1200,606.9 1206.8,606.5 1213.7,608.8 1227.4,606.9 1236.5,606.5 1250.2,608.1 1268.5,606.5 1273,611.5 1282.2,629.8 1291.3,643.5 1298.8,653.3 1309.6,650.3 1327.8,644.6 1341.5,642.3 1352.9,640.7 1364.3,640.7 1378,635.5 1391.7,631.6 1405.4,627.9 1419.1,624.1 1430.5,623.4 1441.9,626.3 1457.9,629.8 1462.5,629.1 1478.5,633.2 1501.3,633.2 1519.5,631.4 1533.2,626.3 1546.9,624.8 1565.2,623.4 1588,621.1 1592.6,621.1" fill="none" stroke="#ffff00" stroke-width="1.2" />
<polyline points="943.7,595.5 959.7,596.7 975.6,599 991.6,604.7 1007.6,608.8 1016.7,609.2 1035,606.5 1048.7,606.9 1066.9,611.5 1085.2,616.1 1103.5,621.8 1124,626.8 1144.6,624.8 1162.8,621.8 1181.1,617.2 1199.3,613.3 1200,612.7 1222.8,609.7 1245.6,608.1 1268.5,606.9 1277.6,610.4 1286.7,618.4 1295.9,627.5 1305,634.3 1314.1,638.4 1327.8,641.2 1364.3,641.2 1378,638.9 1396.3,635.5 1414.6,631.6 1432.8,627.5 1455.6,627.5 1473.9,627.9 1485.3,630.5 1501.3,631.6 1524.1,631.4 1542.4,628.2 1565.2,626.3 1592.6,624.5" fill="none" stroke="#0000ff" stroke-width="1.2" />
<polyline points="943.7,714.6 952.8,712.8 964.2,716.2 974.5,719.6 980.2,724.2 986.6,733.3 991.6,736.7 998.5,731 1009.9,718.5 1021.3,710.5 1030.4,706.6 1037.3,704.8 1046.4,708.2 1053.3,717.3 1059,724.2 1065.8,729.9 1076.1,730.3 1081.8,731.7 1094.3,737.9 1105.7,740.2 1114.9,740.8 1122.9,735.6 1130.4,720.8 1136.6,710.5 1142.3,703.6 1153.7,702.5 1167.4,694.5 1178.8,688.3 1190.2,691.1 1201.6,692.2 1211.4,694.5 1220.1,699.1 1232,694.5 1238.3,691.1 1250.2,693.4 1262.8,699.1 1268.5,701.4 1274.6,708.9 1280.6,718.5 1286.7,731 1292.4,736.3 1298.6,737.9 1304.5,737.2 1310.5,733.3 1316.4,728.1 1322.6,725.3 1334.7,724.2 1346.5,723.5 1358.6,721.9 1370.5,717.3 1382.6,713.5 1388.5,709.3 1400.4,711.6 1412.5,708.9 1418.4,703.6 1424.4,699.1 1430.5,698.6 1436.5,702.5 1442.4,712.8 1448.6,725.3 1454.5,736.7 1460.4,740.2 1472.5,735.6 1478.5,737.9 1484.4,739 1496.5,736.7 1508.6,736.3 1514.5,734.9 1520.5,729.9 1526.4,723 1532.6,711.6 1538.5,701.4 1544.4,697.5 1550.6,698.6 1556.5,705.9 1562.5,710.5 1568.4,711.6 1574.3,708.9 1580.5,708.2 1586.4,704.8 1591.4,704.3" fill="none" stroke="#ff0000" stroke-width="1" />
<polyline points="943.7,711.6 951.7,712.8 959.7,718.5 968.8,722.4 974.5,719.2 980.2,732.2 986.6,742 992.8,731 998.5,722.4 1004.2,723.5 1009.9,713.9 1016.7,709.3 1022.4,707.1 1028.6,705.9 1034.5,702.5 1040.5,707.1 1047.5,716.2 1053.3,726.5 1059,731 1070.4,731 1076.1,729.4 1081.8,734.9 1088.6,738.6 1100,741.3 1105.7,740.2 1112.6,741.3 1118.3,736.7 1124,725.3 1130.4,705.9 1136.6,701.4 1142.3,703.6 1148,704.8 1154.4,695.6 1160.5,696.8 1167.4,691.1 1178.8,687 1184.5,689.9 1195.9,693.4 1200,689.9 1208,694.5 1214.2,702.5 1220.1,699.1 1226.2,693.4 1232,689.9 1238.3,687.2 1244.5,697.9 1250.2,691.8 1256.6,699.1 1262.8,703.2 1268.5,702.5 1274.6,720.8 1280.6,734 1286.7,737.2 1292.4,739 1298.6,742.4 1304.5,731 1310.5,727.6 1316.4,723.5 1322.6,724.6 1334.7,724.2 1340.4,722.6 1346.5,724.9 1352.5,723.5 1358.6,719.6 1364.3,718.5 1370.5,718 1376.4,710.5 1382.6,710 1388.5,705.9 1394.5,711.6 1400.4,715 1406.6,708.2 1412.5,705.5 1418.4,695.2 1424.4,699.1 1430.5,701.4 1436.5,709.3 1442.4,726.5 1448.6,737.9 1454.5,744 1460.4,739 1466.6,728.7 1472.5,737.9 1478.5,744 1484.4,734.5 1490.6,734.9 1496.5,736 1502.4,736.7 1508.6,735.6 1514.5,734.5 1520.5,720.8 1526.4,715 1532.6,701.4 1538.5,693.4 1544.4,699.1 1550.6,702.5 1556.5,716.2 1562.5,711.2 1568.4,709.8 1574.3,708.2 1580.5,707.1 1586.4,696.3 1591.4,705.9" fill="none" stroke="#0000ff" stroke-width="1" />
<rect x="1660" y="280" width="680" height="3" fill="#d8d8d8" />
<rect x="2339" y="280" width="1" height="518" fill="#d8d8d8" />
<line x1="1660" y1="301.5" x2="2295" y2="301.5" stroke="#c0c0c0" stroke-width="1" stroke-dasharray="3 3" shape-rendering="crispEdges"/>
<line x1="1660" y1="339.5" x2="2295" y2="339.5" stroke="#c0c0c0" stroke-width="1" stroke-dasharray="3 3" shape-rendering="crispEdges"/>
<line x1="1660" y1="377.5" x2="2295" y2="377.5" stroke="#c0c0c0" stroke-width="1" stroke-dasharray="3 3" shape-rendering="crispEdges"/>
<line x1="1660" y1="414.5" x2="2295" y2="414.5" stroke="#c0c0c0" stroke-width="1" stroke-dasharray="3 3" shape-rendering="crispEdges"/>
<line x1="1660" y1="452.5" x2="2295" y2="452.5" stroke="#c0c0c0" stroke-width="1" stroke-dasharray="3 3" shape-rendering="crispEdges"/>
<line x1="1660" y1="512.5" x2="2295" y2="512.5" stroke="#c0c0c0" stroke-width="1" stroke-dasharray="3 3" shape-rendering="crispEdges"/>
<line x1="1660" y1="550.5" x2="2295" y2="550.5" stroke="#c0c0c0" stroke-width="1" stroke-dasharray="3 3" shape-rendering="crispEdges"/>
<line x1="1660" y1="604.5" x2="2295" y2="604.5" stroke="#c0c0c0" stroke-width="1" stroke-dasharray="3 3" shape-rendering="crispEdges"/>
<line x1="1660" y1="643.5" x2="2295" y2="643.5" stroke="#c0c0c0" stroke-width="1" stroke-dasharray="3 3" shape-rendering="crispEdges"/>
<line x1="1660" y1="695.5" x2="2295" y2="695.5" stroke="#c0c0c0" stroke-width="1" stroke-dasharray="3 3" shape-rendering="crispEdges"/>
<line x1="1660" y1="734.5" x2="2295" y2="734.5" stroke="#c0c0c0" stroke-width="1" stroke-dasharray="3 3" shape-rendering="crispEdges"/>
<line x1="1672.5" y1="283" x2="1672.5" y2="768" stroke="#c0c0c0" stroke-width="1" stroke-dasharray="3 3" shape-rendering="crispEdges"/>
<line x1="1828.5" y1="283" x2="1828.5" y2="768" stroke="#c0c0c0" stroke-width="1" stroke-dasharray="3 3" shape-rendering="crispEdges"/>
<line x1="1984.5" y1="283" x2="1984.5" y2="768" stroke="#c0c0c0" stroke-width="1" stroke-dasharray="3 3" shape-rendering="crispEdges"/>
<line x1="2140.5" y1="283" x2="2140.5" y2="768" stroke="#c0c0c0" stroke-width="1" stroke-dasharray="3 3" shape-rendering="crispEdges"/>
<rect x="1660" y="571" width="631" height="1.3" fill="#000" />
<rect x="1660" y="634" width="631" height="1" fill="#808080" />
<rect x="1660" y="707" width="631" height="1" fill="#0000ff" />
<rect x="1660" y="743" width="631" height="1" fill="#ff0000" />
<rect x="2295" y="283" width="1" height="515" fill="#000" />
<rect x="1660" y="768" width="679" height="1" fill="#000" />
<rect x="2295" y="301" width="6" height="1" fill="#000" />
<rect x="2295" y="339" width="6" height="1" fill="#000" />
<rect x="2295" y="377" width="6" height="1" fill="#000" />
<rect x="2295" y="414" width="6" height="1" fill="#000" />
<rect x="2295" y="452" width="6" height="1" fill="#000" />
<rect x="2295" y="512" width="6" height="1" fill="#000" />
<rect x="2295" y="550" width="6" height="1" fill="#000" />
<rect x="2295" y="604" width="6" height="1" fill="#000" />
<rect x="2295" y="643" width="6" height="1" fill="#000" />
<rect x="2295" y="695" width="6" height="1" fill="#000" />
<rect x="2295" y="734" width="6" height="1" fill="#000" />
<rect x="1672" y="768" width="1" height="10" fill="#000" />
<rect x="1828" y="768" width="1" height="5" fill="#000" />
<rect x="1984" y="768" width="1" height="5" fill="#000" />
<rect x="2140" y="768" width="1" height="5" fill="#000" />
<text transform="scale(0.75,1)" x="3076 3084 3092 3100 3108 3116" y="307" font-size="12" fill="#000" stroke="#000" stroke-width=".35" text-anchor="middle">10,260</text>
<text transform="scale(0.75,1)" x="3076 3084 3092 3100 3108 3116" y="345" font-size="12" fill="#000" stroke="#000" stroke-width=".35" text-anchor="middle">10,175</text>
<text transform="scale(0.75,1)" x="3076 3084 3092 3100 3108 3116" y="383" font-size="12" fill="#000" stroke="#000" stroke-width=".35" text-anchor="middle">10,090</text>
<text transform="scale(0.75,1)" x="3076 3084 3092 3100 3108 3116" y="420" font-size="12" fill="#000" stroke="#000" stroke-width=".35" text-anchor="middle">10,010</text>
<text transform="scale(0.75,1)" x="3076 3084 3092 3100 3108" y="458" font-size="12" fill="#000" stroke="#000" stroke-width=".35" text-anchor="middle">9,925</text>
<text transform="scale(0.75,1)" x="3076 3084 3092 3100 3108 3116" y="518" font-size="12" fill="#000" stroke="#000" stroke-width=".35" text-anchor="middle">230.00</text>
<text transform="scale(0.75,1)" x="3076 3084 3092 3100 3108" y="556" font-size="12" fill="#000" stroke="#000" stroke-width=".35" text-anchor="middle">85.00</text>
<text transform="scale(0.75,1)" x="3076 3084 3092 3100 3108" y="610" font-size="12" fill="#000" stroke="#000" stroke-width=".35" text-anchor="middle">50.00</text>
<text transform="scale(0.75,1)" x="3076 3084 3092 3100 3108 3116" y="649" font-size="12" fill="#000" stroke="#000" stroke-width=".35" text-anchor="middle">-15.00</text>
<text transform="scale(0.75,1)" x="3076 3084 3092 3100 3108 3116" y="701" font-size="12" fill="#000" stroke="#000" stroke-width=".35" text-anchor="middle">100.00</text>
<text transform="scale(0.75,1)" x="3076 3084 3092 3100 3108" y="740" font-size="12" fill="#000" stroke="#000" stroke-width=".35" text-anchor="middle">35.00</text>
<text transform="scale(0.75,1)" x="2232 2240 2248" y="788" font-size="12" fill="#000" stroke="#000" stroke-width=".35" text-anchor="middle">Dec</text>
<text transform="scale(0.75,1)" x="2441.3 2449.3 2457.3 2465.3 2473.3" y="788" font-size="12" fill="#000" stroke="#000" stroke-width=".35" text-anchor="middle">12/02</text>
<text transform="scale(0.75,1)" x="2649.3 2657.3 2665.3 2673.3 2681.3" y="788" font-size="12" fill="#000" stroke="#000" stroke-width=".35" text-anchor="middle">12/03</text>
<text transform="scale(0.75,1)" x="2857.3 2865.3 2873.3 2881.3 2889.3" y="788" font-size="12" fill="#000" stroke="#000" stroke-width=".35" text-anchor="middle">12/06</text>
<clipPath id="cl1660"><rect x="1660" y="281" width="635" height="515"/></clipPath><g clip-path="url(#cl1660)">
<text class="cj" x="1663 1675 1687 1699 1711 1723 1735" y="296.7" font-size="12" fill="#000">日経２２５先物</text>
<text transform="scale(0.75,1)" x="2341.3 2349.3 2357.3 2365.3 2373.3 2381.3 2397.3 2405.3" y="296" font-size="12" fill="#000" stroke="#000" stroke-width=".35" text-anchor="middle">10/12(30</text>
<text class="cj" x="1807" y="296.7" font-size="12" fill="#000">分</text>
<text transform="scale(0.75,1)" x="2429.3 2445.3 2453.3 2461.3 2469.3 2477.3 2485.3 2493.3 2501.3 2509.3 2517.3 2533.3 2549.3 2557.3 2565.3 2573.3 2581.3 2589.3 2597.3 2605.3 2613.3 2621.3 2637.3" y="296" font-size="12" fill="#000" stroke="#000" stroke-width=".35" text-anchor="middle">,2010/11/26-2010/12/06)</text>
<text class="cj" x="2001.5 2013.5 2025.5 2037.5" y="296.7" font-size="12" fill="#000">移動平均</text>
<text transform="scale(0.75,1)" x="2736.7 2752.7 2760.7 2768.7 2776.7 2784.7 2792.7 2808.7 2816.7 2824.7 2840.7" y="296" font-size="12" fill="#000" stroke="#000" stroke-width=".35" text-anchor="middle">(Close,150)</text>
<text class="cj" x="2154 2166 2178 2190" y="296.7" font-size="12" fill="#000">移動平均</text>
<text transform="scale(0.75,1)" x="2940 2956 2964 2972 2980 2988 2996 3012 3020 3036" y="296" font-size="12" fill="#000" stroke="#000" stroke-width=".35" text-anchor="middle">(Close,20)</text>
<text class="cj" x="1663 1675 1687 1699 1711" y="310.7" font-size="12" fill="#000">一目均衡表</text>
<text transform="scale(0.75,1)" x="2301.3 2317.3 2325.3 2341.3 2349.3 2357.3 2373.3 2381.3 2397.3" y="310" font-size="12" fill="#000" stroke="#000" stroke-width=".35" text-anchor="middle">(9,26,52)</text>
<text class="cj" x="1821.5 1833.5 1845.5 1857.5" y="310.7" font-size="12" fill="#000">移動平均</text>
<text transform="scale(0.75,1)" x="2496.7 2512.7 2520.7 2528.7 2536.7 2544.7 2552.7 2568.7 2584.7" y="310" font-size="12" fill="#000" stroke="#000" stroke-width=".35" text-anchor="middle">(Close,5)</text>
<text class="cj" x="1962 1974 1986 1998" y="310.7" font-size="12" fill="#000">移動平均</text>
<text transform="scale(0.75,1)" x="2684 2700 2708 2716 2724 2732 2740 2756 2764 2780" y="310" font-size="12" fill="#000" stroke="#000" stroke-width=".35" text-anchor="middle">(Close,40)</text>
<text class="cj" x="2108.5 2120.5 2132.5 2144.5" y="310.7" font-size="12" fill="#000">移動平均</text>
<text transform="scale(0.75,1)" x="2879.3 2895.3 2903.3 2911.3 2919.3 2927.3 2935.3 2951.3 2959.3 2975.3" y="310" font-size="12" fill="#000" stroke="#000" stroke-width=".35" text-anchor="middle">(Close,25)</text>
<text class="cj" x="2255 2267 2279 2291" y="310.7" font-size="12" fill="#000">移動平均</text>
<text class="cj" x="1663 1675 1687" y="508.7" font-size="12" fill="#000">出来高</text>
<text class="cj" x="1663 1675 1687 1699" y="599.7" font-size="12" fill="#000">移動平均</text>
<text transform="scale(0.75,1)" x="2285.3 2301.3 2309.3 2317.3 2325.3 2333.3 2341.3 2357.3 2365.3 2381.3" y="599" font-size="12" fill="#000" stroke="#000" stroke-width=".35" text-anchor="middle">(Close,75)</text>
<text transform="scale(0.75,1)" x="2416.7 2424.7 2432.7 2440.7 2448.7 2464.7 2472.7 2480.7 2496.7 2504.7 2512.7 2528.7 2544.7" y="599" font-size="12" fill="#000" stroke="#000" stroke-width=".35" text-anchor="middle">MACD(12,26,9)</text>
<text class="cj" x="1663 1675 1687 1699 1711 1723 1735 1747 1759 1771 1783 1795 1807" y="690.7" font-size="12" fill="#000">スロー・ストキャスティクス</text>
<text transform="scale(0.75,1)" x="2429.3 2445.3 2453.3 2461.3 2477.3 2485.3 2501.3 2509.3 2517.3 2533.3 2541.3 2557.3" y="690" font-size="12" fill="#000" stroke="#000" stroke-width=".35" text-anchor="middle">(14,3,80,20)</text>
</g>
<rect x="2298.5" y="569.5" width="39" height="14" fill="#fff" stroke="#000" stroke-width="1"/>
<text class="cj" x="2306" y="581.2" font-size="12" fill="#000" text-anchor="middle">×</text>
<text transform="scale(0.75,1)" x="3094.7 3102.7 3110.7" y="580.5" font-size="12" fill="#000" stroke="#000" stroke-width=".35" text-anchor="middle">100</text>
<rect x="1726" y="399.5" width="1" height="5.7" fill="#0000ff" />
<rect x="1732" y="399.5" width="1" height="7.2" fill="#0000ff" />
<rect x="1738" y="399.5" width="1" height="10.5" fill="#0000ff" />
<rect x="1744" y="399.5" width="1" height="15.2" fill="#0000ff" />
<rect x="1750" y="399.5" width="1" height="18.6" fill="#0000ff" />
<rect x="1756" y="399.5" width="1" height="22.6" fill="#0000ff" />
<rect x="1762" y="399.5" width="1" height="23.7" fill="#0000ff" />
<rect x="1768" y="399.5" width="1" height="23.7" fill="#0000ff" />
<rect x="1774" y="399.5" width="1" height="23.7" fill="#0000ff" />
<rect x="1780" y="399.5" width="1" height="23.7" fill="#0000ff" />
<rect x="1786" y="399.5" width="1" height="22.6" fill="#0000ff" />
<rect x="1792" y="399.5" width="1" height="25.5" fill="#0000ff" />
<rect x="1798" y="406.5" width="1" height="25.3" fill="#0000ff" />
<rect x="1804" y="412.2" width="1" height="27.6" fill="#0000ff" />
<rect x="1810" y="415.4" width="1" height="26.6" fill="#0000ff" />
<rect x="1816" y="415.4" width="1" height="26.6" fill="#0000ff" />
<rect x="1822" y="415.4" width="1" height="25.6" fill="#0000ff" />
<rect x="1828" y="415.4" width="1" height="26.6" fill="#0000ff" />
<rect x="1834" y="415.4" width="1" height="27.8" fill="#0000ff" />
<rect x="1840" y="415.4" width="1" height="28.9" fill="#0000ff" />
<rect x="1846" y="415.4" width="1" height="34.6" fill="#0000ff" />
<rect x="1852" y="415.4" width="1" height="38.1" fill="#0000ff" />
<rect x="1858" y="415.4" width="1" height="39.2" fill="#0000ff" />
<rect x="1864" y="415.4" width="1" height="38.1" fill="#0000ff" />
<rect x="1870" y="415.4" width="1" height="31.8" fill="#0000ff" />
<rect x="1876" y="415.4" width="1" height="30.1" fill="#0000ff" />
<rect x="1882" y="415.4" width="1" height="26.1" fill="#0000ff" />
<rect x="1888" y="415.4" width="1" height="18.6" fill="#0000ff" />
<rect x="1894" y="417.4" width="1" height="12.6" fill="#0000ff" />
<rect x="1900" y="417.2" width="1" height="10.3" fill="#0000ff" />
<rect x="1906" y="417" width="1" height="10.5" fill="#0000ff" />
<rect x="1912" y="420.7" width="1" height="6.8" fill="#0000ff" />
<rect x="1918" y="425.5" width="1" height="2" fill="#0000ff" />
<rect x="1930" y="422.3" width="1" height="2.9" fill="#ff0000" />
<rect x="1936" y="417.3" width="1" height="7.9" fill="#ff0000" />
<rect x="1942" y="412.5" width="1" height="12.7" fill="#ff0000" />
<rect x="1948" y="411" width="1" height="14.2" fill="#ff0000" />
<rect x="1954" y="405.9" width="1" height="18.3" fill="#ff0000" />
<rect x="1960" y="405.7" width="1" height="16.6" fill="#ff0000" />
<rect x="1966" y="403.4" width="1" height="17" fill="#ff0000" />
<rect x="1972" y="391.3" width="1" height="20" fill="#ff0000" />
<rect x="1978" y="376.7" width="1" height="28.8" fill="#ff0000" />
<rect x="1984" y="376.2" width="1" height="29.2" fill="#ff0000" />
<rect x="1990" y="376.2" width="1" height="29.2" fill="#ff0000" />
<rect x="1996" y="375" width="1" height="30.4" fill="#ff0000" />
<rect x="2002" y="373.3" width="1" height="32.1" fill="#ff0000" />
<rect x="2008" y="372.2" width="1" height="33.2" fill="#ff0000" />
<rect x="2014" y="369.3" width="1" height="36.1" fill="#ff0000" />
<rect x="2020" y="369.3" width="1" height="36.1" fill="#ff0000" />
<rect x="2026" y="364.8" width="1" height="40.6" fill="#ff0000" />
<rect x="2032" y="358.5" width="1" height="46.9" fill="#ff0000" />
<rect x="2038" y="355.1" width="1" height="50.3" fill="#ff0000" />
<rect x="2044" y="354.5" width="1" height="50.9" fill="#ff0000" />
<rect x="2050" y="354.5" width="1" height="50.9" fill="#ff0000" />
<rect x="2056" y="354.5" width="1" height="50.9" fill="#ff0000" />
<rect x="2062" y="354.5" width="1" height="50.9" fill="#ff0000" />
<rect x="2068" y="343.1" width="1" height="53.2" fill="#ff0000" />
<rect x="2074" y="340.8" width="1" height="55.5" fill="#ff0000" />
<rect x="2080" y="340.6" width="1" height="55.7" fill="#ff0000" />
<rect x="2086" y="340.4" width="1" height="55.9" fill="#ff0000" />
<rect x="2092" y="340.2" width="1" height="56.1" fill="#ff0000" />
<rect x="2098" y="338.5" width="1" height="57.8" fill="#ff0000" />
<rect x="2104" y="336.8" width="1" height="59.5" fill="#ff0000" />
<rect x="2110" y="335.1" width="1" height="61.2" fill="#ff0000" />
<rect x="2116" y="333.4" width="1" height="62.9" fill="#ff0000" />
<rect x="2122" y="330.5" width="1" height="62.4" fill="#ff0000" />
<rect x="2128" y="330.5" width="1" height="52.1" fill="#ff0000" />
<rect x="2134" y="324.3" width="1" height="53.2" fill="#ff0000" />
<rect x="2140" y="324.3" width="1" height="53.2" fill="#ff0000" />
<rect x="2146" y="324.3" width="1" height="53.2" fill="#ff0000" />
<rect x="2152" y="324.3" width="1" height="53.2" fill="#ff0000" />
<rect x="2158" y="324.3" width="1" height="53.2" fill="#ff0000" />
<rect x="2164" y="324.3" width="1" height="51.5" fill="#ff0000" />
<rect x="2170" y="324.3" width="1" height="50.9" fill="#ff0000" />
<rect x="2176" y="323.1" width="1" height="51.5" fill="#ff0000" />
<rect x="2182" y="323.1" width="1" height="48.1" fill="#ff0000" />
<rect x="2188" y="328.8" width="1" height="35.5" fill="#ff0000" />
<rect x="2194" y="329.4" width="1" height="28.1" fill="#ff0000" />
<rect x="2200" y="330.5" width="1" height="24.7" fill="#ff0000" />
<rect x="2206" y="332.2" width="1" height="23" fill="#ff0000" />
<rect x="2212" y="332.2" width="1" height="23" fill="#ff0000" />
<rect x="2218" y="330.5" width="1" height="24.7" fill="#ff0000" />
<rect x="2224" y="330" width="1" height="25.2" fill="#ff0000" />
<rect x="2230" y="330" width="1" height="25.2" fill="#ff0000" />
<rect x="2236" y="330" width="1" height="25.2" fill="#ff0000" />
<rect x="2242" y="328.3" width="1" height="25.8" fill="#ff0000" />
<rect x="2248" y="326.5" width="1" height="21.9" fill="#ff0000" />
<rect x="2254" y="326" width="1" height="16.7" fill="#ff0000" />
<rect x="2260" y="323.1" width="1" height="16.1" fill="#ff0000" />
<rect x="2266" y="322" width="1" height="17.2" fill="#ff0000" />
<polyline points="1725.5,405 1735,407.3 1744.5,414.7 1750.5,418.1 1756.5,422.1 1762.5,423.2 1780.5,423.2 1786.5,422.1 1792.5,425 1798.5,431.8 1804.5,439.8 1810.5,442 1816.5,442 1822.5,441 1828.5,442 1834.5,443.2 1840.5,444.3 1846.5,450 1852.5,453.5 1858.5,454.6 1864.5,453.5 1870.5,447.2 1876.5,445.5 1882.5,441.5 1888.5,434 1894.5,430 1900,427.5 1919.3,427.5 1928.5,423 1942.2,411.5 1946.7,411.5 1954.7,404.7 1965,404.7 1969.6,397.8 1974,386.4 1978.7,375.2 1990.5,375.2 1996.5,374 2002.5,372.3 2008.5,371.2 2014.5,368.3 2020.5,368.3 2026.5,363.8 2032.5,357.5 2038.5,354.1 2044.5,353.5 2062.5,353.5 2068.5,342.1 2074.5,339.8 2092.5,339.2 2098.5,337.5 2104.5,335.8 2110.5,334.1 2116.5,332.4 2122.5,329.5 2128.5,329.5 2134.5,323.3 2170.5,323.3 2176.5,322.1 2182.5,322.1 2188.5,327.8 2194.5,328.4 2200.5,329.5 2206.5,331.2 2212.5,331.2 2218.5,329.5 2224.5,329 2236.5,329 2242.5,327.3 2248.5,325.5 2254.5,325 2260.5,322.1 2266.5,321 2272.5,337 2295,339.2" fill="none" stroke="#00ffff" stroke-width="1" shape-rendering="crispEdges"/>
<polyline points="1725.5,398.5 1792.5,398.5 1798.5,405.5 1804.5,411.2 1810.5,414.4 1888.5,414.4 1894.5,416.4 1908,416 1919.3,425.2 1951.3,425.2 1969.6,419.5 1974,407 1978.7,405.4 2062.5,405.4 2068.5,396.3 2116.5,396.3 2122.5,392.9 2128.5,382.6 2134.5,377.5 2158.5,377.5 2164.5,375.8 2176.5,374.6 2182.5,371.2 2188.5,364.3 2194.5,357.5 2200.5,355.2 2236.5,355.2 2242.5,354.1 2248.5,348.4 2254.5,342.7 2260.5,339.2 2266.5,339.2 2272.5,337.5 2295,337.5" fill="none" stroke="#ff0000" stroke-width="1" shape-rendering="crispEdges"/>
<polyline points="2163.9,378.6 2191.3,376.3 2214,374 2237,372.9 2259.8,371.8 2282.6,370.6 2290,370.3" fill="none" stroke="#ffff00" stroke-width="1.2" />
<polyline points="1714.3,408.4 1752,409 1769,408.4 1792,406 1826,405 1860.4,403.3 1880,402.6 1908.5,400.9 1937,396.9 1971.3,392.9 1994,390 2028.4,382.6 2062.6,374.6 2096.8,365.5 2122.8,357.5 2145.6,351.8 2168.5,347.2 2191.3,343.8 2214,343.2 2248.4,344.4 2290.5,346" fill="none" stroke="#4b0082" stroke-width="1" />
<polyline points="1660.5,408.4 1672.5,413.5 1689.2,420.4 1706.4,426 1723.5,430 1740.6,431.8 1757.7,433 1774.8,432.4 1792,430.6 1809,426 1826.2,420.4 1843.3,413.5 1860.4,406 1880,399.7 1902.8,388.3 1925.6,375.8 1948.5,363.2 1965.6,356.4 1982.7,350.6 2005.5,343.8 2028.4,338.7 2051.2,335.2 2085.4,331.2 2108.2,329 2134,329.5 2168.5,331.2 2202.7,334.1 2237,338.1 2271.2,340.4 2290.5,341.5" fill="none" stroke="#30d0d0" stroke-width="1" />
<polyline points="1660.5,431.2 1668.7,436.4 1678.5,438.6 1690.5,443.8 1702.5,446.6 1714.5,447.8 1732.5,447.2 1746.3,443.2 1757.7,438.6 1774.8,434 1792.5,427.8 1804.5,420.4 1816.5,412.4 1828.5,403.8 1840.5,394 1852.5,386 1866,375.8 1880,368.3 1902.8,359.8 1925.6,350.6 1948.5,342.7 1971.3,335.8 1994,332.4 2017,330.7 2051.2,329.5 2085.4,328.4 2110,327.5 2134.2,331.2 2168.5,334.7 2202.7,338.1 2237,343.8 2271.2,348.4 2290.5,349" fill="none" stroke="#006400" stroke-width="1" />
<polyline points="1660.5,443.2 1666.5,446.6 1678.5,447.2 1690.5,450 1708.5,451.2 1723.5,449.5 1735,446.6 1752,441 1769,433 1780.5,426 1792.5,418 1804.5,409.5 1816.5,402 1828.5,393 1837.6,386 1849,375.8 1871.8,363.2 1880,361 1902.8,350.6 1925.6,341.5 1948.5,335.2 1971.3,332.4 1994,329.5 2028.4,329 2062.6,329 2096.8,327.8 2122.8,329.5 2145.6,333.5 2180,337 2214,342.7 2248.4,347.2 2290.5,349" fill="none" stroke="#ff6600" stroke-width="1" />
<polyline points="1660.5,459.8 1666.5,459.2 1672.5,457.5 1708.5,457.5 1714.5,454.6 1720.5,440.9 1726.5,439.8 1732.5,434 1738.5,428.4 1744.5,423.2 1750.5,422.7 1756.5,421 1768.5,421 1774.5,417 1780.5,407.8 1786.5,398.7 1792.5,393.6 1798.5,393 1804.5,386.7 1810.5,386 1816.5,382.6 1822.5,375.8 1822.6,366.6 1828.5,359.8 1834.5,359.2 1840.5,358.6 1846.5,357 1852.5,354 1858.5,353 1864.5,348.4 1870.5,347.8 1876.5,341.5 1882.5,339.2 1894.5,338.7 1912.5,338.7 1918.5,329 1948.5,329 1954.5,326.1 1966.5,325.5 1972.5,331.2 1978.5,333 1984.5,327.8 1990.5,326.1 1996.5,324.4 2014.5,324.4 2020.5,322.1 2032.5,321.5 2038.5,326.1 2044.5,331.2 2050.5,333 2056.5,338.1 2062.5,337.5 2068.5,334.7 2074.5,332.4 2086.5,332.4 2092.5,327.8 2098.5,326.1 2104.5,323.3 2110.5,318.7 2116.5,318.1 2120,325.5 2122.5,338.7 2134.5,339.2 2164.5,339.8 2170.5,342.7 2176.5,348.9 2182.5,350.1 2188.5,345 2194.5,345.5 2212.5,346.1 2218.5,346.7 2224.5,347.8 2254.5,347.8 2260.5,348.9 2266.5,351.8 2272.5,352.9 2290.5,353.5" fill="none" stroke="#ff0000" stroke-width="3" stroke-linejoin="round"/>
<polyline points="1660.5,364.3 1666.5,368.3 1672.5,367.8 1678.5,341.5 1684.5,337.5 1690.5,337.5 1696.5,337.5 1702.5,341.5 1708.5,341.5 1714.5,337.5 1720.5,341.5 1726.5,341.5 1732.5,337.5 1738.5,345.5 1744.5,341.5 1750.5,341.5 1756.5,341.5 1762.5,337.5 1768.5,319.8 1774.5,323.8 1780.5,328.4 1786.5,328.4 1792.5,323.3 1798.5,323.3 1804.5,323.3 1810.5,323.3 1816.5,340.4 1822.5,333 1828.5,334.7 1834.5,315.3 1840.5,314.1 1846.5,319.8 1852.5,337.5 1858.5,337.5 1864.5,333 1870.5,337.5 1876.5,337.5 1882.5,337.5 1888.5,337.5 1894.5,332.4 1900.5,328.4 1906.5,333 1912.5,328.4 1918.5,319.3 1924.5,319.3 1930.5,319.3 1936.5,319.3 1942.5,319.3 1948.5,315.3 1954.5,319.3 1960.5,314.7 1966.5,311.3 1972.5,367.8 1978.5,364.3 1984.5,368.3 1990.5,346.1 1996.5,346.1 2002.5,346.1 2008.5,350.1 2014.5,346.1 2020.5,350.1 2026.5,341.5 2032.5,341.5 2038.5,345.5 2044.5,341.5 2050.5,337.5 2056.5,341.5 2062.5,350.1 2068.5,355.2 2074.5,346.7 2080.5,359.2 2086.5,355.2 2092.5,355.2 2098.5,355.2 2104.5,350.6 2110.5,346.1 2116.5,350.6 2122.5,350.6 2128.5,350.6 2134.5,346.1 2140.5,350.6" fill="none" stroke="#008000" stroke-width="3" stroke-linejoin="round"/>
<polyline points="1660.5,462.6 1666.5,469.5 1678.5,462.6 1690.5,451.2 1696.5,445.1 1702.5,447.7 1708.5,447.7 1714.5,445 1720.5,442.4 1726.5,438.4 1732.5,432.9 1738.5,424.9 1744.5,415.9 1750.5,409.5 1756.5,405.2 1762.5,401.6 1768.5,399.8 1774.5,398.8 1780.5,395.9 1786.5,392.1 1792.5,388.6 1798.5,384.8 1804.5,381.1 1810.5,376.8 1816.5,373.1 1822.5,370.2 1828.5,363 1834.5,355.9 1840.5,350.5 1846.5,344.4 1852.5,339.1 1858.5,339.1 1864.5,339.1 1870.5,339.9 1876.5,340.7 1882.5,339.9 1888.5,340.7 1894.5,341.5 1900.5,341.5 1906.5,341.5 1912.5,341.5 1918.5,336.4 1924.5,332.8 1930.5,330.2 1936.5,327.6 1942.5,324.8 1948.5,325.5 1954.5,325.4 1960.5,324.4 1966.5,326.8 1972.5,328.7 1978.5,331 1984.5,329.4 1990.5,327.5 1996.5,323.4 2002.5,324.3 2008.5,324.9 2014.5,328.4 2020.5,333.1 2026.5,336.6 2032.5,336.6 2038.5,336.6 2044.5,336.5 2050.5,334.7 2056.5,333.8 2062.5,331.9 2068.5,328.3 2074.5,325.7 2080.5,323.9 2086.5,321.1 2092.5,319.3 2098.5,318.5 2104.5,318.5 2110.5,317.6 2116.5,316 2122.5,325.7 2128.5,335.5 2134.5,345.3 2140.5,351.6 2146.5,358.5 2152.5,354.2 2158.5,351.4 2164.5,346.9 2170.5,347.7 2176.5,346.8 2182.5,345.9 2188.5,344.9 2194.5,344 2200.5,341.5 2206.5,341.5 2212.5,343.2 2218.5,345.2 2224.5,346.2 2230.5,350.5 2236.5,353.3 2242.5,354.3 2248.5,354.3 2254.5,355.1 2260.5,352.5 2266.5,351.6 2272.5,350.6 2278.5,349.7 2284.5,348.8 2290.5,349.7" fill="none" stroke="#ff0000" stroke-width="1" />
<rect x="1660" y="472.3" width="1" height="10.8" fill="#0000ff" />
<rect x="1659" y="472.3" width="3" height="10.8" fill="#0000ff" />
<rect x="1665" y="476.8" width="3" height="1" fill="#ff0000" />
<rect x="1672" y="432.4" width="1" height="22.7" fill="#ff0000" />
<rect x="1671" y="432.4" width="3" height="9.6" fill="#ff0000" />
<rect x="1678" y="432.4" width="1" height="18.7" fill="#0000ff" />
<rect x="1677" y="432.4" width="3" height="14.1" fill="#0000ff" />
<rect x="1684" y="432.4" width="1" height="22.7" fill="#0000ff" />
<rect x="1683" y="441.5" width="3" height="13.6" fill="#0000ff" />
<rect x="1690" y="441.5" width="1" height="13.6" fill="#ff0000" />
<rect x="1689" y="445.5" width="3" height="9.6" fill="#ff0000" />
<rect x="1695" y="446.6" width="3" height="1" fill="#ff0000" />
<rect x="1702" y="441.5" width="1" height="13.6" fill="#ff0000" />
<rect x="1701" y="445.5" width="3" height="5.6" fill="#ff0000" />
<rect x="1708" y="436.4" width="1" height="14.7" fill="#0000ff" />
<rect x="1707" y="445.1" width="3" height="1" fill="#0000ff" />
<rect x="1714" y="436.4" width="1" height="14.7" fill="#ff0000" />
<rect x="1713" y="441.5" width="3" height="4.5" fill="#ff0000" />
<rect x="1720" y="427.8" width="1" height="23.3" fill="#ff0000" />
<rect x="1719" y="432.4" width="3" height="14.1" fill="#ff0000" />
<rect x="1726" y="423.2" width="1" height="14.8" fill="#ff0000" />
<rect x="1725" y="427.2" width="3" height="5.7" fill="#ff0000" />
<rect x="1732" y="414.1" width="1" height="14.2" fill="#ff0000" />
<rect x="1731" y="418" width="3" height="5.7" fill="#ff0000" />
<rect x="1738" y="400.4" width="1" height="14.8" fill="#ff0000" />
<rect x="1737" y="405.5" width="3" height="4.5" fill="#ff0000" />
<rect x="1744" y="391.3" width="1" height="18.2" fill="#ff0000" />
<rect x="1743" y="396.4" width="3" height="9.6" fill="#ff0000" />
<rect x="1750" y="391.3" width="1" height="23.9" fill="#0000ff" />
<rect x="1749" y="396.4" width="3" height="4.5" fill="#0000ff" />
<rect x="1756" y="396.4" width="1" height="26.8" fill="#0000ff" />
<rect x="1755" y="400.4" width="3" height="5.6" fill="#0000ff" />
<rect x="1762" y="396.4" width="1" height="13.6" fill="#ff0000" />
<rect x="1761" y="399.9" width="3" height="1" fill="#ff0000" />
<rect x="1768" y="396.4" width="1" height="9.6" fill="#ff0000" />
<rect x="1767" y="396.4" width="3" height="4.5" fill="#ff0000" />
<rect x="1774" y="391.3" width="1" height="5.6" fill="#ff0000" />
<rect x="1773" y="391.3" width="3" height="5.6" fill="#ff0000" />
<rect x="1780" y="386" width="1" height="5.8" fill="#ff0000" />
<rect x="1779" y="386" width="3" height="5.8" fill="#ff0000" />
<rect x="1786" y="382.6" width="1" height="4.5" fill="#0000ff" />
<rect x="1785" y="382.6" width="3" height="4.5" fill="#0000ff" />
<rect x="1792" y="377.5" width="1" height="17" fill="#ff0000" />
<rect x="1791" y="382.6" width="3" height="4.5" fill="#ff0000" />
<rect x="1798" y="377.5" width="1" height="9.6" fill="#ff0000" />
<rect x="1797" y="377.5" width="3" height="5.6" fill="#ff0000" />
<rect x="1804" y="364.3" width="1" height="13.7" fill="#ff0000" />
<rect x="1803" y="372.9" width="3" height="5.1" fill="#ff0000" />
<rect x="1810" y="364.3" width="1" height="14.2" fill="#ff0000" />
<rect x="1809" y="364.3" width="3" height="9.1" fill="#ff0000" />
<rect x="1816" y="359.2" width="1" height="9.6" fill="#0000ff" />
<rect x="1815" y="364.3" width="3" height="4.5" fill="#0000ff" />
<rect x="1821" y="367.3" width="3" height="1" fill="#ff0000" />
<rect x="1828" y="327.8" width="1" height="29.1" fill="#0000ff" />
<rect x="1827" y="341.1" width="3" height="1" fill="#0000ff" />
<rect x="1834" y="332.4" width="1" height="14.8" fill="#ff0000" />
<rect x="1833" y="337.5" width="3" height="4.5" fill="#ff0000" />
<rect x="1840" y="328.4" width="1" height="13.6" fill="#0000ff" />
<rect x="1839" y="337.1" width="3" height="1" fill="#0000ff" />
<rect x="1846" y="332.4" width="1" height="9.6" fill="#0000ff" />
<rect x="1845" y="337.1" width="3" height="1" fill="#0000ff" />
<rect x="1852" y="337.5" width="1" height="4.5" fill="#0000ff" />
<rect x="1851" y="337.5" width="3" height="4.5" fill="#0000ff" />
<rect x="1858" y="328.4" width="1" height="13.7" fill="#0000ff" />
<rect x="1857" y="341.1" width="3" height="1" fill="#0000ff" />
<rect x="1864" y="337.5" width="1" height="9.7" fill="#ff0000" />
<rect x="1863" y="337.5" width="3" height="4.5" fill="#ff0000" />
<rect x="1870" y="337.5" width="1" height="9.7" fill="#0000ff" />
<rect x="1869" y="337.5" width="3" height="4.5" fill="#0000ff" />
<rect x="1876" y="337.5" width="1" height="9.7" fill="#0000ff" />
<rect x="1875" y="341.1" width="3" height="1" fill="#0000ff" />
<rect x="1882" y="332.4" width="1" height="14.8" fill="#ff0000" />
<rect x="1881" y="337.5" width="3" height="4.5" fill="#ff0000" />
<rect x="1888" y="337.5" width="1" height="8.5" fill="#0000ff" />
<rect x="1887" y="337.5" width="3" height="8.5" fill="#0000ff" />
<rect x="1894" y="341.5" width="1" height="4.5" fill="#ff0000" />
<rect x="1893" y="341.5" width="3" height="4.5" fill="#ff0000" />
<rect x="1900" y="337.5" width="1" height="9.7" fill="#0000ff" />
<rect x="1899" y="341.1" width="3" height="1" fill="#0000ff" />
<rect x="1906" y="341.5" width="1" height="5.7" fill="#0000ff" />
<rect x="1905" y="341.1" width="3" height="1" fill="#0000ff" />
<rect x="1912" y="337.5" width="1" height="4.5" fill="#ff0000" />
<rect x="1911" y="337.5" width="3" height="4.5" fill="#ff0000" />
<rect x="1918" y="310.1" width="1" height="29.1" fill="#ff0000" />
<rect x="1917" y="319.8" width="3" height="19.4" fill="#ff0000" />
<rect x="1924" y="314.1" width="1" height="15.4" fill="#0000ff" />
<rect x="1923" y="319.8" width="3" height="4.5" fill="#0000ff" />
<rect x="1930" y="319.3" width="1" height="9.6" fill="#0000ff" />
<rect x="1929" y="323.8" width="3" height="5.1" fill="#0000ff" />
<rect x="1936" y="323.3" width="1" height="10.2" fill="#0000ff" />
<rect x="1935" y="327.9" width="3" height="1" fill="#0000ff" />
<rect x="1942" y="323.3" width="1" height="5.6" fill="#ff0000" />
<rect x="1941" y="323.3" width="3" height="5.6" fill="#ff0000" />
<rect x="1948" y="323.3" width="1" height="5.6" fill="#0000ff" />
<rect x="1947" y="322.9" width="3" height="1" fill="#0000ff" />
<rect x="1954" y="323.3" width="1" height="5.6" fill="#0000ff" />
<rect x="1953" y="322.9" width="3" height="1" fill="#0000ff" />
<rect x="1960" y="323.3" width="1" height="5.6" fill="#0000ff" />
<rect x="1959" y="322.9" width="3" height="1" fill="#0000ff" />
<rect x="1966" y="323.3" width="1" height="17.6" fill="#0000ff" />
<rect x="1965" y="323.3" width="3" height="17.6" fill="#0000ff" />
<rect x="1972" y="331.2" width="1" height="16" fill="#ff0000" />
<rect x="1971" y="333" width="3" height="7.9" fill="#ff0000" />
<rect x="1978" y="333" width="1" height="2.2" fill="#0000ff" />
<rect x="1977" y="334.2" width="3" height="1" fill="#0000ff" />
<rect x="1984" y="310.1" width="1" height="10.2" fill="#0000ff" />
<rect x="1983" y="310.1" width="3" height="5.7" fill="#0000ff" />
<rect x="1990" y="306.1" width="1" height="14.2" fill="#ff0000" />
<rect x="1989" y="313.6" width="3" height="1" fill="#ff0000" />
<rect x="1996" y="310.1" width="1" height="12.5" fill="#0000ff" />
<rect x="1995" y="314.1" width="3" height="6.2" fill="#0000ff" />
<rect x="2002" y="314.1" width="1" height="23.9" fill="#0000ff" />
<rect x="2001" y="319.3" width="3" height="18.7" fill="#0000ff" />
<rect x="2007" y="337.1" width="3" height="1" fill="#0000ff" />
<rect x="2014" y="328.4" width="1" height="13.6" fill="#ff0000" />
<rect x="2013" y="333" width="3" height="5" fill="#ff0000" />
<rect x="2020" y="328.4" width="1" height="9.6" fill="#0000ff" />
<rect x="2019" y="333" width="3" height="5" fill="#0000ff" />
<rect x="2026" y="332.4" width="1" height="9.6" fill="#0000ff" />
<rect x="2025" y="337.1" width="3" height="1" fill="#0000ff" />
<rect x="2032" y="331.2" width="1" height="10.8" fill="#0000ff" />
<rect x="2031" y="337.1" width="3" height="1" fill="#0000ff" />
<rect x="2038" y="337.5" width="1" height="13.6" fill="#0000ff" />
<rect x="2037" y="337.1" width="3" height="1" fill="#0000ff" />
<rect x="2044" y="332.4" width="1" height="9.6" fill="#ff0000" />
<rect x="2043" y="332.4" width="3" height="5.6" fill="#ff0000" />
<rect x="2050" y="323.3" width="1" height="15.3" fill="#ff0000" />
<rect x="2049" y="328.4" width="3" height="4.5" fill="#ff0000" />
<rect x="2056" y="323.3" width="1" height="15.3" fill="#0000ff" />
<rect x="2055" y="328.4" width="3" height="5.1" fill="#0000ff" />
<rect x="2062" y="323.3" width="1" height="10.2" fill="#ff0000" />
<rect x="2061" y="328.4" width="3" height="5.1" fill="#ff0000" />
<rect x="2068" y="319.3" width="1" height="9.6" fill="#ff0000" />
<rect x="2067" y="319.3" width="3" height="9.6" fill="#ff0000" />
<rect x="2074" y="314.1" width="1" height="10.2" fill="#0000ff" />
<rect x="2073" y="318.9" width="3" height="1" fill="#0000ff" />
<rect x="2080" y="319.3" width="1" height="5" fill="#0000ff" />
<rect x="2079" y="318.9" width="3" height="1" fill="#0000ff" />
<rect x="2086" y="314.1" width="1" height="6.2" fill="#0000ff" />
<rect x="2085" y="318.9" width="3" height="1" fill="#0000ff" />
<rect x="2092" y="319.3" width="1" height="5" fill="#0000ff" />
<rect x="2091" y="318.9" width="3" height="1" fill="#0000ff" />
<rect x="2098" y="315.3" width="1" height="4.5" fill="#ff0000" />
<rect x="2097" y="315.3" width="3" height="4.5" fill="#ff0000" />
<rect x="2104" y="315.3" width="1" height="4.5" fill="#0000ff" />
<rect x="2103" y="315.3" width="3" height="4.5" fill="#0000ff" />
<rect x="2110" y="310.1" width="1" height="9.7" fill="#ff0000" />
<rect x="2109" y="314.7" width="3" height="5.1" fill="#ff0000" />
<rect x="2116" y="311.3" width="1" height="3.9" fill="#ff0000" />
<rect x="2115" y="311.3" width="3" height="3.9" fill="#ff0000" />
<rect x="2122" y="311.3" width="1" height="63.2" fill="#0000ff" />
<rect x="2121" y="311.3" width="3" height="57" fill="#0000ff" />
<rect x="2128" y="364.3" width="1" height="4" fill="#ff0000" />
<rect x="2127" y="364.3" width="3" height="4" fill="#ff0000" />
<rect x="2134" y="364.3" width="1" height="4.5" fill="#0000ff" />
<rect x="2133" y="364.3" width="3" height="4.5" fill="#0000ff" />
<rect x="2140" y="332.4" width="1" height="18.7" fill="#0000ff" />
<rect x="2139" y="339.2" width="3" height="7.4" fill="#0000ff" />
<rect x="2146" y="346.1" width="1" height="12.4" fill="#0000ff" />
<rect x="2145" y="345.7" width="3" height="1" fill="#0000ff" />
<rect x="2152" y="341.5" width="1" height="5.2" fill="#0000ff" />
<rect x="2151" y="345.7" width="3" height="1" fill="#0000ff" />
<rect x="2158" y="341.5" width="1" height="14.8" fill="#0000ff" />
<rect x="2157" y="346.1" width="3" height="4.5" fill="#0000ff" />
<rect x="2164" y="346.1" width="1" height="4.5" fill="#ff0000" />
<rect x="2163" y="346.1" width="3" height="4.5" fill="#ff0000" />
<rect x="2170" y="346.1" width="1" height="10.2" fill="#0000ff" />
<rect x="2169" y="346.1" width="3" height="4.5" fill="#0000ff" />
<rect x="2176" y="341.5" width="1" height="9.1" fill="#ff0000" />
<rect x="2175" y="341.5" width="3" height="9.1" fill="#ff0000" />
<rect x="2182" y="337.5" width="1" height="13.6" fill="#0000ff" />
<rect x="2181" y="341.1" width="3" height="1" fill="#0000ff" />
<rect x="2188" y="341.5" width="1" height="4.5" fill="#0000ff" />
<rect x="2187" y="341.5" width="3" height="4.5" fill="#0000ff" />
<rect x="2194" y="341.5" width="1" height="4.5" fill="#ff0000" />
<rect x="2193" y="341.5" width="3" height="4.5" fill="#ff0000" />
<rect x="2200" y="337.5" width="1" height="4.5" fill="#ff0000" />
<rect x="2199" y="337.5" width="3" height="4.5" fill="#ff0000" />
<rect x="2206" y="337.5" width="1" height="4.5" fill="#0000ff" />
<rect x="2205" y="337.5" width="3" height="4.5" fill="#0000ff" />
<rect x="2212" y="341.5" width="1" height="9.1" fill="#0000ff" />
<rect x="2211" y="341.5" width="3" height="9.1" fill="#0000ff" />
<rect x="2218" y="346.1" width="1" height="9.6" fill="#0000ff" />
<rect x="2217" y="350.1" width="3" height="5.6" fill="#0000ff" />
<rect x="2224" y="346.7" width="1" height="9" fill="#ff0000" />
<rect x="2223" y="346.7" width="3" height="9" fill="#ff0000" />
<rect x="2230" y="346.7" width="1" height="13.6" fill="#0000ff" />
<rect x="2229" y="346.7" width="3" height="13" fill="#0000ff" />
<rect x="2236" y="355.2" width="1" height="4.5" fill="#ff0000" />
<rect x="2235" y="355.2" width="3" height="4.5" fill="#ff0000" />
<rect x="2242" y="350.6" width="1" height="9.7" fill="#0000ff" />
<rect x="2241" y="354.8" width="3" height="1" fill="#0000ff" />
<rect x="2247" y="354.8" width="3" height="1" fill="#0000ff" />
<rect x="2254" y="350.6" width="1" height="5.1" fill="#ff0000" />
<rect x="2253" y="350.6" width="3" height="5.1" fill="#ff0000" />
<rect x="2260" y="346.1" width="1" height="5" fill="#ff0000" />
<rect x="2259" y="346.1" width="3" height="5" fill="#ff0000" />
<rect x="2266" y="346.1" width="1" height="5" fill="#0000ff" />
<rect x="2265" y="346.1" width="3" height="5" fill="#0000ff" />
<rect x="2272" y="350.6" width="1" height="5.1" fill="#0000ff" />
<rect x="2271" y="350.2" width="3" height="1" fill="#0000ff" />
<rect x="2278" y="350.6" width="1" height="5.1" fill="#0000ff" />
<rect x="2277" y="350.2" width="3" height="1" fill="#0000ff" />
<rect x="2284" y="346.1" width="1" height="5" fill="#ff0000" />
<rect x="2283" y="346.1" width="3" height="5" fill="#ff0000" />
<rect x="2290" y="346.1" width="1" height="5" fill="#0000ff" />
<rect x="2289" y="346.1" width="3" height="5" fill="#0000ff" />
<polyline points="1660.5,425.5 1672.5,425.5 1678.5,427.8 1684.5,429.5 1690.5,432.9 1696.5,442 1702.5,450 1708.5,452.3 1726.5,452.3 1732.5,448.3 1738.5,440.9 1744.5,436.4 1774.5,436.4 1780.5,434 1792.5,429.5 1798.5,428.4 1804.5,423.2 1810.5,422.7 1816.5,417.5 1822.5,407.8 1827.3,391.3 1852.5,390.7 1858.5,389 1870.5,389 1876.5,383.7 1882.5,377 1888.5,371.8 1894.5,368.3 1912.5,367.8 1918.5,358.6 1924.5,352.9 1930.5,350.1 1942.5,350.1 1948.5,347.2 1954.5,343.2 1960.5,342.7 1966.5,340.4 1972.5,336.4 1978.5,329.5 1984.5,323.3 2032.5,323.3 2038.5,326.1 2116.5,326.1 2122.5,338.1 2134.5,338.1 2140.5,339.2 2254.5,339.2 2260.5,338.1 2266.5,338.1 2272.5,341.5 2278.5,348.9 2284.5,350.6 2290.5,350" fill="none" stroke="#0000ff" stroke-width="3" stroke-linejoin="round"/>
<rect x="1659" y="568" width="3" height="3" fill="#008000" />
<rect x="1671" y="533" width="3" height="38" fill="#008000" />
<rect x="1677" y="558" width="3" height="13" fill="#008000" />
<rect x="1683" y="558" width="3" height="13" fill="#008000" />
<rect x="1689" y="563" width="3" height="8" fill="#008000" />
<rect x="1701" y="563" width="3" height="8" fill="#008000" />
<rect x="1707" y="561" width="3" height="10" fill="#008000" />
<rect x="1713" y="569" width="3" height="2" fill="#008000" />
<rect x="1719" y="559" width="3" height="12" fill="#008000" />
<rect x="1725" y="559" width="3" height="12" fill="#008000" />
<rect x="1731" y="558" width="3" height="13" fill="#008000" />
<rect x="1737" y="567" width="3" height="4" fill="#008000" />
<rect x="1743" y="564" width="3" height="7" fill="#008000" />
<rect x="1749" y="569" width="3" height="2" fill="#008000" />
<rect x="1755" y="568" width="3" height="3" fill="#008000" />
<rect x="1761" y="569" width="3" height="2" fill="#008000" />
<rect x="1767" y="570" width="3" height="1" fill="#008000" />
<rect x="1773" y="570" width="3" height="1" fill="#008000" />
<rect x="1779" y="570" width="3" height="1" fill="#008000" />
<rect x="1785" y="569" width="3" height="2" fill="#008000" />
<rect x="1791" y="570" width="3" height="1" fill="#008000" />
<rect x="1803" y="569" width="3" height="2" fill="#008000" />
<rect x="1809" y="570" width="3" height="1" fill="#008000" />
<rect x="1815" y="569" width="3" height="2" fill="#008000" />
<rect x="1821" y="570" width="3" height="1" fill="#008000" />
<rect x="1827" y="513" width="3" height="58" fill="#008000" />
<rect x="1833" y="556" width="3" height="15" fill="#008000" />
<rect x="1839" y="562" width="3" height="9" fill="#008000" />
<rect x="1845" y="566" width="3" height="5" fill="#008000" />
<rect x="1857" y="562" width="3" height="9" fill="#008000" />
<rect x="1863" y="560" width="3" height="11" fill="#008000" />
<rect x="1869" y="568" width="3" height="3" fill="#008000" />
<rect x="1875" y="563" width="3" height="8" fill="#008000" />
<rect x="1881" y="563" width="3" height="8" fill="#008000" />
<rect x="1887" y="556" width="3" height="15" fill="#008000" />
<rect x="1893" y="567" width="3" height="4" fill="#008000" />
<rect x="1899" y="568" width="3" height="3" fill="#008000" />
<rect x="1911" y="569" width="3" height="2" fill="#008000" />
<rect x="1917" y="567" width="3" height="4" fill="#008000" />
<rect x="1923" y="568" width="3" height="3" fill="#008000" />
<rect x="1929" y="570" width="3" height="1" fill="#008000" />
<rect x="1947" y="570" width="3" height="1" fill="#008000" />
<rect x="1965" y="569" width="3" height="2" fill="#008000" />
<rect x="1983" y="545" width="3" height="26" fill="#008000" />
<rect x="1989" y="564" width="3" height="7" fill="#008000" />
<rect x="1995" y="567" width="3" height="4" fill="#008000" />
<rect x="2001" y="558" width="3" height="13" fill="#008000" />
<rect x="2007" y="570" width="3" height="1" fill="#008000" />
<rect x="2013" y="558" width="3" height="13" fill="#008000" />
<rect x="2019" y="569" width="3" height="2" fill="#008000" />
<rect x="2025" y="565" width="3" height="6" fill="#008000" />
<rect x="2031" y="570" width="3" height="1" fill="#008000" />
<rect x="2037" y="561" width="3" height="10" fill="#008000" />
<rect x="2043" y="557" width="3" height="14" fill="#008000" />
<rect x="2049" y="570" width="3" height="1" fill="#008000" />
<rect x="2055" y="569" width="3" height="2" fill="#008000" />
<rect x="2061" y="570" width="3" height="1" fill="#008000" />
<rect x="2067" y="570" width="3" height="1" fill="#008000" />
<rect x="2121" y="560" width="3" height="11" fill="#008000" />
<rect x="2127" y="569" width="3" height="2" fill="#008000" />
<rect x="2139" y="548" width="3" height="23" fill="#008000" />
<rect x="2145" y="565" width="3" height="6" fill="#008000" />
<rect x="2151" y="570" width="3" height="1" fill="#008000" />
<rect x="2157" y="567" width="3" height="4" fill="#008000" />
<rect x="2169" y="564" width="3" height="7" fill="#008000" />
<rect x="2175" y="569" width="3" height="2" fill="#008000" />
<rect x="2181" y="565" width="3" height="6" fill="#008000" />
<rect x="2187" y="569" width="3" height="2" fill="#008000" />
<rect x="2193" y="568" width="3" height="3" fill="#008000" />
<rect x="2199" y="559" width="3" height="12" fill="#008000" />
<rect x="2205" y="569" width="3" height="2" fill="#008000" />
<rect x="2211" y="566" width="3" height="5" fill="#008000" />
<rect x="2217" y="570" width="3" height="1" fill="#008000" />
<rect x="2229" y="570" width="3" height="1" fill="#008000" />
<rect x="2235" y="570" width="3" height="1" fill="#008000" />
<rect x="1660" y="634" width="1" height="3" fill="#ff0000" />
<rect x="1666" y="634" width="1" height="3" fill="#ff0000" />
<rect x="1672" y="634" width="1" height="1" fill="#ff0000" />
<rect x="1678" y="632" width="1" height="3" fill="#ff0000" />
<rect x="1684" y="632" width="1" height="3" fill="#ff0000" />
<rect x="1690" y="631" width="1" height="4" fill="#ff0000" />
<rect x="1696" y="631" width="1" height="4" fill="#ff0000" />
<rect x="1702" y="630" width="1" height="5" fill="#ff0000" />
<rect x="1708" y="630" width="1" height="5" fill="#ff0000" />
<rect x="1714" y="630" width="1" height="5" fill="#ff0000" />
<rect x="1720" y="629" width="1" height="6" fill="#ff0000" />
<rect x="1726" y="628" width="1" height="7" fill="#ff0000" />
<rect x="1732" y="628" width="1" height="7" fill="#ff0000" />
<rect x="1738" y="627" width="1" height="8" fill="#ff0000" />
<rect x="1744" y="626" width="1" height="9" fill="#ff0000" />
<rect x="1750" y="624" width="1" height="11" fill="#ff0000" />
<rect x="1756" y="624" width="1" height="11" fill="#ff0000" />
<rect x="1762" y="625" width="1" height="10" fill="#ff0000" />
<rect x="1768" y="626" width="1" height="9" fill="#ff0000" />
<rect x="1774" y="627" width="1" height="8" fill="#ff0000" />
<rect x="1780" y="627" width="1" height="8" fill="#ff0000" />
<rect x="1786" y="628" width="1" height="7" fill="#ff0000" />
<rect x="1792" y="629" width="1" height="6" fill="#ff0000" />
<rect x="1798" y="630" width="1" height="5" fill="#ff0000" />
<rect x="1804" y="630" width="1" height="5" fill="#ff0000" />
<rect x="1810" y="630" width="1" height="5" fill="#ff0000" />
<rect x="1816" y="630" width="1" height="5" fill="#ff0000" />
<rect x="1822" y="630" width="1" height="5" fill="#ff0000" />
<rect x="1828" y="629" width="1" height="6" fill="#ff0000" />
<rect x="1834" y="628" width="1" height="7" fill="#ff0000" />
<rect x="1840" y="628" width="1" height="7" fill="#ff0000" />
<rect x="1846" y="630" width="1" height="5" fill="#ff0000" />
<rect x="1852" y="630" width="1" height="5" fill="#ff0000" />
<rect x="1858" y="631" width="1" height="4" fill="#ff0000" />
<rect x="1864" y="632" width="1" height="3" fill="#ff0000" />
<rect x="1870" y="633" width="1" height="2" fill="#ff0000" />
<rect x="1876" y="634" width="1" height="1" fill="#ff0000" />
<rect x="1882" y="634" width="1" height="1" fill="#ff0000" />
<rect x="1888" y="634" width="1" height="1" fill="#ff0000" />
<rect x="1894" y="634" width="1" height="1" fill="#ff0000" />
<rect x="1900" y="634" width="1" height="3" fill="#ff0000" />
<rect x="1906" y="634" width="1" height="4" fill="#ff0000" />
<rect x="1912" y="634" width="1" height="3" fill="#ff0000" />
<rect x="1918" y="634" width="1" height="3" fill="#ff0000" />
<rect x="1924" y="634" width="1" height="1" fill="#ff0000" />
<rect x="1930" y="634" width="1" height="1" fill="#ff0000" />
<rect x="1936" y="634" width="1" height="1" fill="#ff0000" />
<rect x="1942" y="634" width="1" height="1" fill="#ff0000" />
<rect x="1948" y="634" width="1" height="1" fill="#ff0000" />
<rect x="1954" y="634" width="1" height="1" fill="#ff0000" />
<rect x="1960" y="634" width="1" height="1" fill="#ff0000" />
<rect x="1966" y="634" width="1" height="3" fill="#ff0000" />
<rect x="1972" y="634" width="1" height="4" fill="#ff0000" />
<rect x="1978" y="634" width="1" height="4" fill="#ff0000" />
<rect x="1984" y="634" width="1" height="4" fill="#ff0000" />
<rect x="1990" y="634" width="1" height="3" fill="#ff0000" />
<rect x="1996" y="634" width="1" height="1" fill="#ff0000" />
<rect x="2002" y="634" width="1" height="3" fill="#ff0000" />
<rect x="2008" y="634" width="1" height="4" fill="#ff0000" />
<rect x="2014" y="634" width="1" height="4" fill="#ff0000" />
<rect x="2020" y="634" width="1" height="4" fill="#ff0000" />
<rect x="2026" y="634" width="1" height="4" fill="#ff0000" />
<rect x="2032" y="634" width="1" height="4" fill="#ff0000" />
<rect x="2038" y="634" width="1" height="4" fill="#ff0000" />
<rect x="2044" y="634" width="1" height="4" fill="#ff0000" />
<rect x="2050" y="634" width="1" height="3" fill="#ff0000" />
<rect x="2056" y="634" width="1" height="3" fill="#ff0000" />
<rect x="2062" y="634" width="1" height="1" fill="#ff0000" />
<rect x="2068" y="634" width="1" height="1" fill="#ff0000" />
<rect x="2074" y="634" width="1" height="1" fill="#ff0000" />
<rect x="2080" y="634" width="1" height="1" fill="#ff0000" />
<rect x="2086" y="634" width="1" height="1" fill="#ff0000" />
<rect x="2092" y="634" width="1" height="1" fill="#ff0000" />
<rect x="2098" y="634" width="1" height="1" fill="#ff0000" />
<rect x="2104" y="634" width="1" height="1" fill="#ff0000" />
<rect x="2110" y="634" width="1" height="1" fill="#ff0000" />
<rect x="2116" y="634" width="1" height="1" fill="#ff0000" />
<rect x="2122" y="634" width="1" height="3" fill="#ff0000" />
<rect x="2128" y="634" width="1" height="7" fill="#ff0000" />
<rect x="2134" y="634" width="1" height="8" fill="#ff0000" />
<rect x="2140" y="634" width="1" height="7" fill="#ff0000" />
<rect x="2146" y="634" width="1" height="6" fill="#ff0000" />
<rect x="2152" y="634" width="1" height="4" fill="#ff0000" />
<rect x="2158" y="634" width="1" height="4" fill="#ff0000" />
<rect x="2164" y="634" width="1" height="4" fill="#ff0000" />
<rect x="2170" y="634" width="1" height="1" fill="#ff0000" />
<rect x="2176" y="634" width="1" height="1" fill="#ff0000" />
<rect x="2182" y="634" width="1" height="1" fill="#ff0000" />
<rect x="2188" y="634" width="1" height="1" fill="#ff0000" />
<rect x="2194" y="634" width="1" height="1" fill="#ff0000" />
<rect x="2200" y="634" width="1" height="1" fill="#ff0000" />
<rect x="2206" y="634" width="1" height="1" fill="#ff0000" />
<rect x="2212" y="634" width="1" height="1" fill="#ff0000" />
<rect x="2218" y="634" width="1" height="1" fill="#ff0000" />
<rect x="2224" y="634" width="1" height="1" fill="#ff0000" />
<rect x="2230" y="634" width="1" height="1" fill="#ff0000" />
<rect x="2236" y="634" width="1" height="1" fill="#ff0000" />
<rect x="2242" y="634" width="1" height="1" fill="#ff0000" />
<rect x="2248" y="634" width="1" height="1" fill="#ff0000" />
<rect x="2254" y="634" width="1" height="1" fill="#ff0000" />
<rect x="2260" y="634" width="1" height="1" fill="#ff0000" />
<rect x="2266" y="634" width="1" height="1" fill="#ff0000" />
<rect x="2272" y="634" width="1" height="1" fill="#ff0000" />
<rect x="2278" y="634" width="1" height="1" fill="#ff0000" />
<rect x="2284" y="633" width="1" height="2" fill="#ff0000" />
<rect x="2290" y="634" width="1" height="1" fill="#ff0000" />
<polyline points="1713.9,661.5 1741.3,662.6 1786.9,660.3 1832.6,658 1878.2,656.2 1923.9,653.5 1969.5,648.9 2015.2,643.2 2049.4,637.5 2072.3,630.6 2095.1,624.9 2117.9,619.2 2128.2,618.1 2151.1,614.7 2185.3,610.1 2219.5,606.7 2246.9,604.4 2290.3,604.4" fill="none" stroke="#ffb6c1" stroke-width="1" />
<polyline points="1660.3,658 1666,659.2 1675.1,653.5 1695.6,647.8 1713.9,643.2 1732.2,635.2 1745.9,626.1 1764.1,621.5 1777.8,618.1 1796.1,614.7 1823.5,610.6 1837.2,605.5 1855.4,604.4 1873.7,606.7 1887.4,609 1905.6,613.1 1923.9,612.4 1942.2,614.2 1960.4,615.1 1978.7,621.1 1992.4,619.2 2006.1,623.8 2024.3,627.2 2042.6,630.2 2056.3,630.2 2074.5,627.9 2095.1,627.2 2115.6,625.6 2121.4,630.6 2128.2,635.2 2135.1,639.8 2151.1,640.9 2171.6,641.4 2192.2,638.6 2215,637.5 2237.8,640.5 2251.5,640.5 2265.2,638.6 2290.3,637.5" fill="none" stroke="#ffff00" stroke-width="1.2" />
<polyline points="1660.3,655.3 1672.8,656.2 1695.6,652.3 1718.5,646.6 1736.7,640.9 1755,632.9 1777.8,626.1 1805.2,619.2 1828,614.2 1850.9,609 1869.1,607.1 1889.7,607.1 1912.5,610.6 1946.7,612.4 1981,616.9 1996.9,618.5 2026.6,623.8 2049.4,627.2 2072.3,628.4 2095.1,627.2 2115.6,626.1 2119.1,626.1 2128.2,629.5 2141.9,633.4 2155.6,635.2 2169.3,637.9 2242.4,637.9 2274.3,639.1 2290.3,638.2" fill="none" stroke="#0000ff" stroke-width="1.2" />
<polyline points="1660.3,751.3 1666.4,752.4 1672.6,743.3 1678.5,730.8 1684.5,718.9 1696.6,715.9 1708.4,712.5 1714.6,711.4 1726.5,703.8 1744.5,698.3 1762.5,703.8 1768.7,702.9 1780.6,698.3 1792.4,697 1804.5,697.7 1810.5,697.7 1822.6,700.6 1828.5,702.2 1846.5,702.9 1864.6,705.2 1882.6,706.8 1894.5,710.7 1900,713.6 1912.6,719.8 1924.7,718.2 1936.5,721.2 1948.4,719.8 1960.5,718.2 1966.4,722.8 1978.3,733 1984.5,729.6 1996.5,720.5 2002.5,722.8 2014.4,734.9 2026.4,739.4 2032.4,741.7 2038.5,741.7 2050.4,736.5 2062.5,730.3 2068.4,727.3 2080.5,715.5 2092.4,705.6 2104.5,701.1 2116.4,701.1 2122.5,709.1 2128.5,723.9 2134.4,736.5 2140.6,739.4 2146.5,738.3 2152.4,734.2 2164.5,733 2176.4,731.9 2188.5,729.2 2194.4,729.2 2200.6,726.2 2206.5,722.1 2212.5,721.2 2218.6,726.2 2224.6,729.2 2230.5,737.6 2236.7,738.7 2242.6,743.3 2248.5,743.3 2254.7,739.9 2260.6,734.9 2266.6,730.3 2272.7,729.2 2278.7,729.6 2284.6,728 2290.3,726.2" fill="none" stroke="#ff0000" stroke-width="1" />
<polyline points="1660.3,753.1 1666.4,752.4 1672.6,722.8 1678.5,717.1 1684.5,719.8 1690.4,715.2 1696.6,713.2 1708.4,711.4 1714.6,707.9 1720.5,703.8 1726.5,702.2 1738.6,698.8 1744.5,698.8 1756.6,703.8 1762.5,703.8 1774.4,697.7 1780.6,696.1 1792.4,698.3 1798.6,696.1 1804.5,699.3 1810.5,697 1816.4,701.1 1822.6,703.4 1828.5,704.5 1834.4,702.2 1846.5,702.2 1852.5,704.5 1858.4,706.3 1864.6,704.5 1870.5,706.8 1882.6,706.8 1888.5,712 1894.5,713.6 1900,713.6 1912.6,722.1 1918.7,715.9 1924.7,715.9 1936.5,723.2 1948.4,718.2 1960.5,717.1 1966.4,732.6 1972.4,732.6 1978.3,736.5 1984.5,725 1990.4,718.2 1996.5,718.2 2002.5,731.9 2008.4,737.6 2014.4,737.6 2020.5,740.3 2026.4,741.7 2032.4,742.6 2038.5,740.3 2044.5,736.5 2050.4,732.6 2056.6,732.6 2062.5,730.3 2068.4,721.6 2074.6,715.9 2080.5,706.8 2086.5,705.2 2092.4,704.5 2098.6,699.3 2104.5,701.5 2116.4,701.1 2122.5,726.2 2128.5,737.6 2134.4,743.3 2140.6,736.5 2146.5,734.2 2152.4,732.6 2158.6,733.5 2164.5,732.6 2170.5,733.5 2176.4,730.3 2182.6,728.5 2188.5,729.6 2194.4,728 2200.6,723.9 2206.5,717.5 2212.5,721.6 2218.6,738.3 2224.6,731.9 2230.5,743.3 2248.5,743.3 2254.7,736.5 2260.6,728.5 2266.6,729.6 2278.7,730.3 2284.6,724.6 2290.3,724.6" fill="none" stroke="#0000ff" stroke-width="1" />
</svg>
</body></html>
